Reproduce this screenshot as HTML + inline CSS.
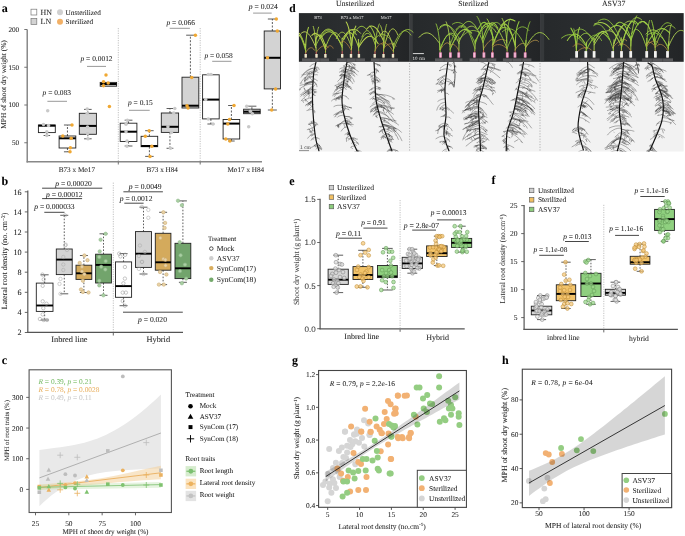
<!DOCTYPE html><html><head><meta charset="utf-8"><style>html,body{margin:0;padding:0;background:#fff;}svg{display:block;will-change:transform;text-rendering:geometricPrecision;font-family:"Liberation Serif",serif;}</style></head><body>
<svg width="685" height="536" viewBox="0 0 685 536">
<rect width="685" height="536" fill="#fff"/>
<text x="1.8" y="11.7" font-size="12" text-anchor="start" fill="#000" font-weight="bold" font-style="normal" stroke="#000" stroke-width="0.05">a</text>
<rect x="31" y="9.2" width="5.8" height="5.8" fill="#fff" stroke="#777" stroke-width="0.7"/>
<rect x="31" y="18.6" width="5.8" height="5.8" fill="#d3d3d3" stroke="#777" stroke-width="0.7"/>
<text x="40.6" y="15" font-size="7.9" text-anchor="start" fill="#222" font-weight="normal" font-style="normal" stroke="#222" stroke-width="0.05">HN</text>
<text x="40.6" y="24.2" font-size="7.9" text-anchor="start" fill="#222" font-weight="normal" font-style="normal" stroke="#222" stroke-width="0.05">LN</text>
<circle cx="60" cy="12.2" r="3.0" fill="#d0d0d0" stroke="none" stroke-width="0.6"/>
<circle cx="60" cy="21.7" r="3.0" fill="#f2b066" stroke="none" stroke-width="0.6"/>
<text x="65.6" y="15" font-size="7.2" text-anchor="start" fill="#222" font-weight="normal" font-style="normal" stroke="#222" stroke-width="0.05">Unsterilized</text>
<text x="65.6" y="24.2" font-size="7.2" text-anchor="start" fill="#222" font-weight="normal" font-style="normal" stroke="#222" stroke-width="0.05">Sterilized</text>
<line x1="27.2" y1="29.5" x2="27.2" y2="162.4" stroke="#777" stroke-width="1.3"/>
<line x1="26.6" y1="161.8" x2="262" y2="161.8" stroke="#888" stroke-width="1.5"/>
<line x1="24.3" y1="29.5" x2="27.2" y2="29.5" stroke="#666" stroke-width="0.9"/>
<text x="19.2" y="31.9" font-size="7.2" text-anchor="end" fill="#222" font-weight="normal" font-style="normal" stroke="#222" stroke-width="0.05">200</text>
<line x1="24.3" y1="67.25" x2="27.2" y2="67.25" stroke="#666" stroke-width="0.9"/>
<text x="19.2" y="69.65" font-size="7.2" text-anchor="end" fill="#222" font-weight="normal" font-style="normal" stroke="#222" stroke-width="0.05">150</text>
<line x1="24.3" y1="105.0" x2="27.2" y2="105.0" stroke="#666" stroke-width="0.9"/>
<text x="19.2" y="107.4" font-size="7.2" text-anchor="end" fill="#222" font-weight="normal" font-style="normal" stroke="#222" stroke-width="0.05">100</text>
<line x1="24.3" y1="142.75" x2="27.2" y2="142.75" stroke="#666" stroke-width="0.9"/>
<text x="19.2" y="145.15" font-size="7.2" text-anchor="end" fill="#222" font-weight="normal" font-style="normal" stroke="#222" stroke-width="0.05">50</text>
<line x1="118.3" y1="161.8" x2="118.3" y2="164.5" stroke="#666" stroke-width="0.9"/>
<line x1="118.3" y1="28" x2="118.3" y2="161.5" stroke="#999" stroke-width="0.6" stroke-dasharray="1.2,1.2"/>
<line x1="200.2" y1="161.8" x2="200.2" y2="164.5" stroke="#666" stroke-width="0.9"/>
<line x1="200.2" y1="28" x2="200.2" y2="161.5" stroke="#999" stroke-width="0.6" stroke-dasharray="1.2,1.2"/>
<text x="6.2" y="84.5" font-size="7.4" text-anchor="middle" fill="#222" font-weight="normal" font-style="normal" transform="rotate(-90 6.2 84.5)" stroke="#222" stroke-width="0.05">MPH of shoot dry weight (%)</text>
<text x="76.9" y="171.5" font-size="7.2" text-anchor="middle" fill="#222" font-weight="normal" font-style="normal" stroke="#222" stroke-width="0.05">B73 x Mo17</text>
<text x="162.2" y="171.5" font-size="7.2" text-anchor="middle" fill="#222" font-weight="normal" font-style="normal" stroke="#222" stroke-width="0.05">B73 x H84</text>
<text x="245.8" y="171.5" font-size="7.2" text-anchor="middle" fill="#222" font-weight="normal" font-style="normal" stroke="#222" stroke-width="0.05">Mo17 x H84</text>
<text x="42.6" y="94.8" font-size="7.45" text-anchor="start" fill="#222" stroke="#222" stroke-width="0.05"><tspan font-style="italic">p</tspan> = 0.083</text>
<line x1="47.4" y1="101.3" x2="67" y2="101.3" stroke="#999" stroke-width="1"/>
<text x="80.5" y="61" font-size="7.45" text-anchor="start" fill="#222" stroke="#222" stroke-width="0.05"><tspan font-style="italic">p</tspan> = 0.0012</text>
<line x1="87" y1="66.4" x2="106" y2="66.4" stroke="#999" stroke-width="1"/>
<text x="128" y="105.2" font-size="7.45" text-anchor="start" fill="#222" stroke="#222" stroke-width="0.05"><tspan font-style="italic">p</tspan> = 0.15</text>
<line x1="129" y1="110.3" x2="149.7" y2="110.3" stroke="#999" stroke-width="1"/>
<text x="166.5" y="25" font-size="7.45" text-anchor="start" fill="#222" stroke="#222" stroke-width="0.05"><tspan font-style="italic">p</tspan> = 0.066</text>
<line x1="169.7" y1="28.3" x2="189.9" y2="28.3" stroke="#999" stroke-width="1"/>
<text x="204.4" y="57.6" font-size="7.45" text-anchor="start" fill="#222" stroke="#222" stroke-width="0.05"><tspan font-style="italic">p</tspan> = 0.058</text>
<line x1="212.2" y1="61.3" x2="231.5" y2="61.3" stroke="#999" stroke-width="1"/>
<text x="248.8" y="8.8" font-size="7.6" text-anchor="start" fill="#222" stroke="#222" stroke-width="0.05"><tspan font-style="italic">p</tspan> = 0.024</text>
<line x1="253.1" y1="13.1" x2="271.7" y2="13.1" stroke="#999" stroke-width="1"/>
<line x1="46.849999999999994" y1="132.6" x2="46.849999999999994" y2="135.5" stroke="#333" stroke-width="0.8" stroke-dasharray="2,1.5"/>
<line x1="43.599999999999994" y1="135.5" x2="50.099999999999994" y2="135.5" stroke="#333" stroke-width="0.8"/>
<rect x="38.4" y="125" width="16.9" height="7.599999999999994" fill="#fff" stroke="#222" stroke-width="0.9"/>
<line x1="38.4" y1="125.7" x2="55.3" y2="125.7" stroke="#000" stroke-width="2.0"/>
<circle cx="47.7" cy="110.8" r="1.75" fill="#c9c9c9" stroke="none" stroke-width="0.5"/>
<circle cx="43.5" cy="124.5" r="1.75" fill="#c9c9c9" stroke="none" stroke-width="0.5"/>
<circle cx="48.5" cy="125.4" r="1.75" fill="#c9c9c9" stroke="none" stroke-width="0.5"/>
<circle cx="46.8" cy="131.8" r="1.75" fill="#c9c9c9" stroke="none" stroke-width="0.5"/>
<circle cx="46.8" cy="135.5" r="1.75" fill="#c9c9c9" stroke="none" stroke-width="0.5"/>
<line x1="67.45" y1="136" x2="67.45" y2="125" stroke="#333" stroke-width="0.8" stroke-dasharray="2,1.5"/>
<line x1="63.95" y1="125" x2="70.95" y2="125" stroke="#333" stroke-width="0.8"/>
<line x1="67.45" y1="148" x2="67.45" y2="151.8" stroke="#333" stroke-width="0.8" stroke-dasharray="2,1.5"/>
<line x1="63.95" y1="151.8" x2="70.95" y2="151.8" stroke="#333" stroke-width="0.8"/>
<rect x="59.1" y="136" width="16.699999999999996" height="12" fill="#fff" stroke="#222" stroke-width="0.9"/>
<line x1="59.1" y1="138.3" x2="75.8" y2="138.3" stroke="#000" stroke-width="2.0"/>
<circle cx="72" cy="125" r="1.75" fill="#f0a833" stroke="none" stroke-width="0.5"/>
<circle cx="62.8" cy="136" r="1.75" fill="#f0a833" stroke="none" stroke-width="0.5"/>
<circle cx="71.2" cy="138.3" r="1.75" fill="#f0a833" stroke="none" stroke-width="0.5"/>
<circle cx="70.4" cy="147.7" r="1.75" fill="#f0a833" stroke="none" stroke-width="0.5"/>
<circle cx="70" cy="151.8" r="1.75" fill="#f0a833" stroke="none" stroke-width="0.5"/>
<line x1="87.85" y1="113.3" x2="87.85" y2="109.4" stroke="#333" stroke-width="0.8" stroke-dasharray="2,1.5"/>
<line x1="84.05" y1="109.4" x2="91.64999999999999" y2="109.4" stroke="#333" stroke-width="0.8"/>
<line x1="87.85" y1="134.3" x2="87.85" y2="138.8" stroke="#333" stroke-width="0.8" stroke-dasharray="2,1.5"/>
<line x1="84.05" y1="138.8" x2="91.64999999999999" y2="138.8" stroke="#333" stroke-width="0.8"/>
<rect x="79.3" y="113.3" width="17.10000000000001" height="21.000000000000014" fill="#d3d3d3" stroke="#222" stroke-width="0.9"/>
<line x1="79.3" y1="125.9" x2="96.4" y2="125.9" stroke="#000" stroke-width="2.0"/>
<circle cx="87.2" cy="108.9" r="1.75" fill="#c9c9c9" stroke="none" stroke-width="0.5"/>
<circle cx="87.2" cy="113.6" r="1.75" fill="#c9c9c9" stroke="none" stroke-width="0.5"/>
<circle cx="87.5" cy="127" r="1.75" fill="#c9c9c9" stroke="none" stroke-width="0.5"/>
<circle cx="87.5" cy="133.4" r="1.75" fill="#c9c9c9" stroke="none" stroke-width="0.5"/>
<circle cx="88" cy="138.8" r="1.75" fill="#c9c9c9" stroke="none" stroke-width="0.5"/>
<rect x="100.2" y="82.4" width="16.39999999999999" height="3.799999999999997" fill="#d3d3d3" stroke="#222" stroke-width="0.9"/>
<line x1="100.2" y1="84" x2="116.6" y2="84" stroke="#000" stroke-width="2.0"/>
<circle cx="106" cy="75" r="1.75" fill="#f0a833" stroke="none" stroke-width="0.5"/>
<circle cx="103.5" cy="81.7" r="1.75" fill="#f0a833" stroke="none" stroke-width="0.5"/>
<circle cx="108.2" cy="82.9" r="1.75" fill="#f0a833" stroke="none" stroke-width="0.5"/>
<circle cx="103.5" cy="85.7" r="1.75" fill="#f0a833" stroke="none" stroke-width="0.5"/>
<circle cx="109.4" cy="106.4" r="1.75" fill="#f0a833" stroke="none" stroke-width="0.5"/>
<line x1="128.55" y1="123.2" x2="128.55" y2="120.2" stroke="#333" stroke-width="0.8" stroke-dasharray="2,1.5"/>
<line x1="124.65" y1="120.2" x2="132.45000000000002" y2="120.2" stroke="#333" stroke-width="0.8"/>
<line x1="128.55" y1="141.5" x2="128.55" y2="146" stroke="#333" stroke-width="0.8" stroke-dasharray="2,1.5"/>
<line x1="124.65" y1="146" x2="132.45000000000002" y2="146" stroke="#333" stroke-width="0.8"/>
<rect x="120.2" y="123.2" width="16.700000000000003" height="18.299999999999997" fill="#fff" stroke="#222" stroke-width="0.9"/>
<line x1="120.2" y1="131.7" x2="136.9" y2="131.7" stroke="#000" stroke-width="2.0"/>
<circle cx="127.4" cy="120.2" r="1.75" fill="#c9c9c9" stroke="none" stroke-width="0.5"/>
<circle cx="126" cy="124.2" r="1.75" fill="#c9c9c9" stroke="none" stroke-width="0.5"/>
<circle cx="126" cy="131.7" r="1.75" fill="#c9c9c9" stroke="none" stroke-width="0.5"/>
<circle cx="127" cy="141.1" r="1.75" fill="#c9c9c9" stroke="none" stroke-width="0.5"/>
<circle cx="127" cy="146.3" r="1.75" fill="#c9c9c9" stroke="none" stroke-width="0.5"/>
<line x1="149.39999999999998" y1="136.3" x2="149.39999999999998" y2="130.7" stroke="#333" stroke-width="0.8" stroke-dasharray="2,1.5"/>
<line x1="145.14999999999998" y1="130.7" x2="153.64999999999998" y2="130.7" stroke="#333" stroke-width="0.8"/>
<line x1="149.39999999999998" y1="146.7" x2="149.39999999999998" y2="156.4" stroke="#333" stroke-width="0.8" stroke-dasharray="2,1.5"/>
<line x1="145.14999999999998" y1="156.4" x2="153.64999999999998" y2="156.4" stroke="#333" stroke-width="0.8"/>
<rect x="141.1" y="136.3" width="16.599999999999994" height="10.399999999999977" fill="#fff" stroke="#222" stroke-width="0.9"/>
<line x1="141.1" y1="146" x2="157.7" y2="146" stroke="#000" stroke-width="2.0"/>
<circle cx="149.2" cy="130.7" r="1.75" fill="#f0a833" stroke="none" stroke-width="0.5"/>
<circle cx="145.3" cy="136.3" r="1.75" fill="#f0a833" stroke="none" stroke-width="0.5"/>
<circle cx="151.8" cy="146.3" r="1.75" fill="#f0a833" stroke="none" stroke-width="0.5"/>
<circle cx="150" cy="156.4" r="1.75" fill="#f0a833" stroke="none" stroke-width="0.5"/>
<line x1="169.95" y1="113" x2="169.95" y2="108.5" stroke="#333" stroke-width="0.8" stroke-dasharray="2,1.5"/>
<line x1="166.54999999999998" y1="108.5" x2="173.35" y2="108.5" stroke="#333" stroke-width="0.8"/>
<line x1="169.95" y1="132.4" x2="169.95" y2="148.3" stroke="#333" stroke-width="0.8" stroke-dasharray="2,1.5"/>
<line x1="166.54999999999998" y1="148.3" x2="173.35" y2="148.3" stroke="#333" stroke-width="0.8"/>
<rect x="161.3" y="113" width="17.299999999999983" height="19.400000000000006" fill="#d3d3d3" stroke="#222" stroke-width="0.9"/>
<line x1="161.3" y1="126.8" x2="178.6" y2="126.8" stroke="#000" stroke-width="2.0"/>
<circle cx="174.8" cy="108.5" r="1.75" fill="#c9c9c9" stroke="none" stroke-width="0.5"/>
<circle cx="173.7" cy="113" r="1.75" fill="#c9c9c9" stroke="none" stroke-width="0.5"/>
<circle cx="167.9" cy="126.8" r="1.75" fill="#c9c9c9" stroke="none" stroke-width="0.5"/>
<circle cx="171.4" cy="132.6" r="1.75" fill="#c9c9c9" stroke="none" stroke-width="0.5"/>
<circle cx="170.5" cy="148.3" r="1.75" fill="#c9c9c9" stroke="none" stroke-width="0.5"/>
<line x1="190.4" y1="77.2" x2="190.4" y2="35.2" stroke="#333" stroke-width="0.8" stroke-dasharray="2,1.5"/>
<line x1="186.15" y1="35.2" x2="194.65" y2="35.2" stroke="#333" stroke-width="0.8"/>
<rect x="182" y="77.2" width="16.80000000000001" height="30.799999999999997" fill="#d3d3d3" stroke="#222" stroke-width="0.9"/>
<line x1="182" y1="105.7" x2="198.8" y2="105.7" stroke="#000" stroke-width="2.0"/>
<circle cx="195.4" cy="35.2" r="1.75" fill="#f0a833" stroke="none" stroke-width="0.5"/>
<circle cx="191.7" cy="77.5" r="1.75" fill="#f0a833" stroke="none" stroke-width="0.5"/>
<circle cx="187" cy="105.7" r="1.75" fill="#f0a833" stroke="none" stroke-width="0.5"/>
<circle cx="188" cy="108" r="1.75" fill="#f0a833" stroke="none" stroke-width="0.5"/>
<line x1="210.89999999999998" y1="118.9" x2="210.89999999999998" y2="124" stroke="#333" stroke-width="0.8" stroke-dasharray="2,1.5"/>
<line x1="207.39999999999998" y1="124" x2="214.39999999999998" y2="124" stroke="#333" stroke-width="0.8"/>
<rect x="202.6" y="74.8" width="16.599999999999994" height="44.10000000000001" fill="#fff" stroke="#222" stroke-width="0.9"/>
<line x1="202.6" y1="99.6" x2="219.2" y2="99.6" stroke="#000" stroke-width="2.0"/>
<circle cx="208.3" cy="74.4" r="1.75" fill="#c9c9c9" stroke="none" stroke-width="0.5"/>
<circle cx="211" cy="74.4" r="1.75" fill="#c9c9c9" stroke="none" stroke-width="0.5"/>
<circle cx="205.7" cy="99.6" r="1.75" fill="#c9c9c9" stroke="none" stroke-width="0.5"/>
<circle cx="208.3" cy="118.9" r="1.75" fill="#c9c9c9" stroke="none" stroke-width="0.5"/>
<circle cx="213" cy="124" r="1.75" fill="#c9c9c9" stroke="none" stroke-width="0.5"/>
<line x1="231.39999999999998" y1="119.5" x2="231.39999999999998" y2="105.5" stroke="#333" stroke-width="0.8" stroke-dasharray="2,1.5"/>
<line x1="228.09999999999997" y1="105.5" x2="234.7" y2="105.5" stroke="#333" stroke-width="0.8"/>
<line x1="231.39999999999998" y1="139" x2="231.39999999999998" y2="141" stroke="#333" stroke-width="0.8" stroke-dasharray="2,1.5"/>
<line x1="228.09999999999997" y1="141" x2="234.7" y2="141" stroke="#333" stroke-width="0.8"/>
<rect x="223.1" y="119.5" width="16.599999999999994" height="19.5" fill="#fff" stroke="#222" stroke-width="0.9"/>
<line x1="223.1" y1="123.6" x2="239.7" y2="123.6" stroke="#000" stroke-width="2.0"/>
<circle cx="234" cy="105.5" r="1.75" fill="#f0a833" stroke="none" stroke-width="0.5"/>
<circle cx="229.5" cy="119.5" r="1.75" fill="#f0a833" stroke="none" stroke-width="0.5"/>
<circle cx="227.8" cy="124" r="1.75" fill="#f0a833" stroke="none" stroke-width="0.5"/>
<circle cx="225.8" cy="139" r="1.75" fill="#f0a833" stroke="none" stroke-width="0.5"/>
<circle cx="229.9" cy="141" r="1.75" fill="#f0a833" stroke="none" stroke-width="0.5"/>
<line x1="251.89999999999998" y1="109.2" x2="251.89999999999998" y2="106.2" stroke="#333" stroke-width="0.8" stroke-dasharray="2,1.5"/>
<line x1="247.39999999999998" y1="106.2" x2="256.4" y2="106.2" stroke="#333" stroke-width="0.8"/>
<rect x="243.6" y="109.2" width="16.599999999999994" height="4.5" fill="#d3d3d3" stroke="#222" stroke-width="0.9"/>
<line x1="243.6" y1="111.7" x2="260.2" y2="111.7" stroke="#000" stroke-width="2.0"/>
<circle cx="246.7" cy="106.2" r="1.75" fill="#c9c9c9" stroke="none" stroke-width="0.5"/>
<circle cx="250.4" cy="111.3" r="1.75" fill="#c9c9c9" stroke="none" stroke-width="0.5"/>
<circle cx="252.4" cy="113.7" r="1.75" fill="#c9c9c9" stroke="none" stroke-width="0.5"/>
<circle cx="248.7" cy="126.7" r="1.75" fill="#c9c9c9" stroke="none" stroke-width="0.5"/>
<line x1="272.35" y1="31" x2="272.35" y2="19" stroke="#333" stroke-width="0.8" stroke-dasharray="2,1.5"/>
<line x1="267.85" y1="19" x2="276.85" y2="19" stroke="#333" stroke-width="0.8"/>
<line x1="272.35" y1="88.9" x2="272.35" y2="110" stroke="#333" stroke-width="0.8" stroke-dasharray="2,1.5"/>
<line x1="267.85" y1="110" x2="276.85" y2="110" stroke="#333" stroke-width="0.8"/>
<rect x="264.2" y="31" width="16.30000000000001" height="57.900000000000006" fill="#d3d3d3" stroke="#222" stroke-width="0.9"/>
<line x1="264.2" y1="57.8" x2="280.5" y2="57.8" stroke="#000" stroke-width="2.0"/>
<circle cx="276.3" cy="19" r="1.75" fill="#f0a833" stroke="none" stroke-width="0.5"/>
<circle cx="277.3" cy="31" r="1.75" fill="#f0a833" stroke="none" stroke-width="0.5"/>
<circle cx="267.5" cy="57.8" r="1.75" fill="#f0a833" stroke="none" stroke-width="0.5"/>
<circle cx="275.6" cy="88.9" r="1.75" fill="#f0a833" stroke="none" stroke-width="0.5"/>
<circle cx="271.7" cy="110" r="1.75" fill="#f0a833" stroke="none" stroke-width="0.5"/>
<text x="1.5" y="184.7" font-size="12" text-anchor="start" fill="#000" font-weight="bold" font-style="normal" stroke="#000" stroke-width="0.05">b</text>
<line x1="27.8" y1="190.5" x2="27.8" y2="332.8" stroke="#555" stroke-width="1.2"/>
<line x1="27.2" y1="332.3" x2="183" y2="332.3" stroke="#555" stroke-width="1.2"/>
<line x1="24.8" y1="191.8" x2="27.8" y2="191.8" stroke="#555" stroke-width="0.9"/>
<text x="21.6" y="194.5" font-size="8.2" text-anchor="end" fill="#222" font-weight="normal" font-style="normal" stroke="#222" stroke-width="0.05">16</text>
<line x1="24.8" y1="211.9" x2="27.8" y2="211.9" stroke="#555" stroke-width="0.9"/>
<text x="21.6" y="214.6" font-size="8.2" text-anchor="end" fill="#222" font-weight="normal" font-style="normal" stroke="#222" stroke-width="0.05">14</text>
<line x1="24.8" y1="232.0" x2="27.8" y2="232.0" stroke="#555" stroke-width="0.9"/>
<text x="21.6" y="234.7" font-size="8.2" text-anchor="end" fill="#222" font-weight="normal" font-style="normal" stroke="#222" stroke-width="0.05">12</text>
<line x1="24.8" y1="252.10000000000002" x2="27.8" y2="252.10000000000002" stroke="#555" stroke-width="0.9"/>
<text x="21.6" y="254.8" font-size="8.2" text-anchor="end" fill="#222" font-weight="normal" font-style="normal" stroke="#222" stroke-width="0.05">10</text>
<line x1="24.8" y1="272.20000000000005" x2="27.8" y2="272.20000000000005" stroke="#555" stroke-width="0.9"/>
<text x="21.6" y="274.90000000000003" font-size="8.2" text-anchor="end" fill="#222" font-weight="normal" font-style="normal" stroke="#222" stroke-width="0.05">8</text>
<line x1="24.8" y1="292.3" x2="27.8" y2="292.3" stroke="#555" stroke-width="0.9"/>
<text x="21.6" y="295.0" font-size="8.2" text-anchor="end" fill="#222" font-weight="normal" font-style="normal" stroke="#222" stroke-width="0.05">6</text>
<line x1="24.8" y1="312.40000000000003" x2="27.8" y2="312.40000000000003" stroke="#555" stroke-width="0.9"/>
<text x="21.6" y="315.1" font-size="8.2" text-anchor="end" fill="#222" font-weight="normal" font-style="normal" stroke="#222" stroke-width="0.05">4</text>
<line x1="24.8" y1="332.5" x2="27.8" y2="332.5" stroke="#555" stroke-width="0.9"/>
<text x="21.6" y="335.2" font-size="8.2" text-anchor="end" fill="#222" font-weight="normal" font-style="normal" stroke="#222" stroke-width="0.05">2</text>
<line x1="113.3" y1="333" x2="113.3" y2="335.5" stroke="#555" stroke-width="0.9"/>
<line x1="113.3" y1="182.6" x2="113.3" y2="332" stroke="#999" stroke-width="0.6" stroke-dasharray="1.2,1.2"/>
<text x="7" y="261" font-size="7.95" text-anchor="middle" fill="#222" transform="rotate(-90 7 261)" stroke="#222" stroke-width="0.05">Lateral root density (no. cm<tspan dy="-2.5" font-size="5.5">−2</tspan><tspan dy="2.5">)</tspan></text>
<text x="69.4" y="341.9" font-size="8.35" text-anchor="middle" fill="#222" font-weight="normal" font-style="normal" stroke="#222" stroke-width="0.05">Inbred line</text>
<text x="158.3" y="341.5" font-size="8.35" text-anchor="middle" fill="#222" font-weight="normal" font-style="normal" stroke="#222" stroke-width="0.05">Hybrid</text>
<text x="55.2" y="186.4" font-size="7.6" text-anchor="start" fill="#222" stroke="#222" stroke-width="0.05"><tspan font-style="italic">p</tspan> = 0.00020</text>
<line x1="42.1" y1="188.2" x2="102.3" y2="188.2" stroke="#333" stroke-width="0.9"/>
<text x="46" y="196.8" font-size="7.6" text-anchor="start" fill="#222" stroke="#222" stroke-width="0.05"><tspan font-style="italic">p</tspan> = 0.00012</text>
<line x1="42.1" y1="198.6" x2="82.1" y2="198.6" stroke="#333" stroke-width="0.9"/>
<text x="34.2" y="208.6" font-size="7.6" text-anchor="start" fill="#222" stroke="#222" stroke-width="0.05"><tspan font-style="italic">p</tspan> = 0.000033</text>
<line x1="44.3" y1="212.3" x2="64.5" y2="212.3" stroke="#333" stroke-width="0.9"/>
<text x="128.8" y="188.8" font-size="7.6" text-anchor="start" fill="#222" stroke="#222" stroke-width="0.05"><tspan font-style="italic">p</tspan> = 0.0049</text>
<line x1="123.4" y1="191.8" x2="162.9" y2="191.8" stroke="#333" stroke-width="0.9"/>
<text x="119.7" y="201" font-size="7.6" text-anchor="start" fill="#222" stroke="#222" stroke-width="0.05"><tspan font-style="italic">p</tspan> = 0.0012</text>
<line x1="124.3" y1="203.2" x2="143.6" y2="203.2" stroke="#333" stroke-width="0.9"/>
<line x1="123" y1="312.2" x2="182.8" y2="312.2" stroke="#333" stroke-width="0.9"/>
<text x="138" y="321.5" font-size="7.6" text-anchor="start" fill="#222" stroke="#222" stroke-width="0.05"><tspan font-style="italic">p</tspan> = 0.020</text>
<line x1="44.65" y1="283.1" x2="44.65" y2="274.8" stroke="#333" stroke-width="0.8" stroke-dasharray="1.6,1.6"/>
<line x1="40.65" y1="274.8" x2="48.65" y2="274.8" stroke="#333" stroke-width="0.8"/>
<line x1="44.65" y1="311.4" x2="44.65" y2="320" stroke="#333" stroke-width="0.8" stroke-dasharray="1.6,1.6"/>
<line x1="40.65" y1="320" x2="48.65" y2="320" stroke="#333" stroke-width="0.8"/>
<rect x="36.3" y="283.1" width="16.700000000000003" height="28.299999999999955" fill="#fff" stroke="#222" stroke-width="0.9"/>
<line x1="36.3" y1="305.5" x2="53" y2="305.5" stroke="#000" stroke-width="1.9"/>
<circle cx="42.4" cy="274.6" r="1.7" fill="none" stroke="#999" stroke-width="0.55"/>
<circle cx="43.7" cy="279.4" r="1.7" fill="none" stroke="#999" stroke-width="0.55"/>
<circle cx="42.7" cy="285.8" r="1.7" fill="none" stroke="#999" stroke-width="0.55"/>
<circle cx="42.7" cy="301.3" r="1.7" fill="none" stroke="#999" stroke-width="0.55"/>
<circle cx="46.5" cy="303.7" r="1.7" fill="none" stroke="#999" stroke-width="0.55"/>
<circle cx="43.3" cy="308.2" r="1.7" fill="none" stroke="#999" stroke-width="0.55"/>
<circle cx="42.7" cy="314.4" r="1.7" fill="none" stroke="#999" stroke-width="0.55"/>
<circle cx="39.9" cy="319" r="1.7" fill="none" stroke="#999" stroke-width="0.55"/>
<circle cx="43.7" cy="320" r="1.7" fill="none" stroke="#999" stroke-width="0.55"/>
<circle cx="47" cy="320" r="1.7" fill="none" stroke="#999" stroke-width="0.55"/>
<line x1="64.25" y1="249" x2="64.25" y2="215.3" stroke="#333" stroke-width="0.8" stroke-dasharray="1.6,1.6"/>
<line x1="60.25" y1="215.3" x2="68.25" y2="215.3" stroke="#333" stroke-width="0.8"/>
<line x1="64.25" y1="274.6" x2="64.25" y2="293.8" stroke="#333" stroke-width="0.8" stroke-dasharray="1.6,1.6"/>
<line x1="60.25" y1="293.8" x2="68.25" y2="293.8" stroke="#333" stroke-width="0.8"/>
<rect x="56.3" y="249" width="15.900000000000006" height="25.600000000000023" fill="#d3d3d3" stroke="#222" stroke-width="0.9"/>
<line x1="56.3" y1="259.6" x2="72.2" y2="259.6" stroke="#000" stroke-width="1.9"/>
<circle cx="65" cy="215.3" r="1.7" fill="none" stroke="#aaa" stroke-width="0.55"/>
<circle cx="65.8" cy="244.7" r="1.7" fill="none" stroke="#aaa" stroke-width="0.55"/>
<circle cx="65.1" cy="245.3" r="1.7" fill="none" stroke="#aaa" stroke-width="0.55"/>
<circle cx="67" cy="250" r="1.7" fill="none" stroke="#aaa" stroke-width="0.55"/>
<circle cx="63.3" cy="257" r="1.7" fill="none" stroke="#aaa" stroke-width="0.55"/>
<circle cx="63.3" cy="264.5" r="1.7" fill="none" stroke="#aaa" stroke-width="0.55"/>
<circle cx="63.3" cy="270" r="1.7" fill="none" stroke="#aaa" stroke-width="0.55"/>
<circle cx="60.5" cy="278.9" r="1.7" fill="none" stroke="#aaa" stroke-width="0.55"/>
<circle cx="59.5" cy="283.9" r="1.7" fill="none" stroke="#aaa" stroke-width="0.55"/>
<circle cx="60.5" cy="293.8" r="1.7" fill="none" stroke="#aaa" stroke-width="0.55"/>
<line x1="83.9" y1="265.2" x2="83.9" y2="255.5" stroke="#333" stroke-width="0.8" stroke-dasharray="1.6,1.6"/>
<line x1="79.9" y1="255.5" x2="87.9" y2="255.5" stroke="#333" stroke-width="0.8"/>
<line x1="83.9" y1="279.4" x2="83.9" y2="292.5" stroke="#333" stroke-width="0.8" stroke-dasharray="1.6,1.6"/>
<line x1="79.9" y1="292.5" x2="87.9" y2="292.5" stroke="#333" stroke-width="0.8"/>
<rect x="76" y="265.2" width="15.799999999999997" height="14.199999999999989" fill="#d4aa5c" stroke="#222" stroke-width="0.9"/>
<line x1="76" y1="273.3" x2="91.8" y2="273.3" stroke="#000" stroke-width="1.9"/>
<circle cx="84.4" cy="255.5" r="1.7" fill="#e8d2a8" stroke="#c9a86a" stroke-width="0.55"/>
<circle cx="87.5" cy="260.2" r="1.7" fill="#e8d2a8" stroke="#c9a86a" stroke-width="0.55"/>
<circle cx="79.7" cy="263" r="1.7" fill="#e8d2a8" stroke="#c9a86a" stroke-width="0.55"/>
<circle cx="82" cy="266.7" r="1.7" fill="#e8d2a8" stroke="#c9a86a" stroke-width="0.55"/>
<circle cx="82" cy="271.4" r="1.7" fill="#e8d2a8" stroke="#c9a86a" stroke-width="0.55"/>
<circle cx="84.4" cy="274.2" r="1.7" fill="#e8d2a8" stroke="#c9a86a" stroke-width="0.55"/>
<circle cx="82.9" cy="280.7" r="1.7" fill="#e8d2a8" stroke="#c9a86a" stroke-width="0.55"/>
<circle cx="81" cy="289.5" r="1.7" fill="#e8d2a8" stroke="#c9a86a" stroke-width="0.55"/>
<circle cx="88.5" cy="292.5" r="1.7" fill="#e8d2a8" stroke="#c9a86a" stroke-width="0.55"/>
<circle cx="82.9" cy="292" r="1.7" fill="#e8d2a8" stroke="#c9a86a" stroke-width="0.55"/>
<line x1="103.5" y1="254.2" x2="103.5" y2="233.8" stroke="#333" stroke-width="0.8" stroke-dasharray="1.6,1.6"/>
<line x1="99.5" y1="233.8" x2="107.5" y2="233.8" stroke="#333" stroke-width="0.8"/>
<line x1="103.5" y1="283" x2="103.5" y2="295.3" stroke="#333" stroke-width="0.8" stroke-dasharray="1.6,1.6"/>
<line x1="99.5" y1="295.3" x2="107.5" y2="295.3" stroke="#333" stroke-width="0.8"/>
<rect x="95.6" y="254.2" width="15.800000000000011" height="28.80000000000001" fill="#72a46c" stroke="#222" stroke-width="0.9"/>
<line x1="95.6" y1="264.9" x2="111.4" y2="264.9" stroke="#000" stroke-width="1.9"/>
<circle cx="105.6" cy="233.8" r="1.7" fill="#a9cfa3" stroke="#8fb88a" stroke-width="0.55"/>
<circle cx="100.6" cy="239.7" r="1.7" fill="#a9cfa3" stroke="#8fb88a" stroke-width="0.55"/>
<circle cx="99.7" cy="251.4" r="1.7" fill="#a9cfa3" stroke="#8fb88a" stroke-width="0.55"/>
<circle cx="99.3" cy="257" r="1.7" fill="#a9cfa3" stroke="#8fb88a" stroke-width="0.55"/>
<circle cx="105.7" cy="261.1" r="1.7" fill="#a9cfa3" stroke="#8fb88a" stroke-width="0.55"/>
<circle cx="101.2" cy="266.7" r="1.7" fill="#a9cfa3" stroke="#8fb88a" stroke-width="0.55"/>
<circle cx="105.3" cy="269.5" r="1.7" fill="#a9cfa3" stroke="#8fb88a" stroke-width="0.55"/>
<circle cx="99.3" cy="280.7" r="1.7" fill="#a9cfa3" stroke="#8fb88a" stroke-width="0.55"/>
<circle cx="99.3" cy="285.4" r="1.7" fill="#a9cfa3" stroke="#8fb88a" stroke-width="0.55"/>
<circle cx="103.4" cy="295.3" r="1.7" fill="#a9cfa3" stroke="#8fb88a" stroke-width="0.55"/>
<line x1="123.55" y1="261.9" x2="123.55" y2="253.6" stroke="#333" stroke-width="0.8" stroke-dasharray="1.6,1.6"/>
<line x1="119.55" y1="253.6" x2="127.55" y2="253.6" stroke="#333" stroke-width="0.8"/>
<line x1="123.55" y1="297.3" x2="123.55" y2="305.7" stroke="#333" stroke-width="0.8" stroke-dasharray="1.6,1.6"/>
<line x1="119.55" y1="305.7" x2="127.55" y2="305.7" stroke="#333" stroke-width="0.8"/>
<rect x="115.5" y="261.9" width="16.099999999999994" height="35.400000000000034" fill="#fff" stroke="#222" stroke-width="0.9"/>
<line x1="115.5" y1="286.1" x2="131.6" y2="286.1" stroke="#000" stroke-width="1.9"/>
<circle cx="119.2" cy="253.6" r="1.7" fill="none" stroke="#999" stroke-width="0.55"/>
<circle cx="120.4" cy="256.4" r="1.7" fill="none" stroke="#999" stroke-width="0.55"/>
<circle cx="125.1" cy="254.8" r="1.7" fill="none" stroke="#999" stroke-width="0.55"/>
<circle cx="124.9" cy="267" r="1.7" fill="none" stroke="#999" stroke-width="0.55"/>
<circle cx="124.9" cy="278.6" r="1.7" fill="none" stroke="#999" stroke-width="0.55"/>
<circle cx="123.4" cy="283.3" r="1.7" fill="none" stroke="#999" stroke-width="0.55"/>
<circle cx="122.7" cy="292.6" r="1.7" fill="none" stroke="#999" stroke-width="0.55"/>
<circle cx="125.9" cy="292.6" r="1.7" fill="none" stroke="#999" stroke-width="0.55"/>
<circle cx="122.7" cy="301" r="1.7" fill="none" stroke="#999" stroke-width="0.55"/>
<circle cx="124.9" cy="305.7" r="1.7" fill="none" stroke="#999" stroke-width="0.55"/>
<line x1="143.5" y1="231.6" x2="143.5" y2="207.2" stroke="#333" stroke-width="0.8" stroke-dasharray="1.6,1.6"/>
<line x1="139.5" y1="207.2" x2="147.5" y2="207.2" stroke="#333" stroke-width="0.8"/>
<line x1="143.5" y1="267.4" x2="143.5" y2="274" stroke="#333" stroke-width="0.8" stroke-dasharray="1.6,1.6"/>
<line x1="139.5" y1="274" x2="147.5" y2="274" stroke="#333" stroke-width="0.8"/>
<rect x="135.5" y="231.6" width="16.0" height="35.79999999999998" fill="#d3d3d3" stroke="#222" stroke-width="0.9"/>
<line x1="135.5" y1="253.7" x2="151.5" y2="253.7" stroke="#000" stroke-width="1.9"/>
<circle cx="141.9" cy="206.9" r="1.7" fill="none" stroke="#aaa" stroke-width="0.55"/>
<circle cx="148.3" cy="209.9" r="1.7" fill="none" stroke="#aaa" stroke-width="0.55"/>
<circle cx="148.3" cy="217.8" r="1.7" fill="none" stroke="#aaa" stroke-width="0.55"/>
<circle cx="139.9" cy="245.5" r="1.7" fill="none" stroke="#aaa" stroke-width="0.55"/>
<circle cx="144.9" cy="251.9" r="1.7" fill="none" stroke="#aaa" stroke-width="0.55"/>
<circle cx="138.9" cy="256" r="1.7" fill="none" stroke="#aaa" stroke-width="0.55"/>
<circle cx="141.9" cy="262" r="1.7" fill="none" stroke="#aaa" stroke-width="0.55"/>
<circle cx="142.1" cy="261.8" r="1.7" fill="none" stroke="#aaa" stroke-width="0.55"/>
<circle cx="138.9" cy="268.9" r="1.7" fill="none" stroke="#aaa" stroke-width="0.55"/>
<circle cx="143.6" cy="274" r="1.7" fill="none" stroke="#aaa" stroke-width="0.55"/>
<line x1="163.10000000000002" y1="233.3" x2="163.10000000000002" y2="212.3" stroke="#333" stroke-width="0.8" stroke-dasharray="1.6,1.6"/>
<line x1="159.10000000000002" y1="212.3" x2="167.10000000000002" y2="212.3" stroke="#333" stroke-width="0.8"/>
<line x1="163.10000000000002" y1="270.2" x2="163.10000000000002" y2="284.6" stroke="#333" stroke-width="0.8" stroke-dasharray="1.6,1.6"/>
<line x1="159.10000000000002" y1="284.6" x2="167.10000000000002" y2="284.6" stroke="#333" stroke-width="0.8"/>
<rect x="155.3" y="233.3" width="15.599999999999994" height="36.89999999999998" fill="#d4aa5c" stroke="#222" stroke-width="0.9"/>
<line x1="155.3" y1="262.3" x2="170.9" y2="262.3" stroke="#000" stroke-width="1.9"/>
<circle cx="163.4" cy="212.3" r="1.7" fill="#e8d2a8" stroke="#c9a86a" stroke-width="0.55"/>
<circle cx="165.1" cy="222.9" r="1.7" fill="#e8d2a8" stroke="#c9a86a" stroke-width="0.55"/>
<circle cx="164.6" cy="227.9" r="1.7" fill="#e8d2a8" stroke="#c9a86a" stroke-width="0.55"/>
<circle cx="160.4" cy="238" r="1.7" fill="#e8d2a8" stroke="#c9a86a" stroke-width="0.55"/>
<circle cx="163.4" cy="259" r="1.7" fill="#e8d2a8" stroke="#c9a86a" stroke-width="0.55"/>
<circle cx="165.4" cy="259.8" r="1.7" fill="#e8d2a8" stroke="#c9a86a" stroke-width="0.55"/>
<circle cx="165.6" cy="265.5" r="1.7" fill="#e8d2a8" stroke="#c9a86a" stroke-width="0.55"/>
<circle cx="160" cy="272" r="1.7" fill="#e8d2a8" stroke="#c9a86a" stroke-width="0.55"/>
<circle cx="166.4" cy="274.5" r="1.7" fill="#e8d2a8" stroke="#c9a86a" stroke-width="0.55"/>
<circle cx="158.9" cy="284.6" r="1.7" fill="#e8d2a8" stroke="#c9a86a" stroke-width="0.55"/>
<circle cx="163.8" cy="284.6" r="1.7" fill="#e8d2a8" stroke="#c9a86a" stroke-width="0.55"/>
<line x1="182.9" y1="243.3" x2="182.9" y2="200.9" stroke="#333" stroke-width="0.8" stroke-dasharray="1.6,1.6"/>
<line x1="178.9" y1="200.9" x2="186.9" y2="200.9" stroke="#333" stroke-width="0.8"/>
<line x1="182.9" y1="278.6" x2="182.9" y2="282.3" stroke="#333" stroke-width="0.8" stroke-dasharray="1.6,1.6"/>
<line x1="178.9" y1="282.3" x2="186.9" y2="282.3" stroke="#333" stroke-width="0.8"/>
<rect x="175" y="243.3" width="15.800000000000011" height="35.30000000000001" fill="#72a46c" stroke="#222" stroke-width="0.9"/>
<line x1="175" y1="268.3" x2="190.8" y2="268.3" stroke="#000" stroke-width="1.9"/>
<circle cx="178" cy="200.7" r="1.7" fill="#a9cfa3" stroke="#8fb88a" stroke-width="0.55"/>
<circle cx="181.9" cy="205.2" r="1.7" fill="#a9cfa3" stroke="#8fb88a" stroke-width="0.55"/>
<circle cx="179.7" cy="242.2" r="1.7" fill="#a9cfa3" stroke="#8fb88a" stroke-width="0.55"/>
<circle cx="180.6" cy="255.3" r="1.7" fill="#a9cfa3" stroke="#8fb88a" stroke-width="0.55"/>
<circle cx="185" cy="264.6" r="1.7" fill="#a9cfa3" stroke="#8fb88a" stroke-width="0.55"/>
<circle cx="180" cy="271.1" r="1.7" fill="#a9cfa3" stroke="#8fb88a" stroke-width="0.55"/>
<circle cx="186.2" cy="278.6" r="1.7" fill="#a9cfa3" stroke="#8fb88a" stroke-width="0.55"/>
<circle cx="181.9" cy="283.3" r="1.7" fill="#a9cfa3" stroke="#8fb88a" stroke-width="0.55"/>
<text x="208" y="241.4" font-size="6.9" text-anchor="start" fill="#222" font-weight="normal" font-style="normal" stroke="#222" stroke-width="0.05">Treatment</text>
<circle cx="211.3" cy="248.6" r="1.8" fill="#fff" stroke="#111" stroke-width="0.7"/>
<circle cx="211.3" cy="258.2" r="2.2" fill="#cfcfcf" stroke="none" stroke-width="0.6"/>
<circle cx="211.3" cy="268.1" r="2.2" fill="#d9ad5e" stroke="none" stroke-width="0.6"/>
<circle cx="211.3" cy="279.7" r="2.2" fill="#74a96b" stroke="none" stroke-width="0.6"/>
<text x="216.7" y="251.1" font-size="7.6" text-anchor="start" fill="#222" font-weight="normal" font-style="normal" stroke="#222" stroke-width="0.05">Mock</text>
<text x="216.7" y="260.6" font-size="7.6" text-anchor="start" fill="#222" font-weight="normal" font-style="normal" stroke="#222" stroke-width="0.05">ASV37</text>
<text x="216.7" y="270.7" font-size="7.6" text-anchor="start" fill="#222" font-weight="normal" font-style="normal" stroke="#222" stroke-width="0.05">SynCom(17)</text>
<text x="216.7" y="282.1" font-size="7.6" text-anchor="start" fill="#222" font-weight="normal" font-style="normal" stroke="#222" stroke-width="0.05">SynCom(18)</text>
<text x="1.8" y="363.8" font-size="12" text-anchor="start" fill="#000" font-weight="bold" font-style="normal" stroke="#000" stroke-width="0.05">c</text>
<path d="M39.4,449.9 C60,447 75,446 90,441 C110,435 135,420 160.9,394.4 L160.9,468.5 C140,469 115,470.5 100,472.9 C85,475 60,485 39.4,506.3 Z" fill="#e9e9e9"/>
<path d="M39.4,484.7 C70,482 90,480 100,478.5 C120,475 140,470 160.9,465.7 L160.9,479.3 C130,481 100,484 39.4,490 Z" fill="#f2cf9a" fill-opacity="0.55"/>
<path d="M39.4,484.8 L160.9,482.1 L160.9,487.8 L39.4,489.8 Z" fill="#bfe0b0" fill-opacity="0.4"/>
<line x1="39.4" y1="477.9" x2="160.9" y2="433" stroke="#888" stroke-width="0.6"/>
<line x1="39.4" y1="487.5" x2="160.9" y2="472.8" stroke="#e8a850" stroke-width="0.8"/>
<line x1="39.4" y1="487.3" x2="160.9" y2="484.6" stroke="#7cc070" stroke-width="0.8"/>
<circle cx="122.8" cy="376.4" r="1.9" fill="#bdbdbd" stroke="none" stroke-width="0.6"/>
<path d="M57.2,455.2 H63.2 M60.2,452.2 V458.2" stroke="#bdbdbd" stroke-width="0.8" fill="none"/>
<path d="M74.3,457.3 H80.3 M77.3,454.3 V460.3" stroke="#bdbdbd" stroke-width="0.8" fill="none"/>
<path d="M48.8,467.5 L51.1,471.7 L46.5,471.7Z" fill="#bdbdbd"/>
<path d="M48.0,476.5 L50.3,480.7 L45.7,480.7Z" fill="#bdbdbd"/>
<circle cx="65.4" cy="474.2" r="1.9" fill="#bdbdbd" stroke="none" stroke-width="0.6"/>
<circle cx="75" cy="475.5" r="1.9" fill="#bdbdbd" stroke="none" stroke-width="0.6"/>
<path d="M86.8,477.9 L89.1,482.1 L84.5,482.1Z" fill="#bdbdbd"/>
<rect x="106.0" y="449.09999999999997" width="3.6" height="3.6" fill="#bdbdbd" stroke="none" stroke-width="0.8"/>
<rect x="37.5" y="490.4" width="3.6" height="3.6" fill="#bdbdbd" stroke="none" stroke-width="0.8"/>
<path d="M143.3,442.6 H149.3 M146.3,439.6 V445.6" stroke="#bdbdbd" stroke-width="0.8" fill="none"/>
<rect x="159.1" y="468.5" width="3.6" height="3.6" fill="#bdbdbd" stroke="none" stroke-width="0.8"/>
<path d="M86.8,474.3 L89.1,478.5 L84.5,478.5Z" fill="#eab160"/>
<circle cx="65.4" cy="485" r="1.9" fill="#eab160" stroke="none" stroke-width="0.6"/>
<circle cx="75" cy="483.1" r="1.9" fill="#eab160" stroke="none" stroke-width="0.6"/>
<path d="M74.3,493.3 H80.3 M77.3,490.3 V496.3" stroke="#eab160" stroke-width="0.8" fill="none"/>
<path d="M57.2,489.8 H63.2 M60.2,486.8 V492.8" stroke="#eab160" stroke-width="0.8" fill="none"/>
<rect x="37.5" y="484.8" width="3.6" height="3.6" fill="#eab160" stroke="none" stroke-width="0.8"/>
<path d="M48.8,487.6 L51.1,491.8 L46.5,491.8Z" fill="#eab160"/>
<circle cx="122.8" cy="470.3" r="1.9" fill="#eab160" stroke="none" stroke-width="0.6"/>
<rect x="159.1" y="473.2" width="3.6" height="3.6" fill="#eab160" stroke="none" stroke-width="0.8"/>
<path d="M143.3,475.0 H149.3 M146.3,472.0 V478.0" stroke="#eab160" stroke-width="0.8" fill="none"/>
<path d="M57.2,483.4 H63.2 M60.2,480.4 V486.4" stroke="#7fc26f" stroke-width="0.8" fill="none"/>
<path d="M74.3,484.2 H80.3 M77.3,481.2 V487.2" stroke="#7fc26f" stroke-width="0.8" fill="none"/>
<circle cx="65.4" cy="487.4" r="1.9" fill="#7fc26f" stroke="none" stroke-width="0.6"/>
<circle cx="75" cy="488.5" r="1.9" fill="#7fc26f" stroke="none" stroke-width="0.6"/>
<path d="M86.8,489.6 L89.1,493.8 L84.5,493.8Z" fill="#7fc26f"/>
<path d="M48.8,484.1 L51.1,488.3 L46.5,488.3Z" fill="#7fc26f"/>
<rect x="37.5" y="486.09999999999997" width="3.6" height="3.6" fill="#7fc26f" stroke="none" stroke-width="0.8"/>
<rect x="106.0" y="482.4" width="3.6" height="3.6" fill="#7fc26f" stroke="none" stroke-width="0.8"/>
<circle cx="122.8" cy="485" r="1.9" fill="#7fc26f" stroke="none" stroke-width="0.6"/>
<path d="M143.3,485.0 H149.3 M146.3,482.0 V488.0" stroke="#7fc26f" stroke-width="0.8" fill="none"/>
<rect x="159.1" y="483.2" width="3.6" height="3.6" fill="#7fc26f" stroke="none" stroke-width="0.8"/>
<rect x="29.1" y="369.8" width="142.3" height="142.7" fill="none" stroke="#555" stroke-width="1.1"/>
<line x1="26.2" y1="397.39" x2="29.1" y2="397.39" stroke="#555" stroke-width="0.9"/>
<text x="23.2" y="399.89" font-size="7.4" text-anchor="end" fill="#222" font-weight="normal" font-style="normal" stroke="#222" stroke-width="0.05">300</text>
<line x1="26.2" y1="428.06" x2="29.1" y2="428.06" stroke="#555" stroke-width="0.9"/>
<text x="23.2" y="430.56" font-size="7.4" text-anchor="end" fill="#222" font-weight="normal" font-style="normal" stroke="#222" stroke-width="0.05">200</text>
<line x1="26.2" y1="458.72999999999996" x2="29.1" y2="458.72999999999996" stroke="#555" stroke-width="0.9"/>
<text x="23.2" y="461.22999999999996" font-size="7.4" text-anchor="end" fill="#222" font-weight="normal" font-style="normal" stroke="#222" stroke-width="0.05">100</text>
<line x1="26.2" y1="489.4" x2="29.1" y2="489.4" stroke="#555" stroke-width="0.9"/>
<text x="23.2" y="491.9" font-size="7.4" text-anchor="end" fill="#222" font-weight="normal" font-style="normal" stroke="#222" stroke-width="0.05">0</text>
<line x1="35.5" y1="512.5" x2="35.5" y2="515.3" stroke="#555" stroke-width="0.9"/>
<text x="35.5" y="526.3" font-size="7.4" text-anchor="middle" fill="#222" font-weight="normal" font-style="normal" stroke="#222" stroke-width="0.05">25</text>
<line x1="68.82499999999999" y1="512.5" x2="68.82499999999999" y2="515.3" stroke="#555" stroke-width="0.9"/>
<text x="68.82499999999999" y="526.3" font-size="7.4" text-anchor="middle" fill="#222" font-weight="normal" font-style="normal" stroke="#222" stroke-width="0.05">50</text>
<line x1="102.14999999999999" y1="512.5" x2="102.14999999999999" y2="515.3" stroke="#555" stroke-width="0.9"/>
<text x="102.14999999999999" y="526.3" font-size="7.4" text-anchor="middle" fill="#222" font-weight="normal" font-style="normal" stroke="#222" stroke-width="0.05">75</text>
<line x1="135.475" y1="512.5" x2="135.475" y2="515.3" stroke="#555" stroke-width="0.9"/>
<text x="135.475" y="526.3" font-size="7.4" text-anchor="middle" fill="#222" font-weight="normal" font-style="normal" stroke="#222" stroke-width="0.05">100</text>
<text x="105.5" y="533.9" font-size="7.2" text-anchor="middle" fill="#222" font-weight="normal" font-style="normal" stroke="#222" stroke-width="0.05">MPH of shoot dry weight (%)</text>
<text x="9.4" y="430.6" font-size="6.7" text-anchor="middle" fill="#222" font-weight="normal" font-style="normal" transform="rotate(-90 9.4 430.6)" stroke="#222" stroke-width="0.05">MPH of root traits (%)</text>
<text x="38.5" y="383.7" font-size="7.4" fill="#7fbf6e" stroke="#7fbf6e" stroke-width="0.05"><tspan font-style="italic">R</tspan> = 0.39, <tspan font-style="italic">p</tspan> = 0.21</text>
<text x="38.5" y="392" font-size="7.4" fill="#e9b264" stroke="#e9b264" stroke-width="0.05"><tspan font-style="italic">R</tspan> = 0.78, <tspan font-style="italic">p</tspan> = 0.0028</text>
<text x="38.5" y="400.2" font-size="7.4" fill="#cacaca" stroke="#cacaca" stroke-width="0.05"><tspan font-style="italic">R</tspan> = 0.49, <tspan font-style="italic">p</tspan> = 0.11</text>
<text x="185.6" y="396.7" font-size="7.1" text-anchor="start" fill="#222" font-weight="normal" font-style="normal" stroke="#222" stroke-width="0.05">Treatment</text>
<circle cx="190.5" cy="406.3" r="2.3" fill="#000" stroke="none" stroke-width="0.6"/>
<path d="M190.5,413.8 L193.3,418.8 L187.7,418.8Z" fill="#000"/>
<rect x="188.52" y="425.12" width="3.9600000000000004" height="3.9600000000000004" fill="#000" stroke="none" stroke-width="0.8"/>
<path d="M186.8,438.8 H194.2 M190.5,435.1 V442.5" stroke="#000" stroke-width="0.95"/>
<text x="199.7" y="408.1" font-size="7.1" text-anchor="start" fill="#222" font-weight="normal" font-style="normal" stroke="#222" stroke-width="0.05">Mock</text>
<text x="199.7" y="418.6" font-size="7.1" text-anchor="start" fill="#222" font-weight="normal" font-style="normal" stroke="#222" stroke-width="0.05">ASV37</text>
<text x="199.7" y="429.4" font-size="7.1" text-anchor="start" fill="#222" font-weight="normal" font-style="normal" stroke="#222" stroke-width="0.05">SynCom (17)</text>
<text x="199.7" y="440.6" font-size="7.1" text-anchor="start" fill="#222" font-weight="normal" font-style="normal" stroke="#222" stroke-width="0.05">SynCom (18)</text>
<text x="185.6" y="461.2" font-size="7.1" text-anchor="start" fill="#222" font-weight="normal" font-style="normal" stroke="#222" stroke-width="0.05">Root traits</text>
<rect x="185.6" y="466.1" width="10.5" height="10.3" fill="#d6ecce" stroke="none" stroke-width="0.8"/>
<line x1="186.4" y1="471.25" x2="195.3" y2="471.25" stroke="#7cc070" stroke-width="1.2"/>
<circle cx="190.85" cy="471.25" r="2.4" fill="#7cc070" stroke="none" stroke-width="0.6"/>
<text x="199.7" y="472.8" font-size="7.1" text-anchor="start" fill="#222" font-weight="normal" font-style="normal" stroke="#222" stroke-width="0.05">Root length</text>
<rect x="185.6" y="478.7" width="10.5" height="10.3" fill="#fbe3bf" stroke="none" stroke-width="0.8"/>
<line x1="186.4" y1="483.84999999999997" x2="195.3" y2="483.84999999999997" stroke="#ecb25e" stroke-width="1.2"/>
<circle cx="190.85" cy="483.84999999999997" r="2.4" fill="#ecb25e" stroke="none" stroke-width="0.6"/>
<text x="199.7" y="485.2" font-size="7.1" text-anchor="start" fill="#222" font-weight="normal" font-style="normal" stroke="#222" stroke-width="0.05">Lateral root density</text>
<rect x="185.6" y="490.8" width="10.5" height="10.3" fill="#e3e3e3" stroke="none" stroke-width="0.8"/>
<line x1="186.4" y1="495.95" x2="195.3" y2="495.95" stroke="#c2c2c2" stroke-width="1.2"/>
<circle cx="190.85" cy="495.95" r="2.4" fill="#c2c2c2" stroke="none" stroke-width="0.6"/>
<text x="199.7" y="497" font-size="7.1" text-anchor="start" fill="#222" font-weight="normal" font-style="normal" stroke="#222" stroke-width="0.05">Root weight</text>
<text x="289.3" y="11.6" font-size="11.5" text-anchor="start" fill="#000" font-weight="bold" font-style="normal" stroke="#000" stroke-width="0.05">d</text>
<text x="355" y="6.3" font-size="7.8" text-anchor="middle" fill="#222" font-weight="normal" font-style="normal" stroke="#222" stroke-width="0.05">Unsterilized</text>
<text x="473.2" y="6.3" font-size="7.8" text-anchor="middle" fill="#222" font-weight="normal" font-style="normal" stroke="#222" stroke-width="0.05">Sterilized</text>
<text x="613.7" y="6.3" font-size="7.8" text-anchor="middle" fill="#222" font-weight="normal" font-style="normal" stroke="#222" stroke-width="0.05">ASV37</text>
<defs><linearGradient id="pg1" x1="0" x2="1" y1="0" y2="0"><stop offset="0" stop-color="#26292b"/><stop offset="0.5" stop-color="#2c2f31"/><stop offset="1" stop-color="#232527"/></linearGradient></defs>
<rect x="298.9" y="13.1" width="110.4" height="48.8" fill="url(#pg1)" stroke="none" stroke-width="0.8"/>
<rect x="409.3" y="13.1" width="130.9" height="48.8" fill="url(#pg1)" stroke="none" stroke-width="0.8"/>
<rect x="540.2" y="13.1" width="143.5" height="48.8" fill="url(#pg1)" stroke="none" stroke-width="0.8"/>
<rect x="409.3" y="13.1" width="3.5" height="48.8" fill="#3a3c3e" stroke="none" stroke-width="0.8"/>
<rect x="540.2" y="13.1" width="4" height="48.8" fill="#36393b" stroke="none" stroke-width="0.8"/>
<rect x="298.9" y="61.9" width="384.8" height="89.6" fill="#f2f2f2" stroke="none" stroke-width="0.8"/>
<text x="317.9" y="18.6" font-size="4.5" text-anchor="middle" fill="#d8d8d8" font-weight="normal" font-style="normal" stroke="#d8d8d8" stroke-width="0.05">B73</text>
<text x="352.1" y="18.6" font-size="4.5" text-anchor="middle" fill="#d8d8d8" font-weight="normal" font-style="normal" stroke="#d8d8d8" stroke-width="0.05">B73 x Mo17</text>
<text x="386.2" y="18.6" font-size="4.5" text-anchor="middle" fill="#d8d8d8" font-weight="normal" font-style="normal" stroke="#d8d8d8" stroke-width="0.05">Mo17</text>
<line x1="412.9" y1="53.6" x2="423.9" y2="53.6" stroke="#eee" stroke-width="0.9"/>
<text x="412.6" y="59.8" font-size="5.0" text-anchor="start" fill="#ddd" font-weight="normal" font-style="normal" stroke="#ddd" stroke-width="0.05">10 cm</text>
<defs><clipPath id="pc"><rect x="298.9" y="13.1" width="384.8" height="48.8"/></clipPath></defs><g clip-path="url(#pc)">
<path d="M305.7,57.6 L305.7,52.8" stroke="#c0625a" stroke-width="1.1" fill="none"/>
<path d="M305.7,52.8 L305.6,43.9" stroke="#a8c84a" stroke-width="1.0" fill="none"/>
<path d="M305.6,48.2 C301.6,35.2 297.6,25.7 292.3,35.3" fill="none" stroke="#b8d24c" stroke-width="1.00" stroke-linecap="round"/>
<path d="M305.6,46.6 C306.1,37.0 307.3,30.4 308.5,27.4" fill="none" stroke="#a8cb44" stroke-width="1.09" stroke-linecap="round"/>
<path d="M305.6,50.4 C302.0,37.7 298.5,28.4 293.7,41.4" fill="none" stroke="#9cc640" stroke-width="1.09" stroke-linecap="round"/>
<path d="M305.7,52.8 C308.3,46.8 312.6,46.1 314.3,50.1" fill="none" stroke="#c79a45" stroke-width="0.70" stroke-linecap="round"/>
<rect x="304.5" y="54.0" width="2.4" height="3.6" fill="#ece6cc"/>
<path d="M316.5,57.6 L316.2,51.6" stroke="#c0625a" stroke-width="1.1" fill="none"/>
<path d="M316.2,51.6 L315.6,40.4" stroke="#a8c84a" stroke-width="1.0" fill="none"/>
<path d="M315.8,43.6 C316.3,35.4 317.5,30.2 318.6,27.2" fill="none" stroke="#a8cb44" stroke-width="0.90" stroke-linecap="round"/>
<path d="M315.9,45.7 C315.4,36.0 314.3,29.4 313.2,26.4" fill="none" stroke="#b0d04a" stroke-width="0.91" stroke-linecap="round"/>
<path d="M315.9,45.4 C321.3,34.0 326.8,25.3 334.2,32.7" fill="none" stroke="#9cc640" stroke-width="0.94" stroke-linecap="round"/>
<path d="M316.0,47.9 C310.5,34.5 305.1,24.7 297.8,38.0" fill="none" stroke="#c6d95e" stroke-width="0.92" stroke-linecap="round"/>
<path d="M316.5,52.0 C320.0,46.0 325.8,43.5 328.2,47.5" fill="none" stroke="#bf8a40" stroke-width="0.70" stroke-linecap="round"/>
<rect x="315.3" y="54.0" width="2.4" height="3.6" fill="#ece6cc"/>
<path d="M325.4,57.6 L325.5,52.8" stroke="#c0625a" stroke-width="1.1" fill="none"/>
<path d="M325.5,52.8 L325.7,43.9" stroke="#a8c84a" stroke-width="1.0" fill="none"/>
<path d="M325.7,46.8 C322.6,37.1 319.5,29.3 315.4,40.4" fill="none" stroke="#b0d04a" stroke-width="1.07" stroke-linecap="round"/>
<path d="M325.6,50.0 C321.5,38.1 317.3,29.2 311.8,35.4" fill="none" stroke="#b8d24c" stroke-width="1.01" stroke-linecap="round"/>
<path d="M325.7,46.8 C330.0,35.5 334.3,26.9 340.0,37.1" fill="none" stroke="#a8cb44" stroke-width="0.95" stroke-linecap="round"/>
<path d="M325.4,50.7 C327.7,44.7 331.5,44.2 333.1,48.2" fill="none" stroke="#bf8a40" stroke-width="0.70" stroke-linecap="round"/>
<rect x="324.2" y="54.0" width="2.4" height="3.6" fill="#ece6cc"/>
<path d="M342.2,57.6 L342.2,50.7" stroke="#c0625a" stroke-width="1.1" fill="none"/>
<path d="M342.2,50.7 L342.1,37.9" stroke="#a8c84a" stroke-width="1.0" fill="none"/>
<path d="M342.1,38.9 C347.6,31.3 353.2,24.8 360.6,33.3" fill="none" stroke="#b8d24c" stroke-width="0.95" stroke-linecap="round"/>
<path d="M342.1,47.3 C335.6,32.1 329.0,21.5 320.3,35.6" fill="none" stroke="#a8cb44" stroke-width="0.98" stroke-linecap="round"/>
<path d="M342.1,45.6 C335.9,34.3 329.7,25.7 321.5,37.3" fill="none" stroke="#a8cb44" stroke-width="1.04" stroke-linecap="round"/>
<path d="M342.1,42.5 C346.4,32.1 350.7,24.1 356.4,34.8" fill="none" stroke="#b0d04a" stroke-width="0.95" stroke-linecap="round"/>
<rect x="341.0" y="54.0" width="2.4" height="3.6" fill="#ece6cc"/>
<path d="M351,57.6 L351.4,50.5" stroke="#c0625a" stroke-width="1.1" fill="none"/>
<path d="M351.4,50.5 L352.1,37.4" stroke="#a8c84a" stroke-width="1.0" fill="none"/>
<path d="M351.5,48.4 C351.0,35.2 348.3,25.0 346.2,22.0" fill="none" stroke="#b8d24c" stroke-width="1.07" stroke-linecap="round"/>
<path d="M351.6,47.2 C347.0,34.6 342.5,25.3 336.4,38.5" fill="none" stroke="#b0d04a" stroke-width="0.88" stroke-linecap="round"/>
<path d="M352.1,37.6 C356.2,29.4 360.2,22.5 365.6,28.4" fill="none" stroke="#9cc640" stroke-width="0.96" stroke-linecap="round"/>
<path d="M351.7,45.6 C352.2,35.9 354.2,29.1 355.9,26.1" fill="none" stroke="#b0d04a" stroke-width="1.04" stroke-linecap="round"/>
<path d="M351.0,50.0 C348.0,44.0 343.0,38.5 341.0,42.5" fill="none" stroke="#bf8a40" stroke-width="0.70" stroke-linecap="round"/>
<rect x="349.8" y="54.0" width="2.4" height="3.6" fill="#ece6cc"/>
<path d="M358.9,57.6 L358.7,51.1" stroke="#c0625a" stroke-width="1.1" fill="none"/>
<path d="M358.7,51.1 L358.4,39.0" stroke="#a8c84a" stroke-width="1.0" fill="none"/>
<path d="M358.6,46.2 C362.3,36.8 366.1,29.2 371.0,35.6" fill="none" stroke="#9cc640" stroke-width="0.91" stroke-linecap="round"/>
<path d="M358.7,47.5 C354.3,35.0 349.9,25.8 344.1,39.2" fill="none" stroke="#a8cb44" stroke-width="1.01" stroke-linecap="round"/>
<path d="M358.7,47.3 C364.5,37.7 370.4,30.0 378.2,43.8" fill="none" stroke="#b8d24c" stroke-width="1.08" stroke-linecap="round"/>
<rect x="357.7" y="54.0" width="2.4" height="3.6" fill="#ece6cc"/>
<path d="M374.7,57.6 L375.1,51.2" stroke="#c0625a" stroke-width="1.1" fill="none"/>
<path d="M375.1,51.2 L375.9,39.2" stroke="#a8c84a" stroke-width="1.0" fill="none"/>
<path d="M375.8,41.2 C375.3,33.5 372.2,28.8 369.9,25.8" fill="none" stroke="#9cc640" stroke-width="1.02" stroke-linecap="round"/>
<path d="M375.4,46.5 C375.9,35.3 377.8,27.0 379.3,24.0" fill="none" stroke="#a8cb44" stroke-width="0.85" stroke-linecap="round"/>
<path d="M375.5,45.6 C371.4,33.0 367.3,23.7 361.9,37.0" fill="none" stroke="#a8cb44" stroke-width="0.93" stroke-linecap="round"/>
<path d="M374.7,51.5 C377.1,45.5 381.2,41.1 382.8,45.1" fill="none" stroke="#bf8a40" stroke-width="0.70" stroke-linecap="round"/>
<rect x="373.5" y="54.0" width="2.4" height="3.6" fill="#ece6cc"/>
<path d="M383.5,57.6 L383.6,51.8" stroke="#c0625a" stroke-width="1.1" fill="none"/>
<path d="M383.6,51.8 L383.7,41.0" stroke="#a8c84a" stroke-width="1.0" fill="none"/>
<path d="M383.7,41.4 C378.5,29.8 373.3,21.1 366.4,29.3" fill="none" stroke="#b8d24c" stroke-width="1.01" stroke-linecap="round"/>
<path d="M383.7,41.9 C383.2,33.8 381.8,28.7 380.5,25.7" fill="none" stroke="#b0d04a" stroke-width="0.86" stroke-linecap="round"/>
<path d="M383.6,48.8 C387.9,32.3 392.2,21.0 397.9,35.1" fill="none" stroke="#b8d24c" stroke-width="0.95" stroke-linecap="round"/>
<path d="M383.6,48.8 C384.1,36.6 385.4,27.5 386.6,24.5" fill="none" stroke="#a8cb44" stroke-width="0.82" stroke-linecap="round"/>
<path d="M383.5,48.6 C387.3,42.6 393.6,42.4 396.1,46.4" fill="none" stroke="#bf8a40" stroke-width="0.70" stroke-linecap="round"/>
<rect x="382.3" y="54.0" width="2.4" height="3.6" fill="#ece6cc"/>
<path d="M393,57.6 L393.3,52.5" stroke="#c0625a" stroke-width="1.1" fill="none"/>
<path d="M393.3,52.5 L393.9,43.0" stroke="#a8c84a" stroke-width="1.0" fill="none"/>
<path d="M393.6,48.0 C389.5,34.4 385.4,24.5 379.9,36.4" fill="none" stroke="#c6d95e" stroke-width="0.86" stroke-linecap="round"/>
<path d="M393.5,49.5 C399.4,34.5 405.3,23.9 413.1,32.3" fill="none" stroke="#9cc640" stroke-width="0.86" stroke-linecap="round"/>
<path d="M393.9,44.0 C388.0,35.9 382.1,29.1 374.3,39.6" fill="none" stroke="#9cc640" stroke-width="0.81" stroke-linecap="round"/>
<path d="M393.8,44.6 C399.0,33.5 404.1,25.0 410.9,35.1" fill="none" stroke="#9cc640" stroke-width="0.86" stroke-linecap="round"/>
<path d="M393.0,51.1 C389.5,45.1 383.8,39.8 381.5,43.8" fill="none" stroke="#c79a45" stroke-width="0.70" stroke-linecap="round"/>
<rect x="391.8" y="54.0" width="2.4" height="3.6" fill="#ece6cc"/>
<path d="M440.5,57.6 L440.2,52.5" stroke="#c0625a" stroke-width="1.1" fill="none"/>
<path d="M440.2,52.5 L439.6,43.0" stroke="#a8c84a" stroke-width="1.0" fill="none"/>
<path d="M439.7,43.7 C433.5,35.0 427.3,27.8 419.1,37.3" fill="none" stroke="#b2d452" stroke-width="0.94" stroke-linecap="round"/>
<path d="M440.0,49.5 C444.8,36.9 449.6,27.7 456.0,36.4" fill="none" stroke="#9ccb42" stroke-width="0.94" stroke-linecap="round"/>
<path d="M440.0,49.2 C444.8,36.9 449.5,27.8 455.9,39.9" fill="none" stroke="#8fc53c" stroke-width="0.94" stroke-linecap="round"/>
<path d="M440.0,49.7 C439.5,36.8 437.7,26.9 436.1,23.9" fill="none" stroke="#94c840" stroke-width="0.87" stroke-linecap="round"/>
<path d="M440.5,49.7 C443.3,43.7 447.9,40.5 449.7,44.5" fill="none" stroke="#c79a45" stroke-width="0.70" stroke-linecap="round"/>
<rect x="439.1" y="52.4" width="2.8" height="5.2" fill="#e58fba"/>
<rect x="440.0" y="52.800000000000004" width="1" height="4.4" fill="#f4c8dc"/>
<path d="M450.4,57.6 L450.2,51.8" stroke="#c0625a" stroke-width="1.1" fill="none"/>
<path d="M450.2,51.8 L449.9,41.0" stroke="#a8c84a" stroke-width="1.0" fill="none"/>
<path d="M450.0,44.5 C449.5,33.1 447.6,24.8 446.1,21.8" fill="none" stroke="#b2d452" stroke-width="0.84" stroke-linecap="round"/>
<path d="M450.0,45.0 C455.2,30.3 460.4,19.8 467.3,31.6" fill="none" stroke="#8fc53c" stroke-width="0.80" stroke-linecap="round"/>
<path d="M450.1,49.2 C456.6,34.0 463.0,23.3 471.7,33.2" fill="none" stroke="#9ccb42" stroke-width="1.07" stroke-linecap="round"/>
<rect x="449.0" y="52.4" width="2.8" height="5.2" fill="#e58fba"/>
<rect x="449.9" y="52.800000000000004" width="1" height="4.4" fill="#f4c8dc"/>
<path d="M458.7,57.6 L458.9,50.7" stroke="#c0625a" stroke-width="1.1" fill="none"/>
<path d="M458.9,50.7 L459.1,37.8" stroke="#a8c84a" stroke-width="1.0" fill="none"/>
<path d="M459.1,38.2 C453.0,27.6 446.8,19.4 438.6,29.6" fill="none" stroke="#8fc53c" stroke-width="0.87" stroke-linecap="round"/>
<path d="M459.0,41.9 C464.6,29.7 470.1,20.6 477.4,29.8" fill="none" stroke="#b2d452" stroke-width="0.84" stroke-linecap="round"/>
<path d="M459.0,43.7 C453.3,29.5 447.6,19.4 439.9,27.1" fill="none" stroke="#a6d04a" stroke-width="0.93" stroke-linecap="round"/>
<path d="M459.1,39.2 C465.6,32.6 472.2,26.5 480.9,33.6" fill="none" stroke="#9ccb42" stroke-width="0.81" stroke-linecap="round"/>
<path d="M458.7,50.4 C456.0,44.4 451.6,42.3 449.9,46.3" fill="none" stroke="#c79a45" stroke-width="0.70" stroke-linecap="round"/>
<rect x="457.3" y="52.4" width="2.8" height="5.2" fill="#e58fba"/>
<rect x="458.2" y="52.800000000000004" width="1" height="4.4" fill="#f4c8dc"/>
<path d="M474.4,57.6 L474.8,51.3" stroke="#c0625a" stroke-width="1.1" fill="none"/>
<path d="M474.8,51.3 L475.4,39.5" stroke="#a8c84a" stroke-width="1.0" fill="none"/>
<path d="M475.2,43.4 C468.4,28.4 461.5,17.9 452.4,24.2" fill="none" stroke="#8fc53c" stroke-width="0.84" stroke-linecap="round"/>
<path d="M475.2,43.9 C480.5,28.2 485.8,17.2 492.9,26.1" fill="none" stroke="#8fc53c" stroke-width="0.95" stroke-linecap="round"/>
<path d="M474.9,48.4 C469.2,30.7 463.5,18.7 456.0,29.7" fill="none" stroke="#9ccb42" stroke-width="0.81" stroke-linecap="round"/>
<path d="M475.3,41.1 C481.5,28.3 487.8,18.9 496.0,32.3" fill="none" stroke="#9ccb42" stroke-width="0.99" stroke-linecap="round"/>
<rect x="473.0" y="52.4" width="2.8" height="5.2" fill="#e58fba"/>
<rect x="473.9" y="52.800000000000004" width="1" height="4.4" fill="#f4c8dc"/>
<path d="M483.9,57.6 L483.5,50.1" stroke="#c0625a" stroke-width="1.1" fill="none"/>
<path d="M483.5,50.1 L482.7,36.2" stroke="#a8c84a" stroke-width="1.0" fill="none"/>
<path d="M483.0,42.3 C476.5,25.1 469.9,13.4 461.2,27.6" fill="none" stroke="#9ccb42" stroke-width="0.93" stroke-linecap="round"/>
<path d="M483.0,42.5 C489.0,26.2 494.9,15.0 502.8,28.0" fill="none" stroke="#8fc53c" stroke-width="0.87" stroke-linecap="round"/>
<path d="M482.8,37.8 C482.3,27.1 479.3,19.4 477.0,16.4" fill="none" stroke="#8fc53c" stroke-width="0.90" stroke-linecap="round"/>
<path d="M482.8,38.5 C487.3,25.7 491.9,16.3 497.9,28.3" fill="none" stroke="#9ccb42" stroke-width="1.03" stroke-linecap="round"/>
<path d="M483.9,48.3 C487.3,42.3 492.9,36.5 495.1,40.5" fill="none" stroke="#c79a45" stroke-width="0.70" stroke-linecap="round"/>
<rect x="482.5" y="52.4" width="2.8" height="5.2" fill="#e58fba"/>
<rect x="483.4" y="52.800000000000004" width="1" height="4.4" fill="#f4c8dc"/>
<path d="M492.4,57.6 L492.6,50.4" stroke="#c0625a" stroke-width="1.1" fill="none"/>
<path d="M492.6,50.4 L493.1,37.0" stroke="#a8c84a" stroke-width="1.0" fill="none"/>
<path d="M493.1,37.3 C488.7,24.9 484.3,15.7 478.4,28.7" fill="none" stroke="#8fc53c" stroke-width="1.09" stroke-linecap="round"/>
<path d="M493.0,40.6 C492.5,29.8 489.4,22.0 487.1,19.0" fill="none" stroke="#9ccb42" stroke-width="0.95" stroke-linecap="round"/>
<path d="M492.8,44.7 C499.5,26.9 506.1,14.8 515.0,21.0" fill="none" stroke="#a6d04a" stroke-width="1.05" stroke-linecap="round"/>
<path d="M492.8,44.9 C498.4,30.1 504.0,19.7 511.4,34.2" fill="none" stroke="#94c840" stroke-width="0.98" stroke-linecap="round"/>
<path d="M492.4,45.2 C496.6,39.2 503.5,37.4 506.3,41.4" fill="none" stroke="#c79a45" stroke-width="0.70" stroke-linecap="round"/>
<rect x="491.0" y="52.4" width="2.8" height="5.2" fill="#e58fba"/>
<rect x="491.9" y="52.800000000000004" width="1" height="4.4" fill="#f4c8dc"/>
<path d="M507.3,57.6 L507.1,51.4" stroke="#c0625a" stroke-width="1.1" fill="none"/>
<path d="M507.1,51.4 L506.7,40.0" stroke="#a8c84a" stroke-width="1.0" fill="none"/>
<path d="M506.7,40.3 C507.2,29.6 508.5,22.0 509.8,19.0" fill="none" stroke="#94c840" stroke-width="0.86" stroke-linecap="round"/>
<path d="M506.8,42.5 C506.3,30.4 504.0,21.4 502.1,18.4" fill="none" stroke="#a6d04a" stroke-width="0.95" stroke-linecap="round"/>
<path d="M507.0,48.5 C499.4,28.8 491.7,15.6 481.6,28.3" fill="none" stroke="#a6d04a" stroke-width="0.90" stroke-linecap="round"/>
<path d="M507.0,48.7 C513.6,31.9 520.1,20.4 528.9,30.5" fill="none" stroke="#8fc53c" stroke-width="0.83" stroke-linecap="round"/>
<path d="M507.3,49.4 C502.9,43.4 495.6,43.1 492.7,47.1" fill="none" stroke="#bf8a40" stroke-width="0.70" stroke-linecap="round"/>
<rect x="505.90000000000003" y="52.4" width="2.8" height="5.2" fill="#e58fba"/>
<rect x="506.8" y="52.800000000000004" width="1" height="4.4" fill="#f4c8dc"/>
<path d="M515,57.6 L515.2,50.6" stroke="#c0625a" stroke-width="1.1" fill="none"/>
<path d="M515.2,50.6 L515.5,37.6" stroke="#a8c84a" stroke-width="1.0" fill="none"/>
<path d="M515.3,46.9 C510.9,30.2 506.6,18.6 500.7,25.3" fill="none" stroke="#9ccb42" stroke-width="0.90" stroke-linecap="round"/>
<path d="M515.5,38.4 C516.0,30.0 517.6,24.6 519.1,21.6" fill="none" stroke="#8fc53c" stroke-width="1.05" stroke-linecap="round"/>
<path d="M515.3,44.9 C510.6,28.3 506.0,16.9 499.7,30.1" fill="none" stroke="#a6d04a" stroke-width="0.95" stroke-linecap="round"/>
<path d="M515.0,49.9 C518.4,43.9 524.0,41.1 526.2,45.1" fill="none" stroke="#caa24e" stroke-width="0.70" stroke-linecap="round"/>
<rect x="513.6" y="52.4" width="2.8" height="5.2" fill="#e58fba"/>
<rect x="514.5" y="52.800000000000004" width="1" height="4.4" fill="#f4c8dc"/>
<path d="M525.2,57.6 L525.5,51.4" stroke="#c0625a" stroke-width="1.1" fill="none"/>
<path d="M525.5,51.4 L526.0,39.9" stroke="#a8c84a" stroke-width="1.0" fill="none"/>
<path d="M525.7,47.1 C518.7,33.2 511.6,23.2 502.3,31.8" fill="none" stroke="#8fc53c" stroke-width="0.84" stroke-linecap="round"/>
<path d="M525.7,47.4 C532.7,34.8 539.6,25.5 548.9,39.4" fill="none" stroke="#a6d04a" stroke-width="0.91" stroke-linecap="round"/>
<path d="M525.9,43.6 C526.4,32.7 528.4,24.8 530.0,21.8" fill="none" stroke="#8fc53c" stroke-width="0.81" stroke-linecap="round"/>
<path d="M525.2,47.9 C529.2,41.9 535.9,37.6 538.6,41.6" fill="none" stroke="#caa24e" stroke-width="0.70" stroke-linecap="round"/>
<rect x="523.8000000000001" y="52.4" width="2.8" height="5.2" fill="#e58fba"/>
<rect x="524.7" y="52.800000000000004" width="1" height="4.4" fill="#f4c8dc"/>
<path d="M576.6,57.6 L576.4,51.9" stroke="#c0625a" stroke-width="1.1" fill="none"/>
<path d="M576.4,51.9 L576.1,41.4" stroke="#a8c84a" stroke-width="1.0" fill="none"/>
<path d="M576.2,45.2 C575.7,37.1 574.8,31.9 573.8,28.9" fill="none" stroke="#94c840" stroke-width="0.84" stroke-linecap="round"/>
<path d="M576.3,48.1 C575.8,38.1 573.0,31.1 570.9,28.1" fill="none" stroke="#94c840" stroke-width="1.07" stroke-linecap="round"/>
<path d="M576.4,49.9 C576.9,38.6 578.3,30.4 579.5,27.4" fill="none" stroke="#9ccb42" stroke-width="1.09" stroke-linecap="round"/>
<path d="M576.6,52.7 C581.0,46.7 588.4,46.1 591.4,50.1" fill="none" stroke="#c79a45" stroke-width="0.70" stroke-linecap="round"/>
<rect x="575.2" y="51.1" width="2.8" height="6.5" fill="#f2f2f0"/>
<path d="M585.8,57.6 L586.1,52.1" stroke="#c0625a" stroke-width="1.1" fill="none"/>
<path d="M586.1,52.1 L586.7,41.8" stroke="#a8c84a" stroke-width="1.0" fill="none"/>
<path d="M586.7,42.2 C591.2,36.2 595.6,30.4 601.6,40.6" fill="none" stroke="#8fc53c" stroke-width="0.83" stroke-linecap="round"/>
<path d="M586.4,46.6 C579.0,37.3 571.5,29.9 561.5,38.1" fill="none" stroke="#8fc53c" stroke-width="0.89" stroke-linecap="round"/>
<path d="M586.5,45.7 C580.7,35.8 575.0,28.0 567.3,40.5" fill="none" stroke="#9ccb42" stroke-width="1.03" stroke-linecap="round"/>
<path d="M586.2,50.3 C593.2,35.7 600.2,25.4 609.6,39.6" fill="none" stroke="#8fc53c" stroke-width="1.03" stroke-linecap="round"/>
<path d="M585.8,48.7 C582.0,42.7 575.6,42.5 573.1,46.5" fill="none" stroke="#bf8a40" stroke-width="0.70" stroke-linecap="round"/>
<rect x="584.4" y="51.1" width="2.8" height="6.5" fill="#f2f2f0"/>
<path d="M594.1,57.6 L594.1,50.7" stroke="#c0625a" stroke-width="1.1" fill="none"/>
<path d="M594.1,50.7 L594.2,38.0" stroke="#a8c84a" stroke-width="1.0" fill="none"/>
<path d="M594.2,40.0 C589.8,34.5 585.3,29.0 579.4,38.0" fill="none" stroke="#9ccb42" stroke-width="1.00" stroke-linecap="round"/>
<path d="M594.2,42.9 C588.4,32.9 582.7,25.1 575.1,31.1" fill="none" stroke="#94c840" stroke-width="0.82" stroke-linecap="round"/>
<path d="M594.2,44.8 C600.8,33.5 607.4,24.9 616.3,35.2" fill="none" stroke="#b2d452" stroke-width="0.91" stroke-linecap="round"/>
<path d="M594.2,41.7 C598.3,33.9 602.3,27.2 607.8,34.5" fill="none" stroke="#a6d04a" stroke-width="1.03" stroke-linecap="round"/>
<rect x="592.7" y="51.1" width="2.8" height="6.5" fill="#f2f2f0"/>
<path d="M612.7,57.6 L613.2,51.2" stroke="#c0625a" stroke-width="1.1" fill="none"/>
<path d="M613.2,51.2 L614.1,39.4" stroke="#a8c84a" stroke-width="1.0" fill="none"/>
<path d="M613.8,43.7 C618.7,28.6 623.6,17.9 630.2,28.6" fill="none" stroke="#9ccb42" stroke-width="0.88" stroke-linecap="round"/>
<path d="M613.8,44.0 C620.4,26.8 627.0,15.1 635.8,24.1" fill="none" stroke="#b2d452" stroke-width="0.89" stroke-linecap="round"/>
<path d="M613.3,49.4 C607.4,31.7 601.5,19.7 593.7,25.6" fill="none" stroke="#8fc53c" stroke-width="0.90" stroke-linecap="round"/>
<path d="M612.7,47.8 C616.9,41.8 624.0,36.8 626.8,40.8" fill="none" stroke="#caa24e" stroke-width="0.70" stroke-linecap="round"/>
<rect x="611.3000000000001" y="51.1" width="2.8" height="6.5" fill="#f2f2f0"/>
<path d="M621.5,57.6 L621.4,50.5" stroke="#c0625a" stroke-width="1.1" fill="none"/>
<path d="M621.4,50.5 L621.3,37.4" stroke="#a8c84a" stroke-width="1.0" fill="none"/>
<path d="M621.4,45.8 C613.3,29.4 605.2,18.1 594.3,24.1" fill="none" stroke="#a6d04a" stroke-width="1.08" stroke-linecap="round"/>
<path d="M621.4,47.5 C626.4,27.5 631.5,14.2 638.2,24.7" fill="none" stroke="#94c840" stroke-width="1.08" stroke-linecap="round"/>
<path d="M621.4,45.1 C627.4,25.1 633.5,11.9 641.6,19.8" fill="none" stroke="#a6d04a" stroke-width="0.96" stroke-linecap="round"/>
<path d="M621.3,40.9 C614.4,25.0 607.5,13.9 598.2,21.3" fill="none" stroke="#8fc53c" stroke-width="0.88" stroke-linecap="round"/>
<rect x="620.1" y="51.1" width="2.8" height="6.5" fill="#f2f2f0"/>
<path d="M630.7,57.6 L630.8,50.6" stroke="#c0625a" stroke-width="1.1" fill="none"/>
<path d="M630.8,50.6 L630.9,37.5" stroke="#a8c84a" stroke-width="1.0" fill="none"/>
<path d="M630.9,40.7 C635.5,26.2 640.2,15.9 646.4,24.1" fill="none" stroke="#8fc53c" stroke-width="1.01" stroke-linecap="round"/>
<path d="M630.9,39.5 C624.4,28.4 617.9,19.9 609.2,29.8" fill="none" stroke="#a6d04a" stroke-width="1.02" stroke-linecap="round"/>
<path d="M630.8,46.0 C631.3,30.9 634.3,18.8 636.7,15.8" fill="none" stroke="#9ccb42" stroke-width="0.91" stroke-linecap="round"/>
<path d="M630.9,38.1 C625.9,25.4 621.0,16.1 614.4,26.9" fill="none" stroke="#94c840" stroke-width="1.01" stroke-linecap="round"/>
<path d="M630.7,50.6 C627.1,44.6 621.1,41.4 618.7,45.4" fill="none" stroke="#c79a45" stroke-width="0.70" stroke-linecap="round"/>
<rect x="629.3000000000001" y="51.1" width="2.8" height="6.5" fill="#f2f2f0"/>
<path d="M646.7,57.6 L646.7,50.8" stroke="#c0625a" stroke-width="1.1" fill="none"/>
<path d="M646.7,50.8 L646.8,38.0" stroke="#a8c84a" stroke-width="1.0" fill="none"/>
<path d="M646.8,44.4 C653.7,31.9 660.6,22.7 669.8,33.2" fill="none" stroke="#94c840" stroke-width="1.08" stroke-linecap="round"/>
<path d="M646.7,48.2 C642.1,33.5 637.5,23.0 631.4,33.7" fill="none" stroke="#94c840" stroke-width="0.96" stroke-linecap="round"/>
<path d="M646.7,46.1 C647.2,33.3 648.4,23.5 649.5,20.5" fill="none" stroke="#94c840" stroke-width="0.88" stroke-linecap="round"/>
<path d="M646.7,46.6 C650.1,40.6 655.8,39.0 658.1,43.0" fill="none" stroke="#bf8a40" stroke-width="0.70" stroke-linecap="round"/>
<rect x="645.3000000000001" y="51.1" width="2.8" height="6.5" fill="#f2f2f0"/>
<path d="M655.4,57.6 L655.2,50.5" stroke="#c0625a" stroke-width="1.1" fill="none"/>
<path d="M655.2,50.5 L654.8,37.4" stroke="#a8c84a" stroke-width="1.0" fill="none"/>
<path d="M655.0,43.8 C654.5,32.1 652.9,23.5 651.4,20.5" fill="none" stroke="#8fc53c" stroke-width="0.97" stroke-linecap="round"/>
<path d="M655.1,47.4 C661.1,30.9 667.1,19.5 675.2,28.4" fill="none" stroke="#9ccb42" stroke-width="0.84" stroke-linecap="round"/>
<path d="M654.9,41.1 C659.9,28.0 664.9,18.4 671.6,24.5" fill="none" stroke="#8fc53c" stroke-width="0.89" stroke-linecap="round"/>
<path d="M655.0,44.6 C650.5,28.4 646.1,17.2 640.1,23.0" fill="none" stroke="#a6d04a" stroke-width="1.03" stroke-linecap="round"/>
<path d="M655.4,47.4 C652.5,41.4 647.7,40.7 645.7,44.7" fill="none" stroke="#c79a45" stroke-width="0.70" stroke-linecap="round"/>
<rect x="654.0" y="51.1" width="2.8" height="6.5" fill="#f2f2f0"/>
<path d="M667.5,57.6 L668.0,51.9" stroke="#c0625a" stroke-width="1.1" fill="none"/>
<path d="M668.0,51.9 L668.9,41.3" stroke="#a8c84a" stroke-width="1.0" fill="none"/>
<path d="M668.3,48.7 C661.6,34.0 654.8,23.5 645.9,34.1" fill="none" stroke="#a6d04a" stroke-width="0.85" stroke-linecap="round"/>
<path d="M668.6,45.3 C669.1,35.3 669.9,28.4 670.8,25.4" fill="none" stroke="#b2d452" stroke-width="0.80" stroke-linecap="round"/>
<path d="M668.4,46.8 C673.4,35.1 678.4,26.3 685.1,32.1" fill="none" stroke="#b2d452" stroke-width="0.90" stroke-linecap="round"/>
<path d="M668.4,46.8 C661.9,36.3 655.5,28.1 646.8,35.5" fill="none" stroke="#8fc53c" stroke-width="0.90" stroke-linecap="round"/>
<path d="M667.5,50.4 C664.3,44.4 659.0,42.3 656.9,46.3" fill="none" stroke="#c79a45" stroke-width="0.70" stroke-linecap="round"/>
<rect x="666.1" y="51.1" width="2.8" height="6.5" fill="#f2f2f0"/>
</g>
<rect x="302" y="58.4" width="27" height="3.4" fill="#58585a" stroke="none" stroke-width="0.8"/>
<line x1="311.0" y1="58.4" x2="311.0" y2="61.8" stroke="#3c3c3c" stroke-width="0.5"/>
<line x1="320.0" y1="58.4" x2="320.0" y2="61.8" stroke="#3c3c3c" stroke-width="0.5"/>
<rect x="337" y="58.4" width="28" height="3.4" fill="#58585a" stroke="none" stroke-width="0.8"/>
<line x1="346.3333333333333" y1="58.4" x2="346.3333333333333" y2="61.8" stroke="#3c3c3c" stroke-width="0.5"/>
<line x1="355.6666666666667" y1="58.4" x2="355.6666666666667" y2="61.8" stroke="#3c3c3c" stroke-width="0.5"/>
<rect x="371" y="58.4" width="27" height="3.4" fill="#58585a" stroke="none" stroke-width="0.8"/>
<line x1="380.0" y1="58.4" x2="380.0" y2="61.8" stroke="#3c3c3c" stroke-width="0.5"/>
<line x1="389.0" y1="58.4" x2="389.0" y2="61.8" stroke="#3c3c3c" stroke-width="0.5"/>
<rect x="435" y="58.4" width="27.399999999999977" height="3.4" fill="#58585a" stroke="none" stroke-width="0.8"/>
<line x1="444.1333333333333" y1="58.4" x2="444.1333333333333" y2="61.8" stroke="#3c3c3c" stroke-width="0.5"/>
<line x1="453.26666666666665" y1="58.4" x2="453.26666666666665" y2="61.8" stroke="#3c3c3c" stroke-width="0.5"/>
<rect x="469.6" y="58.4" width="26.69999999999999" height="3.4" fill="#58585a" stroke="none" stroke-width="0.8"/>
<line x1="478.5" y1="58.4" x2="478.5" y2="61.8" stroke="#3c3c3c" stroke-width="0.5"/>
<line x1="487.40000000000003" y1="58.4" x2="487.40000000000003" y2="61.8" stroke="#3c3c3c" stroke-width="0.5"/>
<rect x="502.9" y="58.4" width="28.5" height="3.4" fill="#58585a" stroke="none" stroke-width="0.8"/>
<line x1="512.4" y1="58.4" x2="512.4" y2="61.8" stroke="#3c3c3c" stroke-width="0.5"/>
<line x1="521.9" y1="58.4" x2="521.9" y2="61.8" stroke="#3c3c3c" stroke-width="0.5"/>
<rect x="570" y="58.4" width="29.600000000000023" height="3.4" fill="#58585a" stroke="none" stroke-width="0.8"/>
<line x1="579.8666666666667" y1="58.4" x2="579.8666666666667" y2="61.8" stroke="#3c3c3c" stroke-width="0.5"/>
<line x1="589.7333333333333" y1="58.4" x2="589.7333333333333" y2="61.8" stroke="#3c3c3c" stroke-width="0.5"/>
<rect x="607.3" y="58.4" width="28.90000000000009" height="3.4" fill="#58585a" stroke="none" stroke-width="0.8"/>
<line x1="616.9333333333333" y1="58.4" x2="616.9333333333333" y2="61.8" stroke="#3c3c3c" stroke-width="0.5"/>
<line x1="626.5666666666667" y1="58.4" x2="626.5666666666667" y2="61.8" stroke="#3c3c3c" stroke-width="0.5"/>
<rect x="641.9" y="58.4" width="31.100000000000023" height="3.4" fill="#58585a" stroke="none" stroke-width="0.8"/>
<line x1="652.2666666666667" y1="58.4" x2="652.2666666666667" y2="61.8" stroke="#3c3c3c" stroke-width="0.5"/>
<line x1="662.6333333333333" y1="58.4" x2="662.6333333333333" y2="61.8" stroke="#3c3c3c" stroke-width="0.5"/>
<line x1="409.6" y1="63" x2="409.6" y2="151" stroke="#888" stroke-width="0.6" stroke-dasharray="1.2,1.5"/>
<line x1="540.0" y1="63" x2="540.0" y2="151" stroke="#888" stroke-width="0.6" stroke-dasharray="1.2,1.5"/>
<defs><clipPath id="rc"><rect x="298.9" y="61.9" width="384.8" height="89.6"/></clipPath></defs><g clip-path="url(#rc)">
<path d="M315.0,67.1 C316.4,67.5 318.1,66.4 318.9,68.4 M317.0,67.8 l-3.8,1.9 M317.7,68.0 l1.9,2.0 M315.9,67.4 l0.1,1.5 M313.4,76.5 C310.6,76.6 307.1,76.5 303.9,78.1 M305.1,77.9 l-0.7,3.9 M305.3,77.9 l0.5,1.4 M309.5,77.2 l3.0,3.6 M313.3,81.0 C314.2,82.2 315.6,82.6 316.4,83.7 M313.3,80.2 C310.2,82.2 305.9,82.7 303.9,86.4 M312.8,91.6 C310.5,91.7 305.0,93.9 303.5,96.4 M309.9,93.1 l-2.1,0.7 M312.6,97.0 C308.7,98.0 305.4,99.6 303.2,100.8 M305.6,99.8 l3.1,3.0 M305.4,99.9 l0.4,1.5 M310.4,97.9 l0.6,1.1 M313.3,81.2 C310.0,81.9 306.9,81.7 304.3,84.8 M308.0,83.3 l-1.7,1.3 M312.7,94.3 C313.1,94.5 313.9,94.3 314.2,95.6 M313.4,94.9 l-1.2,1.0 M314.8,68.4 C311.0,67.6 306.3,70.4 302.7,74.3 M314.1,71.6 C309.4,74.0 304.3,76.6 300.0,84.0 M304.4,80.2 l0.3,1.0 M301.7,82.5 l0.1,1.1 M304.9,79.7 l0.4,1.1 M313.1,86.0 C309.5,86.9 307.4,91.5 304.7,93.3 M308.1,90.3 l0.2,1.7 M307.9,90.5 l1.7,1.2 M306.5,91.7 l2.3,2.7 M315.7,63.4 C313.2,63.8 310.8,65.0 309.8,66.9 M313.6,74.4 C314.8,75.5 316.9,74.0 317.8,75.0 M312.7,93.8 C313.8,95.2 314.5,94.1 315.5,96.0 M313.6,94.5 l-1.4,1.2 M313.3,81.2 C310.6,82.4 306.4,82.4 304.5,83.3 M313.7,74.2 C311.1,72.8 306.8,78.7 304.5,82.4 M308.2,79.1 l-1.2,1.5 M313.2,82.3 C309.7,82.6 305.0,84.5 299.7,85.4 M314.6,69.1 C315.8,68.5 317.4,70.7 318.0,70.1 M316.6,69.7 l-1.3,1.0 M316.1,69.5 l0.9,1.5 M312.9,89.6 C310.5,89.9 306.3,92.0 303.6,93.8 M306.8,92.4 l0.2,0.9 M309.5,91.2 l-0.8,1.7 M308.1,91.7 l1.0,3.3 M313.4,76.8 C309.8,77.1 307.5,78.8 304.8,80.2 M314.2,71.3 C311.4,70.2 308.3,72.7 306.4,72.9 M310.1,72.2 l-3.3,3.2 M310.9,72.0 l1.0,0.8 M311.8,71.8 l1.4,0.8 M312.9,89.0 C313.9,89.6 315.7,89.8 316.4,89.8 M314.1,89.2 l-1.9,2.1 M313.0,87.4 C310.8,87.9 308.6,89.4 307.6,92.1 M311.3,88.9 l1.7,2.8 M308.2,91.6 l0.6,1.0 M313.1,84.6 C308.0,83.4 302.9,86.0 298.9,89.6 M301.1,88.9 l-1.9,1.3 M303.5,88.0 l1.9,1.7 M304.2,87.7 l1.1,3.6 M314.4,70.3 C315.6,71.2 316.9,70.9 318.2,72.8 M315.6,71.1 l-0.3,0.6 M315.5,71.0 l0.1,1.4 M314.9,67.9 C309.2,68.4 304.3,73.1 301.0,77.5 M313.2,81.9 C310.1,82.9 306.6,84.0 305.3,83.7 M313.3,78.9 C315.1,78.2 316.3,80.6 317.7,80.8 M314.6,79.4 l-0.6,0.7 M313.8,73.2 C310.3,72.2 304.5,75.1 301.4,75.1 M309.9,73.8 l-1.2,0.8 M312.9,90.8 C314.1,90.3 315.0,90.9 315.9,93.2 M313.9,91.6 l3.2,0.4 M314.7,92.2 l-0.6,1.1 M315.0,92.5 l-2.9,1.5 M312.8,92.6 C309.1,92.7 304.7,96.6 301.0,101.1 M309.5,95.0 l-1.0,2.5 M302.2,100.2 l1.5,2.6 M304.4,98.6 l1.8,1.4 M313.2,81.6 C314.7,82.2 315.7,83.8 317.0,85.0 M316.5,84.6 l0.6,2.5 M315.8,83.9 l-3.8,4.4 M314.6,82.9 l-1.8,0.4 M312.9,89.4 C309.1,88.2 302.9,92.1 300.3,95.1 M302.7,94.0 l-2.2,2.7 M306.1,92.5 l-2.6,1.6 M303.8,93.5 l-0.8,1.9 M312.6,101.0 C310.1,102.0 307.7,103.8 305.1,106.0 M310.7,102.2 l3.0,2.5 M308.6,103.6 l-2.9,1.2 M315.7,137.5 C317.3,137.3 318.7,138.5 319.8,139.2 M317.2,138.1 l-1.7,2.3 M316.9,143.4 C318.5,142.8 319.2,146.1 320.6,146.5 M319.1,145.3 l-3.0,4.1 M318.8,145.0 l1.1,1.8 M318.8,145.0 l-0.5,0.5 M313.1,110.5 C313.8,111.8 314.4,109.8 315.2,111.2 M314.6,111.0 l0.2,2.2 M317.4,145.2 C315.1,144.5 313.3,146.9 311.1,147.5 M315.1,146.1 l0.2,1.1 M313.9,123.0 C312.3,121.8 310.6,124.6 308.4,124.3 M309.2,124.1 l2.1,2.1 M312.2,123.4 l-4.1,0.9 M315.2,133.9 C313.5,135.1 312.2,135.1 310.2,135.1 M318.1,147.6 C319.4,147.0 321.1,147.9 321.8,148.7 M320.5,148.3 l1.2,1.3 M319.0,147.9 l0.8,1.7 M314.8,130.9 C313.0,130.2 310.1,131.8 309.1,132.0 M310.7,131.7 l1.8,1.1 M309.8,131.8 l1.6,1.7 M316.9,143.5 C315.9,144.7 315.0,144.6 313.8,145.9 M314.3,145.4 l3.0,1.9 M315.7,137.6 C314.4,136.8 312.9,138.0 311.5,139.2 M312.4,138.8 l-1.6,1.9 M314.1,138.2 l-1.1,1.3 M312.5,138.8 l0.7,0.7 M315.1,133.3 C311.9,134.1 308.8,136.1 307.5,138.6 M312.5,135.1 l-0.9,1.3 M312.9,106.4 C311.3,106.2 309.9,108.5 308.4,109.8 M314.2,126.8 C311.9,127.8 308.9,129.8 306.9,129.7 M308.6,129.1 l3.6,3.5 M312.1,127.7 l0.5,3.1 M308.7,129.0 l1.8,1.5 M318.2,148.1 C319.8,147.4 320.5,149.2 321.8,149.9 M313.1,109.4 C311.3,109.0 308.9,110.2 306.5,110.6 M317.0,143.6 C318.0,143.9 319.4,145.5 319.9,145.9 M319.4,145.5 l2.4,3.0 M313.8,121.7 C315.5,123.0 317.3,122.4 317.9,125.2 M316.1,123.7 l-0.6,2.6 M316.9,124.4 l-3.0,2.8 M315.9,123.5 l-0.8,1.5 M312.5,100.3 C310.7,101.3 309.2,102.3 308.0,104.0 M309.7,102.6 l-0.3,0.7 M310.2,102.2 l1.0,1.9 M310.8,101.7 l-0.2,1.1 M312.6,101.8 C310.8,100.6 309.9,102.2 308.2,104.7 M309.3,104.0 l1.3,1.4 M310.7,103.1 l-2.2,1.2 M313.8,121.2 C312.2,120.8 310.6,121.7 310.0,122.5 M311.2,122.1 l1.6,1.5 M311.2,122.1 l2.8,2.2 M312.8,121.5 l1.8,0.7 M312.6,101.3 C310.8,102.9 309.2,105.1 307.1,106.0 M309.5,104.0 l2.3,2.5" fill="none" stroke="#303030" stroke-width="0.42" stroke-opacity="0.9"/>
<path d="M316.0,62.0 C315.6,64.2 314.1,68.7 313.5,75.0 C312.9,81.3 312.4,91.7 312.5,100.0 C312.6,108.3 313.4,118.3 314.0,125.0 C314.6,131.7 315.2,135.7 316.0,140.0 C316.8,144.3 318.5,149.2 319.0,151.0" fill="none" stroke="#141414" stroke-width="1.2" stroke-linecap="round"/>
<path d="M344.8,75.4 C346.6,75.9 347.8,76.2 349.2,76.3 M348.8,76.2 l2.1,3.0 M345.8,69.1 C350.8,70.1 355.6,73.0 357.5,75.3 M352.7,72.8 l-2.1,0.9 M346.7,63.9 C350.1,66.3 356.2,69.8 358.8,71.8 M352.2,67.5 l-0.4,3.9 M352.5,67.7 l1.2,1.2 M346.3,65.9 C349.7,67.3 352.4,69.9 355.2,72.5 M351.1,69.5 l-0.8,1.6 M349.1,68.0 l-2.0,3.9 M350.0,68.7 l1.8,2.4 M345.8,69.2 C348.5,70.6 352.9,71.2 355.2,72.8 M344.9,74.7 C342.7,74.0 340.2,75.1 339.2,75.8 M342.8,75.1 l1.6,1.1 M340.9,75.5 l-0.4,0.5 M345.4,71.4 C342.9,70.7 340.3,71.1 339.0,72.5 M346.1,67.4 C344.4,67.7 340.9,67.6 339.5,69.1 M346.3,66.3 C349.2,66.7 352.3,66.5 355.8,68.1 M353.7,67.7 l0.9,1.5 M351.6,67.3 l-0.1,1.5 M345.0,74.2 C343.6,75.8 342.1,74.7 341.3,77.5 M344.0,75.1 l0.1,3.4 M344.8,75.1 C346.8,75.7 350.0,76.3 351.3,78.2 M347.4,76.3 l-2.6,1.6 M346.8,76.1 l-2.5,0.6 M346.2,75.7 l-3.0,0.4 M345.4,71.4 C348.9,71.3 352.6,72.1 354.4,75.3 M344.9,74.3 C348.5,73.7 352.8,76.7 354.3,82.2 M348.8,77.6 l-0.7,0.7 M348.1,77.0 l2.5,3.2 M346.9,62.8 C350.0,61.0 352.6,66.2 355.3,69.7 M349.7,65.1 l-0.7,1.7 M353.0,67.9 l-2.0,0.6 M349.0,64.6 l1.1,3.9 M345.4,71.7 C343.3,71.6 341.5,73.6 340.0,75.6 M341.6,74.5 l-0.6,2.0 M341.7,74.4 l-1.8,1.7 M342.2,74.0 l1.4,0.6 M345.3,72.2 C347.0,73.4 349.0,73.5 350.0,73.5 M346.7,63.8 C345.3,64.0 344.5,66.1 343.2,66.1 M345.8,64.4 l1.3,1.0 M343.8,65.7 l1.2,1.3 M343.5,65.9 l0.6,0.8 M346.0,68.2 C344.5,68.5 342.4,71.7 340.8,72.3 M343.6,70.1 l1.3,2.9 M344.7,69.2 l1.8,2.2 M344.3,69.6 l-0.9,3.5 M344.9,74.8 C343.2,73.7 341.5,76.5 340.0,78.8 M340.8,78.2 l-3.3,3.4 M341.3,77.8 l1.0,1.4 M343.2,76.2 l-2.8,2.5 M346.0,68.1 C344.5,67.7 343.0,70.1 341.0,70.6 M345.2,72.6 C348.3,71.7 351.4,74.2 355.2,76.6 M349.0,74.1 l2.3,2.5 M347.6,73.5 l3.0,2.1 M348.3,73.8 l-0.2,0.3 M346.9,62.5 C350.5,61.8 354.0,63.6 356.1,65.3 M354.1,64.6 l0.7,2.0 M353.0,64.3 l1.8,0.5 M343.4,110.2 C339.7,110.6 337.5,113.0 334.4,117.3 M341.2,111.9 l0.6,1.5 M336.2,115.8 l-0.6,0.9 M342.4,95.6 C339.3,97.6 335.1,97.1 331.2,101.2 M336.5,98.5 l2.6,0.9 M343.6,83.6 C341.4,84.9 339.1,86.1 336.8,87.4 M338.7,86.3 l2.8,3.5 M338.7,86.4 l-1.8,2.9 M343.6,112.2 C340.1,112.2 337.1,114.2 335.7,114.4 M336.7,114.2 l-1.2,0.4 M346.5,123.4 C348.8,123.9 351.8,124.9 353.7,124.6 M349.5,123.9 l-3.5,0.9 M349.0,123.8 l-0.4,0.8 M342.5,94.5 C340.5,95.3 338.5,96.8 336.0,98.5 M339.2,96.5 l-0.8,1.5 M340.7,95.6 l1.5,3.3 M340.2,95.9 l0.9,1.0 M346.4,123.1 C343.0,123.3 339.7,123.5 336.8,125.1 M341.0,124.2 l-1.3,1.6 M343.6,123.7 l1.6,4.0 M344.0,123.6 l1.4,0.3 M343.8,81.7 C341.6,82.7 339.3,83.2 337.9,83.3 M342.4,82.1 l-1.8,1.4 M342.7,105.3 C339.0,105.4 336.7,104.7 333.6,106.7 M343.1,89.3 C339.0,89.8 335.5,93.8 332.3,95.9 M337.0,93.0 l-2.8,3.8 M343.5,85.4 C341.4,84.9 338.8,85.5 336.0,87.3 M336.8,87.1 l0.9,1.6 M338.5,86.6 l0.2,0.6 M341.0,86.0 l0.9,2.1 M344.3,116.1 C346.8,117.1 349.0,115.7 350.5,117.2 M343.6,83.6 C345.9,85.3 350.0,86.9 352.1,89.7 M349.5,87.8 l1.9,1.5 M347.8,86.6 l1.2,1.4 M343.5,111.6 C339.2,111.1 336.1,113.3 333.4,115.2 M338.5,113.4 l-1.2,1.7 M346.4,123.1 C348.5,123.3 350.9,124.9 352.1,126.5 M343.5,85.2 C346.5,86.5 349.8,85.6 351.6,87.8 M345.7,85.9 l-3.6,3.8 M345.4,85.8 l1.8,2.2 M345.6,120.4 C343.0,120.3 340.2,124.5 337.1,126.2 M338.5,125.3 l-0.0,2.8 M338.5,125.3 l-0.8,1.9 M338.4,125.3 l0.9,1.9 M343.1,107.9 C345.0,108.2 347.2,108.8 349.5,110.0 M344.9,108.5 l-0.6,2.8 M345.6,108.8 l-2.0,1.3 M348.4,109.7 l0.3,0.3 M342.3,96.9 C340.2,98.0 337.6,97.6 335.8,99.2 M339.8,97.8 l-1.5,1.1 M343.3,87.2 C341.9,87.7 340.1,86.9 338.9,88.3 M342.3,87.4 l-1.4,0.4 M342.8,106.0 C345.2,105.9 348.7,106.6 350.1,107.7 M348.9,107.4 l2.8,0.4 M346.0,106.8 l-3.9,2.8 M349.4,107.5 l2.6,0.6 M342.7,105.2 C345.1,104.0 347.2,107.9 348.7,108.0 M345.1,106.3 l-3.9,1.3 M345.1,118.6 C346.6,118.0 348.9,119.2 350.9,123.4 M346.5,119.8 l0.7,1.1 M348.4,121.3 l3.8,2.1 M349.4,122.2 l-1.5,1.5 M344.2,78.9 C346.1,80.0 347.7,80.4 348.5,82.2 M347.7,81.5 l-1.0,0.6 M343.6,84.2 C340.3,83.7 335.9,88.2 333.9,92.7 M345.6,120.3 C346.8,120.7 347.8,120.4 348.5,121.4 M346.9,120.8 l-0.3,2.8 M347.3,121.0 l-0.2,3.0 M347.7,121.1 l0.0,2.5 M344.4,116.3 C347.6,116.5 351.6,117.5 353.0,118.4 M351.6,118.1 l-2.1,1.0 M351.5,118.0 l-0.2,1.5 M344.0,115.0 C341.1,115.5 338.3,115.6 337.2,117.6 M342.2,97.6 C338.6,97.9 335.7,99.2 333.9,99.6 M336.0,99.1 l-0.1,2.0 M339.2,98.4 l0.9,1.6 M342.8,92.4 C339.4,92.8 336.6,94.1 332.6,94.0 M339.1,92.9 l-2.2,1.2 M345.7,120.8 C342.6,121.4 338.9,125.3 335.4,126.0 M337.2,125.1 l0.9,2.1 M343.3,87.3 C341.0,86.7 337.0,89.3 335.4,90.1 M337.7,89.3 l-2.1,1.8 M344.6,76.4 C347.1,77.1 351.0,80.3 353.0,83.9 M344.6,76.6 C346.4,77.5 347.9,79.3 349.8,79.6 M348.9,79.1 l-1.6,3.0 M347.6,78.3 l3.4,3.1 M346.7,77.8 l0.4,2.5 M344.0,80.2 C345.9,81.0 347.1,81.9 348.4,81.9 M346.8,81.3 l1.1,3.4 M345.3,80.7 l-4.0,0.8 M343.8,81.6 C346.7,83.1 348.2,85.8 350.2,86.9 M346.5,83.8 l1.9,1.5 M343.6,84.1 C339.6,84.0 337.4,84.5 334.5,85.8 M335.7,85.5 l1.2,1.7 M342.5,95.0 C344.0,95.4 345.1,96.2 346.6,96.6 M345.7,96.2 l3.4,3.1 M343.3,87.3 C344.3,87.7 345.8,87.8 346.3,90.0 M343.7,82.8 C345.3,83.4 346.9,83.8 347.8,85.7 M345.1,83.8 l1.6,0.6 M347.6,127.1 C345.1,126.9 343.6,127.4 341.1,131.4 M354.7,145.7 C353.4,146.7 351.2,146.0 350.5,147.4 M351.0,147.2 l1.8,1.8 M349.2,132.3 C348.4,133.2 347.4,131.8 346.9,132.7 M347.5,132.6 l3.0,3.1 M348.2,132.5 l-0.0,2.8 M351.4,138.1 C350.2,138.4 348.8,139.5 347.8,140.4 M350.2,135.4 C348.3,136.0 347.1,137.7 345.9,138.3 M346.9,137.6 l3.6,1.8 M346.4,138.0 l0.1,3.8 M349.5,133.4 C347.8,134.0 346.3,133.1 344.6,134.7 M356.1,148.9 C357.6,150.4 359.3,151.5 359.9,152.3 M358.3,150.9 l-2.3,2.2 M359.4,151.9 l1.3,0.5 M352.3,140.3 C355.1,139.5 356.9,141.4 358.7,144.8 M354.8,142.0 l-1.5,2.2 M353.6,141.2 l-2.2,2.5 M355.7,142.7 l2.8,0.5 M356.8,150.4 C357.4,149.8 358.2,151.6 359.2,152.4 M358.0,151.4 l1.9,2.5 M357.8,151.3 l-3.4,0.4 M358.1,151.6 l2.9,2.4 M349.5,133.3 C348.9,132.7 347.8,134.6 347.1,134.8 M348.3,134.0 l1.7,2.0 M354.4,145.0 C355.1,144.4 356.1,144.7 356.6,145.8 M349.6,133.6 C348.7,133.9 347.5,135.2 346.8,134.5 M351.1,137.6 C352.0,138.7 353.4,138.3 354.5,139.1 M354.2,138.9 l-0.6,0.4 M352.9,138.4 l0.8,1.4 M356.7,150.2 C359.2,150.1 361.7,151.7 363.3,153.3 M358.3,151.0 l-1.2,0.3 M351.3,137.9 C353.4,137.4 354.7,137.8 356.1,139.1 M355.4,138.9 l2.4,0.3 M352.9,138.3 l-0.2,1.0 M349.9,134.7 C349.2,135.7 348.4,133.7 347.7,135.0" fill="none" stroke="#303030" stroke-width="0.42" stroke-opacity="0.9"/>
<path d="M347.0,62.0 C346.5,65.0 344.8,73.7 344.0,80.0 C343.2,86.3 342.0,94.2 342.0,100.0 C342.0,105.8 342.7,109.2 344.0,115.0 C345.3,120.8 347.8,129.0 350.0,135.0 C352.2,141.0 355.8,148.3 357.0,151.0" fill="none" stroke="#141414" stroke-width="1.2" stroke-linecap="round"/>
<path d="M374.4,69.1 C376.0,67.8 377.8,69.5 378.6,71.7 M376.8,70.6 l-0.6,2.8 M375.9,70.1 l1.7,0.9 M375.3,69.7 l-2.6,3.7 M374.1,63.3 C376.3,63.5 378.8,64.8 380.1,65.4 M379.3,65.1 l-0.5,0.4 M377.3,64.4 l0.8,1.8 M378.9,65.0 l1.8,1.7 M374.9,78.0 C373.4,77.4 372.2,79.3 371.4,79.4 M371.8,79.3 l0.6,3.1 M373.7,78.5 l0.6,1.4 M374.1,63.9 C376.8,63.1 378.5,65.7 380.7,65.3 M375.0,80.1 C376.5,80.2 377.8,79.8 379.2,82.6 M375.0,80.0 C373.8,78.8 372.3,81.7 371.7,81.5 M373.5,80.7 l-0.9,3.6 M372.7,81.0 l1.7,1.5 M373.7,80.6 l1.5,3.2 M374.7,75.1 C373.1,75.1 372.0,75.1 370.8,76.7 M372.7,75.9 l-1.0,2.6 M371.9,76.2 l-1.4,1.2 M375.5,90.9 C374.1,90.5 372.4,91.9 371.0,93.6 M374.3,91.6 l3.7,2.8 M374.2,91.7 l0.9,1.0 M373.6,92.1 l1.1,0.6 M375.0,80.0 C377.2,79.4 379.3,80.9 380.4,81.8 M376.9,80.6 l0.1,0.6 M379.2,81.3 l-2.5,1.3 M375.3,86.2 C376.9,86.9 379.3,87.1 381.2,88.6 M378.9,87.7 l-0.3,0.6 M378.5,87.5 l1.0,2.2 M378.8,87.7 l1.9,0.4 M374.8,75.7 C376.8,77.6 379.4,78.2 380.5,80.7 M376.1,76.9 l1.6,3.9 M375.4,88.9 C377.5,88.4 379.3,89.1 380.5,89.7 M374.6,72.2 C372.1,71.6 370.1,73.4 368.4,75.4 M369.4,74.9 l2.5,0.3 M370.6,74.2 l-3.7,1.3 M374.4,70.1 C376.2,68.8 377.2,69.8 378.9,72.3 M375.4,87.6 C373.9,88.0 371.8,87.7 370.6,89.5 M373.0,88.6 l-1.9,1.4 M371.8,89.0 l-2.9,1.6 M380.5,118.0 C387.3,118.1 393.1,120.3 396.4,120.9 M388.8,119.5 l0.2,1.6 M384.5,118.7 l-0.4,2.5 M394.1,120.5 l2.1,2.1 M376.6,102.5 C380.0,104.6 383.3,106.6 385.3,109.1 M382.6,124.5 C387.1,125.0 393.2,127.3 396.5,129.0 M393.6,128.1 l1.3,1.4 M393.5,128.0 l0.7,3.5 M375.7,93.5 C379.6,96.1 384.5,97.9 390.1,103.3 M376.4,101.7 C374.7,101.5 373.5,102.6 372.2,104.3 M377.8,107.0 C374.5,107.4 372.2,111.3 370.3,112.8 M372.9,110.8 l-2.9,0.7 M381.7,121.9 C387.4,121.1 391.1,125.2 396.2,128.9 M393.2,127.5 l1.7,2.2 M383.2,126.2 C389.7,125.8 395.4,131.5 398.5,139.8 M389.7,132.0 l-2.7,3.8 M378.8,111.2 C384.5,112.2 389.6,117.9 392.7,121.9 M378.7,110.7 C377.1,112.2 375.9,111.2 374.5,113.5 M376.0,112.5 l-3.3,3.3 M375.9,98.8 C374.4,98.2 372.8,98.9 372.1,99.6 M375.2,99.0 l-0.3,1.4 M374.6,99.1 l3.0,1.5 M379.4,113.8 C378.3,115.4 376.7,115.4 375.1,116.6 M376.3,115.8 l0.8,1.7 M376.1,115.9 l1.2,2.2 M380.7,118.9 C383.5,120.0 387.1,120.9 389.3,123.4 M383.5,120.4 l1.3,0.8 M384.2,129.3 C382.5,129.9 380.9,129.9 379.6,132.5 M375.8,96.3 C373.9,95.5 372.3,97.4 370.0,99.7 M373.7,97.6 l-1.1,1.5 M373.0,97.9 l1.7,1.3 M383.1,125.9 C381.9,126.6 380.3,126.0 378.7,126.9 M379.7,126.6 l0.7,0.8 M381.0,126.3 l0.1,1.3 M381.6,126.2 l1.3,0.4 M382.4,124.1 C389.4,125.3 398.7,128.5 401.7,132.6 M386.7,126.0 l0.6,0.5 M396.5,130.3 l-1.4,1.5 M389.0,127.0 l-2.2,3.2 M384.2,129.0 C387.4,128.8 389.5,130.0 392.7,132.1 M388.9,130.7 l-2.9,1.2 M377.3,105.1 C384.2,104.6 387.5,108.8 393.8,108.6 M391.4,108.1 l-0.5,3.2 M378.9,111.4 C378.1,111.4 376.7,111.5 376.1,112.0 M377.7,111.6 l1.5,1.3 M378.0,111.6 l1.8,1.7 M377.6,111.7 l0.6,0.9 M375.6,92.1 C373.3,91.4 371.2,92.1 368.8,93.9 M375.9,97.6 C381.5,97.3 384.1,99.2 389.4,101.5 M378.0,107.9 C375.9,107.2 372.3,108.0 370.4,110.2 M382.5,124.3 C390.5,128.2 397.0,129.1 402.1,141.1 M390.8,131.4 l-0.2,0.4 M394.9,134.9 l0.7,0.3 M379.0,112.1 C382.2,113.9 385.8,114.4 388.9,117.4 M377.8,107.3 C384.8,106.8 389.3,111.0 393.7,114.4 M382.9,109.6 l1.7,3.2 M387.1,111.4 l-1.2,1.9 M383.5,109.8 l-0.1,1.3 M375.9,98.8 C381.0,98.7 388.0,102.0 391.5,109.4 M377.2,104.8 C383.8,104.4 391.7,107.9 394.9,108.2 M375.7,94.9 C382.8,93.6 390.5,95.6 395.1,99.3 M392.3,98.7 l1.9,0.5 M376.9,103.5 C374.4,103.9 371.0,105.8 369.8,107.3 M375.7,93.7 C379.9,95.9 385.4,100.1 391.1,105.9 M380.4,117.7 C387.3,117.2 395.4,122.5 398.9,125.2 M385.6,119.8 l-0.6,1.1 M377.4,105.7 C374.8,106.5 373.3,107.9 370.7,111.3 M377.4,105.4 C379.6,106.5 383.9,107.4 385.3,107.9 M381.0,106.5 l0.5,1.0 M383.9,107.5 l-0.3,2.7 M379.1,106.0 l-4.2,3.9 M375.7,93.1 C373.7,92.4 371.6,93.4 370.1,94.2 M371.6,93.9 l-1.9,0.9 M378.1,108.4 C376.7,110.2 375.2,108.8 374.5,111.0 M375.0,110.7 l2.9,0.9 M375.0,110.7 l-2.2,1.1 M377.6,106.4 C383.7,105.3 388.5,111.9 394.7,120.9 M376.0,100.2 C381.7,102.0 385.0,103.7 389.9,112.4 M386.9,109.8 l2.1,1.7 M381.3,104.8 l-0.0,2.6 M377.4,105.6 C376.6,106.1 375.2,107.8 374.7,108.0 M375.9,106.9 l0.4,1.3 M376.5,106.3 l0.4,1.4 M375.2,107.6 l1.0,2.7 M382.6,124.6 C386.3,124.7 393.8,128.0 395.8,131.7 M389.3,128.2 l-1.1,0.9 M390.1,128.6 l-2.3,0.4 M378.9,111.4 C377.2,111.7 375.5,113.2 373.5,114.6 M377.4,112.3 l-0.9,2.0 M374.4,114.0 l1.3,1.1 M384.1,128.8 C382.5,129.9 379.9,130.2 379.1,132.7 M383.0,129.7 l-0.5,2.5 M381.4,130.9 l2.1,3.1 M375.8,96.6 C379.6,99.3 382.6,101.0 384.6,103.4 M379.2,99.2 l-2.8,1.0 M383.4,102.5 l1.6,0.6 M383.6,102.7 l1.0,0.8 M375.7,94.2 C379.7,93.7 383.8,95.4 385.4,97.0 M378.3,109.3 C377.6,109.1 376.2,110.7 375.8,109.9 M391.6,149.8 C394.0,150.4 397.5,149.8 399.2,152.4 M395.9,151.3 l-0.5,1.8 M396.0,151.3 l-1.7,1.3 M387.8,139.3 C389.5,140.2 391.5,141.5 392.2,142.5 M388.8,140.1 l-0.8,3.9 M386.0,134.2 C383.7,134.8 381.9,135.6 380.8,138.0 M383.8,135.8 l-1.8,1.7 M382.9,136.4 l0.6,2.5 M382.2,137.0 l-1.1,2.6 M387.5,138.5 C389.1,139.6 391.0,138.8 392.0,139.8 M389.8,139.2 l0.2,2.6 M391.5,139.6 l-0.4,2.0 M385.7,133.3 C387.5,134.1 391.7,135.0 392.7,138.5 M391.5,137.6 l2.1,2.1 M388.9,135.7 l0.0,1.1 M388.9,135.7 l2.6,2.1 M386.2,134.8 C385.2,134.2 383.8,135.5 382.7,136.9 M384.2,136.0 l2.4,3.2 M383.2,136.6 l1.0,0.6 M391.2,148.7 C390.0,149.4 388.3,148.6 387.3,151.9 M389.4,150.2 l2.9,1.6 M390.0,149.7 l0.6,1.4 M391.7,150.0 C390.4,149.4 389.1,150.8 388.5,152.0 M387.4,138.2 C389.7,139.2 391.4,139.1 393.5,139.5 M385.5,133.0 C387.7,133.0 391.4,136.4 392.9,136.9 M388.5,134.5 l1.4,2.5 M388.0,134.3 l1.9,0.6 M389.7,135.2 l-1.0,2.7 M391.4,149.3 C393.1,148.9 395.7,149.9 398.0,151.3 M391.6,149.8 C390.0,148.6 387.8,151.7 386.3,152.2 M386.8,136.5 C385.8,137.5 384.5,136.4 383.9,137.6 M385.0,137.1 l0.9,0.7" fill="none" stroke="#303030" stroke-width="0.42" stroke-opacity="0.9"/>
<path d="M374.0,62.0 C374.2,65.0 374.7,73.7 375.0,80.0 C375.3,86.3 375.0,93.3 376.0,100.0 C377.0,106.7 379.0,113.3 381.0,120.0 C383.0,126.7 386.2,134.8 388.0,140.0 C389.8,145.2 391.3,149.2 392.0,151.0" fill="none" stroke="#141414" stroke-width="1.2" stroke-linecap="round"/>
<path d="M445.6,83.0 C443.9,84.1 440.4,83.4 439.1,84.7 M443.0,83.7 l-1.6,0.7 M440.1,84.5 l2.4,3.3 M446.0,79.2 C442.7,79.4 440.1,82.4 438.1,84.7 M443.1,81.3 l2.1,2.0 M447.4,145.9 C448.4,146.5 449.1,145.8 450.0,146.8 M448.2,146.2 l1.5,0.4 M448.0,146.1 l-1.5,1.9 M448.8,146.4 l2.5,0.7 M445.4,98.7 C442.9,98.8 439.5,99.7 437.5,101.6 M445.0,125.0 C442.9,125.9 440.4,126.7 437.4,131.1 M439.5,129.4 l-4.2,1.5 M438.3,130.4 l-0.7,3.6 M445.8,117.2 C447.5,116.9 450.1,116.7 450.9,118.7 M445.5,102.5 C442.3,102.2 438.2,104.2 436.7,110.5 M440.1,107.4 l0.9,2.5 M446.0,113.9 C444.9,114.9 443.7,114.7 442.6,116.5 M445.2,114.5 l-1.4,2.5 M443.3,115.9 l-2.8,1.0 M444.7,114.8 l-1.1,1.9 M446.5,74.6 C442.3,75.8 439.2,78.6 437.0,80.1 M442.0,77.2 l2.4,1.7 M438.3,79.3 l-0.8,1.1 M438.6,79.2 l-0.4,0.8 M444.2,133.3 C446.1,133.3 448.3,134.0 449.6,135.7 M448.1,135.1 l1.6,2.0 M445.2,123.2 C442.9,123.1 440.7,124.4 438.2,126.4 M439.8,125.6 l2.9,2.3 M439.5,125.8 l0.7,0.9 M439.4,125.8 l-0.2,2.2 M447.7,64.3 C444.4,63.9 442.4,66.8 440.0,68.3 M445.0,88.4 C443.7,89.5 442.3,91.3 441.1,91.8 M444.0,89.3 l0.4,1.7 M442.9,90.3 l2.0,2.2 M444.1,89.3 l-2.5,1.5 M444.5,136.4 C440.7,135.5 438.0,137.6 435.6,138.9 M445.0,125.2 C442.9,125.7 441.3,127.4 439.1,128.5 M442.9,126.4 l1.5,0.3 M443.6,126.0 l0.4,3.9 M444.3,131.6 C447.2,131.9 450.0,135.2 452.8,136.2 M446.8,133.0 l-1.2,1.5 M447.1,133.1 l-1.1,2.5 M445.2,93.2 C446.8,93.5 447.7,92.7 448.8,94.8 M445.8,108.6 C447.2,107.8 448.8,110.7 449.3,110.1 M444.5,129.7 C446.0,130.3 447.6,131.7 448.4,132.1 M447.7,131.7 l-0.0,0.7 M446.3,130.8 l0.3,2.1 M446.5,130.9 l0.0,3.8 M445.1,89.9 C441.8,90.2 438.9,90.8 437.4,92.5 M446.4,75.9 C442.1,76.4 440.3,78.7 436.6,84.6 M438.3,83.1 l-2.7,1.1 M442.4,79.5 l-2.9,3.5 M439.8,81.8 l2.9,1.0 M445.8,108.7 C444.5,107.6 442.3,109.9 441.7,109.4 M442.8,109.2 l3.1,3.1 M444.9,126.0 C447.5,125.6 450.9,127.5 452.3,131.1 M447.2,127.6 l0.1,2.4 M445.0,89.0 C442.9,89.4 441.8,88.5 440.3,89.9 M444.8,137.5 C446.4,137.2 448.6,139.9 449.5,140.2 M446.8,138.7 l0.1,0.6 M447.3,138.9 l-1.2,3.9 M448.5,139.6 l1.3,2.3 M445.8,80.9 C449.0,82.0 452.1,81.8 453.7,85.5 M452.3,84.7 l1.4,2.2 M450.3,83.5 l-1.3,0.6 M444.9,125.5 C442.7,124.3 439.1,128.9 437.5,129.9 M445.7,107.2 C447.8,106.5 452.4,112.4 453.7,113.4 M445.6,104.5 C443.1,105.0 441.3,106.2 439.4,109.6 M442.2,107.3 l0.0,1.0 M441.9,107.6 l-1.4,1.7 M443.0,106.7 l-0.1,1.1 M448.2,148.5 C444.1,149.4 442.1,150.8 438.8,156.6 M444.6,151.6 l2.0,0.6 M441.3,154.4 l1.7,0.5 M445.7,150.6 l1.8,1.5 M446.0,141.3 C444.5,140.9 443.1,141.4 441.7,143.0 M444.2,142.0 l1.0,2.9 M444.9,141.7 l-2.6,3.0 M447.7,64.4 C448.8,64.0 451.3,64.8 452.0,65.7 M449.1,64.8 l2.0,2.1 M445.2,122.9 C446.5,124.1 447.3,123.0 448.5,125.6 M447.2,124.6 l-1.1,1.5 M446.8,124.2 l1.3,0.5 M446.7,124.1 l-0.7,2.1 M447.3,145.6 C448.8,146.7 451.0,146.0 453.0,148.7 M446.0,79.0 C448.7,78.0 451.9,81.1 453.6,85.4 M450.8,83.1 l-2.5,1.9 M449.9,82.3 l3.2,2.8 M448.6,81.3 l0.5,0.4 M447.2,69.0 C443.8,68.6 442.2,69.6 439.0,70.6 M441.0,70.2 l-1.8,0.6 M445.1,87.4 C443.4,87.9 440.7,91.0 439.2,91.1 M441.4,89.7 l-4.1,0.9 M441.5,89.6 l-0.0,3.4 M447.2,68.6 C448.8,69.3 450.5,70.2 451.7,69.8 M444.3,131.9 C446.0,132.9 448.6,132.5 450.9,134.1 M445.9,141.0 C443.5,142.1 441.8,140.5 439.3,142.0 M440.9,141.8 l-1.0,1.2 M443.7,141.4 l0.9,1.6 M444.2,141.3 l1.4,1.7 M445.8,108.3 C444.6,107.5 442.8,107.9 442.0,110.3 M443.8,109.3 l-1.5,1.5" fill="none" stroke="#303030" stroke-width="0.42" stroke-opacity="0.9"/>
<path d="M447.9,62.5 C447.4,66.8 445.3,79.2 445.0,88.0 C444.7,96.8 446.2,107.2 446.0,115.0 C445.8,122.8 443.5,129.0 444.0,135.0 C444.5,141.0 448.2,148.3 449.0,151.0" fill="none" stroke="#141414" stroke-width="1.2" stroke-linecap="round"/>
<path d="M454.7,71.5 C454.1,71.8 453.6,72.5 453.1,72.8 M453.7,72.4 l-0.5,0.9 M454.3,65.7 C455.1,66.3 455.5,67.4 456.4,67.1 M454.8,66.1 l-0.1,1.6 M454.0,62.5 C453.6,61.8 453.1,63.0 452.5,63.7 M454.6,69.5 C453.5,69.4 452.9,69.9 451.9,70.8 M453.2,70.1 l0.3,3.3 M452.8,70.3 l-1.8,0.4 M453.9,69.8 l3.1,3.1 M454.2,64.7 C454.9,65.3 455.6,66.9 456.1,66.3 M454.9,65.3 l-0.2,2.0 M454.4,81.7 C453.3,81.4 452.3,83.0 451.7,83.2 M452.5,82.8 l-2.1,0.9 M453.8,82.1 l0.7,0.4" fill="none" stroke="#303030" stroke-width="0.42" stroke-opacity="0.9"/>
<path d="M454.0,62.5 C454.2,64.6 455.0,70.9 455.0,75.0 C455.0,79.1 454.2,85.0 454.0,87.0" fill="none" stroke="#141414" stroke-width="0.7" stroke-linecap="round"/>
<path d="M484.1,82.6 C488.8,83.7 492.6,89.7 495.9,92.6 M487.4,85.4 l-1.5,1.7 M484.5,80.9 C482.0,80.5 479.9,82.0 478.8,83.0 M482.8,81.5 l-4.4,3.5 M481.4,93.7 C479.9,94.4 478.0,94.4 476.2,95.7 M479.3,94.5 l-1.7,0.6 M480.1,94.2 l0.5,0.3 M477.9,95.1 l-1.0,2.1 M485.2,77.9 C483.2,78.0 479.1,80.1 477.4,83.2 M481.7,80.3 l-3.2,0.4 M482.7,79.6 l-2.6,3.4 M478.6,82.4 l-1.3,1.7 M484.9,79.3 C487.2,79.0 489.6,80.3 490.5,83.3 M489.6,82.7 l2.1,1.5 M487.2,81.0 l-1.6,0.5 M487.8,66.9 C491.2,67.9 497.0,68.5 501.0,70.5 M494.6,68.8 l-2.5,2.6 M490.7,67.7 l2.0,0.7 M483.3,86.1 C486.2,85.7 491.9,89.3 493.8,94.0 M492.6,93.0 l-0.1,2.2 M485.2,77.8 C482.9,79.4 479.8,78.4 478.0,79.7 M485.1,78.2 C487.7,78.8 492.5,79.4 495.0,83.5 M492.9,82.3 l2.2,1.7 M493.8,82.8 l-1.6,2.2 M485.3,77.7 C487.7,78.3 490.8,78.4 493.3,80.5 M488.8,78.9 l3.0,2.9 M492.3,80.2 l0.2,2.5 M487.8,78.5 l3.5,2.1 M483.6,84.8 C488.2,85.5 491.6,87.2 494.9,88.0 M491.6,87.0 l-1.1,0.9 M491.0,86.9 l0.8,1.5 M488.6,63.4 C490.5,62.6 493.1,63.7 495.6,64.7 M493.2,64.3 l-1.0,1.3 M491.8,64.0 l2.3,2.2 M494.2,64.5 l0.3,3.5 M484.7,80.1 C481.9,79.8 480.6,81.9 478.3,83.6 M481.3,82.0 l-0.5,1.1 M482.5,81.3 l-1.6,1.6 M483.8,83.8 C481.5,84.8 478.9,87.6 477.2,89.4 M481.1,86.1 l-1.1,4.3 M478.2,88.5 l-1.6,3.2 M480.2,86.9 l-1.0,2.7 M485.1,78.2 C482.2,77.8 479.0,78.2 477.4,80.1 M482.3,78.9 l-2.7,1.6 M479.0,79.7 l-1.6,2.0 M481.2,94.8 C486.4,92.9 489.4,100.8 493.4,104.7 M485.3,77.3 C482.9,77.2 477.5,81.1 475.8,83.0 M485.6,76.2 C490.1,77.9 493.9,80.0 495.9,83.0 M494.1,81.9 l1.5,1.1 M480.6,62.1 C484.1,61.4 488.5,67.5 490.8,68.6 M485.7,65.3 l-2.8,2.4 M486.9,70.8 C485.5,70.0 484.0,71.7 482.7,74.4 M487.2,69.2 C490.8,70.3 495.4,73.8 500.1,78.0 M490.4,71.4 l0.2,1.5 M483.2,86.6 C480.4,85.7 478.0,87.7 474.8,88.6 M476.0,88.3 l-2.3,1.9 M480.6,87.2 l0.0,3.1 M484.7,80.3 C486.9,81.0 489.3,81.6 492.0,84.5 M487.1,81.7 l1.1,0.6 M489.6,83.1 l-1.3,1.2 M487.4,81.8 l-0.2,1.5 M482.8,88.3 C480.2,89.1 476.6,90.0 473.4,90.1 M475.5,89.7 l0.5,0.9 M479.4,88.9 l0.6,1.1 M478.4,89.1 l1.3,1.3 M482.7,88.5 C479.0,89.7 475.6,89.3 472.6,94.0 M479.3,90.4 l2.6,2.1 M486.2,73.5 C483.4,73.5 482.1,75.6 479.8,79.0 M481.0,77.9 l0.3,0.6 M481.3,77.7 l1.3,0.4 M480.9,78.0 l1.3,1.0 M488.5,63.9 C486.3,64.6 483.0,67.5 480.8,69.9 M487.4,68.6 C485.4,68.6 483.4,68.7 481.5,69.9 M485.5,69.0 l0.8,2.1 M483.5,69.4 l2.7,0.3 M485.9,68.9 l-0.7,0.5 M484.7,80.1 C487.3,80.8 491.7,81.7 494.4,84.1 M491.0,82.7 l1.7,0.4 M482.5,89.5 C478.6,89.7 475.8,91.5 473.6,96.6 M475.8,94.9 l1.7,0.5 M480.3,91.3 l0.9,1.8 M486.2,73.8 C483.5,73.9 478.7,78.4 476.5,79.0 M487.9,66.6 C491.7,66.4 496.2,69.6 499.5,70.6 M492.4,68.2 l-1.5,2.2 M482.8,88.3 C487.8,89.0 490.2,90.4 495.2,90.8 M490.3,89.8 l1.8,2.0 M479.9,136.1 C483.3,135.3 485.0,136.6 488.2,139.0 M483.2,137.2 l0.9,1.1 M481.7,136.7 l-1.2,0.8 M479.7,132.0 C482.3,131.6 484.4,134.1 487.5,134.5 M478.7,106.5 C473.0,106.6 469.0,107.6 464.6,110.2 M474.2,107.7 l0.6,0.5 M471.2,108.5 l-3.0,0.6 M467.5,109.4 l-2.1,0.3 M479.8,134.1 C474.7,134.7 469.8,137.8 465.0,140.2 M473.0,136.9 l2.5,2.7 M479.8,134.1 C476.3,133.7 471.9,137.1 467.2,139.3 M469.3,138.4 l1.2,0.9 M471.3,137.6 l1.0,3.3 M478.9,111.2 C475.2,111.0 471.1,114.1 466.0,118.7 M471.4,115.6 l-0.4,2.9 M471.1,115.8 l0.5,0.5 M475.0,113.5 l2.5,0.3 M479.5,128.1 C475.4,129.2 471.1,130.0 469.4,129.8 M478.7,106.8 C480.1,108.4 481.6,109.1 482.5,109.6 M480.7,108.3 l-1.3,0.8 M479.6,128.8 C473.9,130.7 468.3,134.8 462.2,140.1 M474.8,131.9 l0.4,2.6 M471.6,134.0 l-2.4,1.5 M478.7,106.5 C472.4,106.6 468.4,109.7 462.0,111.1 M470.5,108.8 l0.2,2.5 M471.8,108.4 l0.5,2.3 M473.1,108.0 l-1.2,1.0 M479.3,120.9 C475.9,122.2 473.8,124.3 470.4,126.2 M478.8,108.7 C481.1,110.5 484.5,110.3 486.7,115.5 M481.0,110.6 l-0.7,2.0 M479.2,119.7 C476.2,121.5 471.3,125.6 468.6,127.4 M476.3,121.8 l-1.0,0.8 M473.7,123.7 l1.7,0.6 M478.9,112.3 C474.7,112.9 470.8,115.2 467.7,115.0 M479.1,116.1 C482.5,117.0 484.5,115.8 487.4,117.5 M484.5,117.0 l-3.1,0.7 M483.1,116.8 l-3.8,2.0 M482.0,116.6 l-2.0,3.3 M479.5,101.3 C481.7,102.8 484.5,102.1 487.0,104.8 M481.1,95.2 C482.9,95.0 485.6,94.9 487.3,96.2 M482.4,95.4 l2.8,2.0 M486.0,96.0 l-2.8,0.7 M485.7,96.0 l2.2,2.8 M479.4,123.4 C474.8,124.8 468.4,126.4 465.7,127.7 M480.0,138.0 C483.8,139.2 487.9,138.7 489.3,140.4 M482.8,138.7 l-2.6,1.8 M486.9,139.8 l-3.2,2.7 M480.7,96.5 C477.5,96.5 474.9,98.1 472.5,101.8 M473.7,101.0 l-1.0,0.9 M477.6,98.6 l-1.0,3.0 M479.5,101.5 C474.8,101.2 467.4,106.7 462.1,113.3 M464.2,111.8 l0.3,0.8 M469.4,108.4 l-2.7,1.9 M467.4,109.7 l0.8,0.8 M479.1,116.7 C473.6,116.1 468.3,117.1 463.4,119.7 M474.8,117.5 l1.5,1.2 M472.9,117.9 l0.6,1.5 M471.8,118.1 l0.7,2.9 M479.3,122.7 C476.9,123.9 473.0,125.2 470.2,128.3 M479.1,116.3 C476.7,115.6 473.3,118.7 470.0,120.7 M474.2,118.6 l-1.5,0.7 M477.1,117.2 l-1.5,1.8 M479.4,125.2 C472.6,126.8 465.8,130.4 463.0,139.0 M475.6,128.4 l-0.0,3.5 M475.7,128.3 l-2.5,2.4 M469.1,133.8 l-1.9,3.2 M479.9,99.8 C476.1,100.3 467.9,100.6 465.3,103.0 M475.8,100.7 l-1.8,1.3 M477.0,100.4 l0.1,3.4 M479.0,115.0 C475.0,113.9 472.7,115.9 469.8,118.2 M476.0,116.0 l-0.0,1.4 M474.3,116.7 l2.7,0.7 M475.5,116.3 l0.2,2.7 M479.2,118.9 C481.9,118.0 483.6,122.0 485.8,123.8 M482.7,121.5 l-3.0,3.0 M483.7,122.2 l-1.5,1.6 M478.7,107.2 C480.4,106.7 482.5,109.3 483.5,110.8 M478.7,108.4 C475.2,106.6 472.2,112.3 468.0,118.1 M475.8,111.1 l-1.5,0.4 M472.3,114.2 l-1.9,1.4 M469.5,116.7 l-0.3,0.7 M479.5,128.1 C473.7,128.2 470.8,130.6 466.5,130.8 M476.6,128.7 l4.0,0.8 M470.9,129.9 l-1.3,1.8 M470.4,130.0 l-0.7,1.5 M479.3,122.6 C474.3,121.7 469.3,127.1 466.1,132.5 M479.7,100.8 C475.7,102.4 470.2,104.1 464.9,111.0 M467.9,109.0 l0.8,0.5 M470.7,107.0 l-0.6,0.4 M469.3,108.0 l1.0,0.8 M479.2,120.4 C473.8,120.0 468.9,123.8 466.7,130.6 M473.5,125.1 l-1.6,1.0 M468.4,129.2 l-0.0,0.5 M468.3,129.3 l-1.2,2.3 M479.2,120.4 C473.9,122.4 469.1,125.6 462.4,129.6 M466.8,127.2 l-3.7,2.3 M470.2,125.3 l-1.1,1.8 M465.8,127.7 l1.5,1.5 M478.9,111.6 C480.2,112.0 483.0,112.3 484.1,113.4 M480.7,112.2 l0.2,1.1 M482.9,113.0 l1.7,3.5 M479.1,117.8 C475.7,116.8 469.4,121.6 467.3,123.7 M472.4,121.1 l0.9,1.3 M471.6,121.6 l0.9,3.0 M479.7,131.6 C477.2,130.4 475.8,132.8 474.1,136.2 M479.3,102.4 C477.5,102.4 474.5,102.5 473.3,103.6 M477.1,102.8 l-0.3,1.3 M480.8,96.1 C474.3,98.2 468.2,103.7 465.4,106.5 M468.8,104.2 l0.5,3.5 M469.8,103.5 l-2.2,2.3 M470.0,103.4 l-3.7,3.4 M479.9,136.7 C475.2,138.8 470.8,142.2 465.8,146.3 M479.5,126.9 C482.5,128.7 484.5,130.5 486.4,132.3 M484.5,130.8 l1.8,1.5 M485.3,131.4 l0.2,0.8 M478.9,113.3 C474.0,113.3 467.2,115.7 463.0,118.5 M474.7,114.7 l-0.7,1.4 M466.2,117.5 l-1.5,2.7 M479.8,100.3 C476.7,99.8 474.7,102.3 472.7,104.7 M476.3,102.5 l0.5,3.3 M479.1,117.2 C481.5,117.2 484.9,120.0 488.1,122.6 M486.4,121.5 l-2.0,1.0 M486.2,121.4 l-2.8,2.9 M479.4,125.1 C481.8,126.4 485.1,127.3 487.1,131.4 M483.2,128.2 l1.0,2.0 M481.6,126.9 l-0.6,0.4 M485.2,129.8 l2.4,0.6 M481.0,95.4 C477.2,95.2 472.4,97.4 470.6,101.4 M474.2,99.3 l-0.1,0.5 M476.5,98.0 l0.1,3.1 M472.8,100.1 l2.3,0.8 M479.0,115.4 C473.0,116.2 467.3,117.4 465.0,118.7 M466.4,118.3 l0.9,1.5 M471.7,117.1 l-1.5,1.1 M467.1,118.2 l-1.3,1.8 M479.0,113.8 C475.8,115.0 470.9,116.2 466.8,118.2 M479.8,133.7 C482.0,134.7 483.4,134.4 485.6,136.1 M481.2,134.3 l2.1,1.8 M478.7,104.5 C477.0,104.4 474.8,104.0 472.8,105.9 M474.3,105.6 l-1.5,0.8 M477.3,104.9 l0.9,1.1 M481.0,95.5 C474.6,98.4 469.0,101.4 464.8,108.2 M472.3,102.3 l-3.5,0.8 M469.3,104.6 l-1.5,1.3 M479.3,121.4 C472.8,121.3 469.4,123.1 464.5,123.7 M471.6,122.6 l0.7,0.9 M466.9,123.3 l-2.6,1.0 M478.9,111.5 C480.3,111.3 482.8,114.5 484.0,115.5 M480.7,112.9 l-1.1,0.9 M482.1,114.0 l2.0,2.2 M482.3,114.2 l0.5,3.2 M480.0,137.6 C478.4,137.6 475.6,138.8 474.5,139.1 M478.4,138.1 l0.3,0.8 M478.5,138.0 l-4.1,2.3 M478.7,107.7 C475.4,107.2 471.9,109.5 468.8,110.4 M480.4,145.8 C482.8,145.4 485.4,148.0 486.3,148.4 M485.4,148.1 l1.6,0.9 M484.0,147.4 l1.1,0.8 M483.6,147.3 l-0.3,1.7 M480.4,146.8 C478.6,147.7 477.0,148.1 476.2,150.1 M478.3,148.4 l2.1,0.8 M480.5,148.5 C479.1,149.0 477.4,148.7 475.8,151.5 M477.4,150.5 l1.8,2.7 M479.1,149.4 l0.7,2.2 M476.4,151.1 l2.6,0.5 M480.3,143.5 C482.3,144.4 485.2,147.0 486.7,148.1 M485.9,147.6 l-0.0,2.1 M480.3,145.3 C478.1,144.3 475.0,145.9 473.9,147.8 M477.0,146.6 l-0.0,1.6 M480.1,141.0 C479.1,140.7 477.8,142.7 476.7,142.7 M477.1,142.5 l0.2,0.7 M480.3,144.9 C481.3,144.3 481.8,145.3 482.7,146.4 M482.3,146.2 l1.3,0.9 M480.8,145.2 l2.2,1.7 M480.4,147.6 C481.1,148.7 481.7,148.2 482.4,148.3 M481.2,147.9 l2.6,0.3 M481.5,148.0 l3.7,0.6 M480.3,144.8 C477.9,145.0 475.7,145.8 473.7,146.3 M476.6,145.6 l-1.8,0.4 M478.4,145.2 l-2.7,1.9 M477.4,145.4 l-0.8,1.2 M480.1,140.7 C481.4,141.1 483.3,140.2 484.8,141.7 M484.1,141.5 l-3.1,1.7 M483.8,141.5 l-1.9,1.0 M481.3,141.0 l-2.0,1.5 M480.5,149.6 C481.8,151.3 483.9,151.4 485.3,153.1 M482.5,151.1 l2.9,4.0 M483.9,152.1 l-0.8,1.2 M484.5,152.6 l-3.3,1.4" fill="none" stroke="#303030" stroke-width="0.42" stroke-opacity="0.9"/>
<path d="M488.8,62.5 C487.8,66.9 484.4,81.6 482.7,88.7 C481.0,95.8 479.1,98.2 478.6,105.0 C478.1,111.8 479.3,121.8 479.6,129.5 C479.9,137.2 480.4,147.4 480.6,151.0" fill="none" stroke="#141414" stroke-width="1.2" stroke-linecap="round"/>
<path d="M511.9,117.5 C515.2,118.1 522.4,120.3 525.2,122.1 M519.1,120.0 l1.6,1.9 M519.5,120.2 l0.2,1.3 M513.3,113.0 C518.3,113.5 523.7,114.8 528.1,116.2 M523.5,115.2 l-3.1,0.5 M509.3,125.2 C516.8,125.1 524.4,131.2 527.2,134.4 M514.7,106.3 C518.2,107.2 522.9,108.7 527.4,111.6 M520.6,108.8 l0.4,1.9 M509.9,123.3 C513.5,124.0 517.0,124.5 519.3,125.9 M512.6,124.1 l-4.0,2.1 M516.7,125.2 l2.6,0.9 M507.5,130.5 C512.8,133.7 518.8,137.2 522.9,143.1 M520.8,141.3 l0.7,1.1 M518.4,139.4 l-4.2,2.5 M513.3,135.3 l-2.4,2.1 M519.1,85.1 C525.3,86.4 533.3,93.4 537.6,100.7 M526.8,91.5 l-1.4,2.7 M535.4,98.8 l-1.1,2.7 M527.0,91.7 l-0.1,2.2 M508.5,127.6 C510.0,128.0 512.0,128.8 514.0,130.2 M512.9,129.7 l-1.0,1.6 M512.0,129.2 l1.6,2.3 M511.5,129.0 l-2.3,1.2 M521.6,72.1 C527.1,71.0 532.8,74.9 536.3,75.9 M513.7,111.1 C511.9,112.3 509.6,112.1 508.7,112.2 M509.9,111.9 l1.8,1.1 M517.6,92.8 C523.1,92.5 526.7,95.2 530.8,100.5 M522.8,95.8 l-0.6,4.1 M520.5,94.5 l1.1,1.2 M516.2,99.5 C515.5,100.4 513.9,99.8 513.5,100.6 M521.4,73.0 C526.3,72.5 529.9,74.4 533.7,76.1 M525.5,74.0 l0.1,3.2 M511.8,117.8 C516.1,119.9 525.1,122.2 527.4,128.5 M517.0,121.3 l-0.6,1.3 M519.3,122.9 l0.5,3.1 M522.8,125.3 l2.1,1.5 M514.2,108.7 C517.2,107.1 521.3,111.1 523.2,114.2 M514.1,109.2 C516.5,110.0 520.0,108.9 521.1,111.4 M521.3,73.8 C525.0,74.7 527.7,75.4 529.5,75.7 M524.4,74.5 l1.4,1.5 M526.0,74.9 l-1.5,0.3 M516.3,98.9 C524.1,99.2 530.0,107.6 534.7,115.1 M520.5,77.8 C524.3,80.1 528.6,79.9 532.3,85.7 M522.9,79.4 l-3.3,2.5 M525.1,80.9 l-0.3,0.6 M530.9,84.8 l0.5,1.6 M514.8,105.9 C519.3,105.7 523.3,108.4 525.4,108.5 M516.5,97.9 C514.7,98.6 513.0,99.8 512.2,100.1 M515.2,98.6 l3.1,3.7 M514.6,98.9 l-1.7,1.0 M513.1,99.7 l-2.6,1.0 M522.5,67.8 C526.9,67.3 536.1,76.6 538.9,81.6 M516.4,98.4 C522.4,99.7 527.3,102.3 529.7,104.1 M520.0,80.3 C518.1,80.8 516.6,83.0 515.8,82.9 M507.5,130.6 C509.9,132.1 512.9,132.2 515.8,134.0 M513.5,133.1 l-2.2,1.9 M511.8,132.4 l0.6,3.0 M514.8,133.6 l2.8,1.1 M506.2,62.1 C508.3,61.1 511.1,64.9 512.5,67.7 M513.2,113.6 C515.9,115.2 520.0,118.7 521.7,119.8 M515.5,115.3 l-2.8,2.8 M507.8,129.9 C511.4,131.0 519.0,131.4 521.0,132.5 M517.8,131.9 l-1.6,2.7 M513.0,130.9 l2.4,2.5 M516.7,97.0 C523.3,100.2 529.0,107.0 535.2,113.3 M527.8,106.8 l-0.9,0.8 M519.5,83.2 C522.9,83.1 529.1,87.1 531.4,91.3 M529.6,90.1 l-0.5,1.3 M524.9,86.8 l-2.9,1.7 M526.7,88.1 l0.7,1.1 M514.7,106.7 C520.2,106.0 525.8,110.0 527.9,115.1 M518.2,108.9 l-0.7,2.5 M526.0,113.9 l0.0,1.4 M507.5,130.7 C506.0,131.1 504.4,131.5 503.0,131.6 M505.4,131.1 l2.3,2.4 M504.3,131.4 l-0.0,1.8 M509.5,124.6 C511.6,124.0 514.2,126.0 515.4,125.7 M522.1,69.5 C524.9,68.6 527.8,69.4 530.6,71.5 M510.4,121.8 C516.7,122.8 520.8,129.9 525.0,133.7 M518.8,128.6 l1.4,1.0 M515.4,103.1 C522.3,104.5 526.2,104.3 531.8,109.0 M509.0,126.3 C507.7,126.7 506.7,127.7 505.7,128.7 M518.0,90.8 C521.8,91.3 525.0,94.7 529.0,97.3 M526.3,95.7 l-0.2,1.0 M526.8,96.0 l-1.6,1.0 M520.6,92.4 l0.7,1.4 M516.3,98.9 C519.4,99.2 521.7,99.8 525.2,101.4 M523.2,100.9 l3.1,2.8 M519.7,99.9 l-1.1,3.7 M514.9,105.3 C517.9,105.4 520.4,106.5 524.1,112.5 M515.8,101.3 C521.0,102.7 526.8,106.0 533.8,110.4 M522.2,104.6 l-2.0,2.1 M530.6,108.8 l2.5,2.8 M530.8,108.9 l-1.0,0.8 M509.0,126.1 C512.0,127.8 514.1,127.0 515.7,129.2 M512.7,127.8 l0.1,2.3 M507.7,130.1 C511.6,130.2 513.8,130.8 517.0,133.0 M523.2,64.0 C522.0,64.3 520.1,64.7 519.2,65.3 M520.0,65.0 l0.3,0.8 M522.0,64.4 l0.9,2.9 M521.2,64.7 l1.1,3.5 M520.7,77.0 C524.8,78.2 531.8,80.3 536.8,83.8 M532.7,82.1 l1.0,1.1 M526.1,79.3 l-1.9,1.7 M521.6,72.5 C520.2,71.6 519.1,73.4 518.5,74.3 M518.8,86.5 C517.4,87.2 516.8,87.1 515.6,89.3 M516.0,89.0 l2.7,1.0 M516.8,88.3 l-1.8,2.1 M523.2,63.9 C527.9,64.2 531.5,65.0 534.4,67.3 M529.6,65.8 l-1.5,0.6 M518.7,87.0 C523.3,87.7 529.1,88.7 535.3,91.5 M527.2,89.3 l1.2,1.1 M528.9,89.8 l2.2,1.4 M511.6,118.4 C518.2,120.0 524.4,120.1 528.3,121.5 M518.8,119.8 l1.2,0.6 M515.8,119.2 l-2.5,2.9 M523.5,120.6 l-3.8,2.6 M510.7,120.9 C510.1,121.8 509.5,120.6 509.1,122.3 M517.0,95.2 C525.0,95.4 530.6,99.0 535.4,102.8 M530.6,100.8 l1.1,0.9 M513.1,113.9 C512.1,113.1 510.9,114.5 509.9,115.8 M510.5,115.4 l-0.3,2.1 M511.4,114.9 l-1.9,1.2 M511.5,118.7 C509.9,120.2 509.4,119.4 508.1,121.4 M511.2,119.4 C514.4,118.4 521.4,121.2 523.8,122.5 M519.8,121.5 l0.7,1.1 M518.2,89.9 C522.6,91.7 528.3,96.4 534.1,98.9 M521.9,92.0 l2.7,2.6 M526.6,94.6 l1.9,3.4 M513.5,112.3 C518.1,115.6 524.5,118.1 531.8,128.3 M515.7,101.8 C519.9,103.6 525.1,105.7 527.4,109.8 M524.7,107.9 l-0.4,1.2 M525.5,108.5 l-0.4,0.8 M521.9,70.6 C520.5,71.5 519.1,72.5 517.4,74.0 M520.3,71.8 l0.4,2.4 M507.5,130.7 C513.7,131.4 520.6,133.0 525.7,134.6 M521.6,72.4 C525.9,72.9 529.2,76.9 531.4,80.2 M529.3,78.6 l1.5,1.0 M524.1,74.4 l0.5,1.4 M516.7,97.1 C522.1,99.5 526.6,101.5 529.6,104.4 M527.0,103.0 l-0.2,1.1 M523.0,100.7 l-0.2,2.6 M521.6,72.1 C523.0,72.4 525.0,73.3 526.9,76.1 M515.3,103.6 C522.5,105.2 529.3,108.2 532.3,114.0 M526.3,110.3 l-1.4,0.5 M525.4,109.7 l-0.2,2.8 M508.5,127.6 C515.3,126.7 519.8,132.7 524.5,137.1 M522.0,70.4 C520.6,70.2 518.3,73.2 516.8,73.5 M520.4,78.3 C519.7,78.6 518.4,78.6 518.1,80.3 M519.8,81.6 C524.3,82.4 530.3,83.5 532.4,87.0 M528.3,85.3 l1.0,1.5 M529.4,85.7 l-2.2,0.9 M530.8,86.3 l1.1,1.2 M514.3,108.4 C518.6,109.2 521.1,110.4 523.8,113.3 M517.5,110.1 l0.3,0.8 M519.6,111.1 l-0.3,1.0 M509.5,124.7 C513.9,125.3 517.3,127.1 521.3,129.0 M515.2,126.8 l2.0,1.1 M518.9,128.1 l1.4,1.4 M514.4,107.9 C520.9,109.4 525.4,111.2 529.5,117.0 M517.7,91.8 C522.1,91.3 528.4,94.2 532.6,97.0 M531.0,96.4 l0.3,1.0 M524.4,94.1 l1.6,2.0 M522.4,93.4 l0.3,2.3 M516.5,97.7 C522.1,96.6 529.2,102.0 535.0,109.1 M523.9,102.2 l-3.1,3.4 M514.2,108.8 C518.4,109.1 522.0,114.8 526.3,118.7 M522.2,115.3 l1.6,0.5 M515.7,101.6 C521.7,103.6 526.0,104.7 532.5,109.7 M506.6,142.7 C505.4,143.5 504.7,142.3 503.7,143.2 M506.7,141.1 C505.6,140.8 504.9,141.6 503.8,143.5 M505.0,142.5 l-0.1,0.6 M507.1,133.1 C505.7,133.5 503.5,136.1 501.6,136.5 M502.5,135.9 l-0.0,0.7 M503.0,135.6 l1.8,1.6 M506.4,146.7 C505.6,145.8 504.2,146.1 503.7,148.0 M506.8,139.0 C505.3,138.3 503.1,138.8 502.3,141.3 M504.5,140.2 l-1.3,1.2 M504.3,140.3 l0.3,1.4 M503.3,140.8 l0.8,1.5 M506.5,144.4 C509.4,144.9 511.5,146.5 514.2,147.8 M508.9,145.4 l-0.6,0.6 M506.4,147.6 C507.2,148.7 508.1,147.4 508.5,148.5 M508.3,148.4 l-1.1,1.5 M507.4,148.1 l0.8,1.5 M506.8,147.8 l0.3,1.1 M506.9,136.9 C507.9,136.0 509.0,138.1 509.9,137.5 M509.3,137.4 l1.0,0.5 M506.9,137.9 C505.4,137.8 504.4,141.0 503.1,141.3 M506.4,146.3 C507.1,146.2 508.3,145.6 508.8,146.8 M507.2,146.4 l0.1,1.7 M507.5,146.5 l-1.3,1.3 M506.3,148.2 C507.4,147.6 508.9,149.5 509.5,150.6 M507.4,149.0 l0.5,3.3" fill="none" stroke="#303030" stroke-width="0.42" stroke-opacity="0.9"/>
<path d="M523.5,62.5 C522.6,66.9 520.1,80.2 518.4,88.7 C516.7,97.2 515.2,106.1 513.3,113.2 C511.4,120.3 508.4,125.3 507.2,131.6 C506.0,137.9 506.4,147.8 506.2,151.0" fill="none" stroke="#141414" stroke-width="1.2" stroke-linecap="round"/>
<path d="M585.4,90.8 C581.9,89.8 578.3,91.3 575.6,92.8 M587.6,83.4 C589.4,83.9 590.1,83.6 591.7,85.8 M588.5,84.0 l-1.7,0.8 M587.6,72.5 C583.6,72.6 579.5,72.4 576.7,75.6 M581.6,74.2 l1.7,1.6 M582.0,144.2 C579.3,143.6 577.2,144.9 575.4,146.1 M587.6,72.5 C583.9,72.7 579.3,74.9 577.1,75.3 M583.0,73.7 l-0.0,2.1 M585.0,73.2 l-0.8,1.3 M587.6,67.8 C590.1,68.5 593.0,70.5 594.1,71.6 M589.7,69.0 l-1.6,1.5 M589.5,68.9 l-0.5,2.0 M587.6,69.2 C583.8,70.1 581.2,73.4 578.5,76.6 M584.8,71.4 l-1.1,0.7 M581.2,105.2 C583.3,105.3 586.4,105.7 587.4,106.1 M581.9,102.6 C585.8,102.7 589.6,105.2 592.6,109.7 M587.3,106.2 l0.4,0.5 M580.2,112.4 C583.1,112.0 588.3,117.1 590.9,119.0 M583.3,114.3 l4.0,2.0 M586.0,116.0 l-1.4,0.8 M584.4,115.0 l-2.7,0.4 M582.6,146.6 C583.9,148.0 586.7,147.7 587.7,149.5 M586.8,149.0 l-1.4,1.5 M585.4,148.2 l0.8,2.8 M578.5,129.5 C575.8,129.4 573.4,132.2 571.9,132.4 M576.0,130.6 l3.3,1.8 M572.9,132.0 l4.1,1.8 M576.2,130.5 l-1.3,0.7 M579.5,117.5 C583.4,117.5 587.2,121.6 589.6,122.7 M584.9,120.3 l1.2,0.9 M579.4,133.3 C582.5,133.0 583.9,135.4 586.6,136.5 M583.9,135.3 l-0.2,3.1 M587.6,75.9 C589.0,76.3 589.8,77.0 591.1,78.5 M588.4,76.5 l0.0,1.7 M585.3,91.0 C589.3,91.8 593.4,92.8 595.4,93.0 M591.1,92.1 l-3.0,1.5 M587.6,78.3 C583.9,78.9 580.2,80.0 576.8,81.3 M581.1,140.6 C579.5,139.5 576.2,140.5 575.1,141.7 M577.0,141.4 l0.2,1.5 M582.4,145.8 C585.5,147.7 590.7,148.0 592.7,154.6 M586.7,149.5 l-0.5,1.0 M586.6,149.4 l1.0,1.8 M589.1,151.5 l-1.3,0.6 M581.6,103.6 C582.9,103.5 585.1,106.0 586.1,107.3 M583.1,104.9 l1.1,0.3 M584.3,105.8 l-2.7,1.1 M584.5,106.0 l-2.6,3.0 M579.1,132.2 C580.3,131.9 582.1,133.9 583.8,133.8 M581.4,133.0 l0.1,1.7 M581.1,132.9 l1.4,0.7 M581.4,141.7 C580.3,141.1 578.9,140.8 577.6,142.5 M578.2,142.4 l-1.7,1.4 M580.0,142.0 l-1.2,0.4 M580.1,142.0 l-1.0,1.9 M586.3,87.8 C584.8,86.6 581.6,88.3 580.4,90.2 M584.1,88.7 l0.9,2.0 M582.4,89.4 l2.4,3.1 M583.8,88.8 l-1.2,0.7 M581.1,140.5 C583.4,140.2 584.9,143.2 586.1,145.0 M587.6,69.5 C590.7,68.9 594.9,71.8 597.9,76.2 M592.3,72.6 l2.4,1.0 M589.9,71.0 l-2.3,1.0 M585.1,91.8 C583.0,91.6 579.5,93.6 578.2,96.3 M583.6,92.8 l-1.3,1.5 M581.2,94.4 l1.2,2.8 M579.5,95.5 l-0.9,2.6 M587.6,75.3 C591.3,76.0 594.6,75.5 596.5,76.9 M579.9,135.6 C584.0,134.3 586.5,137.7 590.3,142.4 M586.1,139.6 l0.9,2.4 M585.6,139.3 l0.9,1.2 M585.7,139.3 l1.0,0.5 M578.1,127.6 C576.3,128.1 574.2,128.1 573.4,129.2 M574.2,129.0 l-2.1,1.6 M576.5,128.1 l-1.1,2.3 M574.9,128.7 l-2.5,1.8 M581.2,105.2 C582.8,104.9 584.5,107.3 585.8,106.7 M583.1,105.8 l-0.1,0.7 M587.6,68.8 C583.6,72.2 580.1,73.0 575.5,79.6 M577.1,78.2 l1.2,1.1 M577.7,77.7 l-1.9,3.3 M581.2,105.3 C580.0,104.4 578.8,106.9 577.7,107.1 M585.4,90.9 C583.1,90.8 580.1,92.8 577.5,97.7 M584.4,94.1 C582.6,93.8 578.7,94.1 577.6,95.4 M582.1,94.5 l2.4,2.4 M579.1,95.1 l2.8,3.2 M580.4,110.9 C581.8,111.7 583.1,112.8 584.4,113.7 M581.7,111.8 l-1.2,0.9 M578.1,127.7 C580.6,127.2 583.6,128.5 585.4,130.1 M582.4,129.1 l-1.0,2.2 M581.7,128.9 l-1.6,0.8 M582.4,129.2 l-0.6,2.0 M587.6,80.0 C583.1,79.3 578.7,82.6 576.3,84.9 M584.3,81.4 l0.8,2.6 M583.6,81.7 l-1.2,1.1 M582.2,101.7 C584.7,101.5 590.5,105.9 592.3,109.8 M587.6,68.5 C591.2,69.5 594.5,71.7 598.2,74.3 M582.4,145.8 C585.4,145.3 589.5,149.3 591.3,152.2 M590.2,151.4 l0.2,1.6 M588.9,150.5 l-0.7,1.7 M587.6,79.1 C583.8,78.9 580.3,79.5 576.8,80.7 M581.3,80.0 l-0.3,1.1 M587.6,66.9 C584.6,66.6 579.7,71.0 576.2,74.2 M582.4,70.2 l-2.7,1.0 M578.6,72.6 l-0.0,0.6 M579.2,72.2 l-0.1,0.8 M581.3,141.2 C577.1,142.5 575.4,145.3 571.7,147.0 M587.6,81.0 C588.9,81.9 591.7,82.7 592.6,81.9 M589.8,81.4 l1.8,1.6 M587.6,64.8 C589.8,63.5 592.3,67.3 594.7,67.9 M580.3,111.9 C582.5,111.9 585.8,114.0 587.4,117.1 M582.7,113.7 l2.1,0.4 M583.7,114.4 l2.1,0.4 M581.9,113.1 l1.4,0.7 M578.2,128.5 C581.2,128.2 583.5,129.0 585.0,130.9 M578.3,126.2 C580.9,126.9 586.0,131.0 588.2,134.7 M586.6,133.3 l-2.9,2.1 M580.4,128.0 l-1.7,3.1 M587.6,75.5 C583.0,76.1 579.8,77.3 576.4,81.0 M581.3,104.9 C582.7,105.0 584.7,107.2 586.5,107.3 M582.9,105.7 l-0.1,1.7 M583.2,105.8 l1.7,2.4 M585.2,106.7 l-1.1,0.9 M587.2,84.6 C584.8,85.6 581.9,84.8 579.0,87.0 M582.7,85.9 l1.4,1.5 M583.4,150.2 C579.8,150.5 577.7,151.7 574.9,156.7 M576.1,155.7 l1.9,1.3 M587.1,85.1 C591.0,84.7 594.5,85.3 597.8,87.6 M589.5,85.7 l3.1,3.1 M595.4,87.0 l-0.7,1.8 M587.6,68.9 C584.7,70.1 582.1,71.6 578.9,73.4 M581.6,72.0 l-1.2,1.0 M580.1,72.8 l0.3,1.1 M583.3,71.1 l4.1,1.7 M587.6,79.6 C590.0,80.4 591.5,80.0 593.2,80.4 M589.2,79.8 l-1.2,1.4 M583.5,97.3 C586.5,96.7 590.3,99.5 594.1,104.8 M587.8,100.4 l-3.7,3.7" fill="none" stroke="#303030" stroke-width="0.42" stroke-opacity="0.9"/>
<path d="M587.6,62.5 C587.6,66.0 588.7,76.4 587.6,83.4 C586.5,90.4 582.9,97.2 581.3,104.6 C579.7,112.0 577.8,120.3 578.1,127.9 C578.5,135.5 582.5,146.3 583.4,150.0" fill="none" stroke="#141414" stroke-width="1.2" stroke-linecap="round"/>
<path d="M623.0,70.6 C624.9,71.7 627.8,73.3 630.3,75.6 M626.4,73.0 l2.6,1.5 M626.9,73.3 l1.5,2.1 M626.9,73.3 l1.9,2.9 M623.4,65.7 C626.3,64.4 630.0,71.2 634.0,73.9 M629.8,70.7 l-1.7,1.8 M622.2,80.6 C615.9,82.0 611.2,85.8 606.2,89.9 M622.1,82.2 C618.5,82.5 615.0,85.3 611.7,88.8 M617.5,85.1 l-1.7,1.2 M623.5,63.3 C620.3,63.2 615.5,66.3 613.9,69.8 M619.6,66.0 l0.8,0.7 M623.1,68.5 C620.2,68.9 617.2,68.8 614.3,72.5 M621.4,91.0 C624.1,91.0 626.4,95.0 629.1,97.6 M621.5,90.3 C614.7,91.1 611.6,92.6 605.2,92.7 M616.2,91.1 l-0.5,0.6 M621.9,85.0 C618.7,85.2 614.5,87.0 610.3,88.1 M615.0,86.8 l-0.4,0.5 M619.1,85.7 l-1.1,0.3 M614.7,86.9 l1.3,3.6 M622.1,82.1 C628.0,82.9 631.8,86.0 636.4,90.6 M625.0,83.8 l2.7,2.6 M620.8,97.2 C623.9,97.7 628.0,99.4 629.5,100.5 M627.3,99.7 l1.7,0.7 M624.8,98.7 l3.0,1.6 M622.8,73.0 C629.4,75.4 634.2,77.3 637.9,83.1 M634.5,80.8 l-2.5,0.7 M631.1,78.6 l4.0,3.3 M632.4,79.4 l3.9,1.3 M621.1,93.4 C616.2,92.6 609.2,97.7 604.7,103.6 M613.6,98.1 l2.3,1.7 M621.7,86.9 C628.4,86.4 634.4,91.4 638.2,100.7 M635.7,98.6 l0.4,1.6 M632.5,96.0 l-2.3,2.3 M621.0,94.6 C625.3,96.1 628.1,97.7 631.5,102.7 M623.6,96.6 l3.5,2.7 M626.3,98.7 l1.6,0.5 M621.5,89.7 C616.2,89.0 611.3,91.2 609.3,92.2 M612.0,91.7 l-1.1,2.8 M621.5,90.0 C615.9,91.5 612.9,94.1 609.0,100.6 M618.4,92.6 l0.7,2.7 M615.3,95.2 l0.7,3.9 M610.9,99.0 l3.5,1.9 M622.6,75.9 C627.3,75.3 632.4,79.4 634.7,80.6 M631.9,79.5 l-0.7,0.7 M629.2,78.4 l-1.2,0.4 M621.0,95.0 C623.4,96.8 626.8,97.5 630.6,99.2 M628.1,98.1 l0.5,2.5 M620.9,95.3 C616.3,96.8 613.5,98.9 609.0,105.9 M613.2,102.3 l0.4,2.8 M621.4,90.6 C615.8,93.1 610.6,94.7 607.2,99.9 M613.7,95.6 l-1.9,0.7 M615.9,94.2 l-0.2,0.7 M621.6,88.0 C618.3,87.6 613.7,89.2 612.0,92.4 M622.6,75.7 C626.3,76.8 629.9,78.6 634.0,81.5 M622.0,82.8 C625.3,84.1 630.3,83.5 631.8,85.4 M626.2,83.9 l-1.6,0.3 M623.3,66.9 C620.4,65.9 616.8,68.9 613.5,68.7 M622.1,81.6 C615.6,81.2 610.7,85.7 606.3,92.9 M608.6,91.3 l-2.5,1.3 M611.6,89.1 l-1.9,3.5 M622.7,74.0 C620.8,73.5 619.0,77.4 616.6,78.7 M620.7,75.5 l1.2,3.4 M621.3,91.6 C616.0,90.9 611.1,95.6 607.3,97.0 M610.0,96.0 l1.0,2.8 M613.9,94.5 l1.3,1.4 M616.9,93.3 l-1.2,1.7 M621.9,84.7 C617.7,86.3 613.2,88.0 608.2,92.6 M620.8,97.0 C616.0,98.1 610.5,98.9 606.3,100.5 M617.7,97.8 l0.6,1.2 M622.7,74.1 C627.1,73.7 632.3,74.6 638.1,77.6 M623.5,64.3 C618.3,67.6 614.1,73.2 609.5,76.0 M622.2,80.1 C617.1,82.2 611.7,85.8 607.8,91.8 M614.1,86.8 l1.4,4.1 M613.6,87.2 l2.1,0.8 M616.0,85.2 l0.2,1.1 M623.3,66.4 C627.4,67.7 629.2,70.6 632.9,73.2 M620.8,96.6 C625.5,97.2 631.1,102.2 634.8,105.9 M624.3,98.9 l0.3,0.7 M630.6,103.2 l-1.3,0.7 M622.9,71.5 C618.6,70.7 615.4,73.6 610.8,76.1 M623.3,66.0 C627.6,65.4 631.1,70.0 634.4,71.4 M630.2,69.3 l-0.2,2.7 M628.8,68.7 l-1.6,0.6 M629.0,68.8 l0.3,1.7 M620.8,96.9 C613.9,97.2 607.9,98.3 604.6,99.4 M606.9,99.0 l-1.3,2.2 M610.9,98.4 l-2.3,3.6 M615.8,97.7 l-0.8,1.8 M622.5,76.7 C619.3,76.5 615.0,78.7 613.0,78.7 M623.6,62.8 C626.2,63.8 630.8,66.0 634.0,69.8 M622.0,82.7 C624.4,81.8 626.9,84.1 628.1,83.7 M626.8,83.5 l1.6,1.5 M624.0,83.0 l-1.8,2.1 M623.6,63.1 C618.5,62.0 613.7,65.3 609.1,68.7 M612.0,67.6 l2.1,1.9 M621.8,86.1 C624.9,84.5 627.7,89.8 629.6,91.3 M628.2,90.4 l-3.1,2.4 M627.3,89.8 l-2.8,1.3 M621.5,89.5 C624.7,90.5 628.8,96.2 631.7,98.4 M629.5,96.5 l2.8,2.4 M623.6,91.3 l1.8,0.5 M623.6,62.6 C629.7,64.5 633.7,70.9 637.4,74.8 M634.1,71.9 l2.5,2.7 M622.0,83.2 C628.4,84.4 632.2,88.9 636.5,91.5 M629.9,87.7 l-3.0,1.6 M628.2,86.7 l-0.0,1.8 M631.7,88.7 l2.9,3.6 M621.7,87.3 C625.6,86.9 630.8,90.2 634.2,92.8 M628.9,90.5 l-1.3,2.1 M626.2,89.3 l-2.1,3.1 M631.8,91.8 l-1.1,1.7 M620.7,98.2 C626.1,98.3 629.2,99.6 633.3,102.2 M630.7,101.4 l0.1,1.1 M630.9,101.4 l0.3,1.6 M621.7,87.0 C618.9,88.0 615.9,89.3 614.6,89.6 M616.6,88.9 l1.2,0.9 M622.6,76.0 C620.5,76.1 618.7,77.4 616.5,79.6 M619.9,77.5 l-0.7,1.8 M623.0,70.9 C626.8,72.2 634.8,72.7 638.5,78.0 M622.2,80.1 C624.8,81.5 628.2,82.9 629.7,86.5 M624.2,81.7 l1.9,1.4 M625.0,82.4 l-0.9,0.7 M621.1,94.2 C616.9,94.2 611.4,95.8 608.6,98.5 M611.7,97.5 l0.9,1.5 M611.4,97.6 l-0.9,1.0 M622.3,79.9 C618.9,79.5 616.5,81.0 613.2,83.1 M617.1,81.7 l-1.7,1.0 M621.0,95.2 C618.5,96.0 614.4,96.9 613.2,99.9 M623.6,62.7 C628.6,65.0 634.0,65.0 637.4,70.4 M634.8,69.0 l0.3,1.5 M629.3,65.9 l2.7,1.6 M626.6,64.4 l1.9,1.7 M621.1,93.9 C618.0,93.8 611.7,96.9 609.7,99.3 M618.3,95.2 l0.0,2.4 M617.7,95.5 l1.8,2.2 M622.3,79.1 C618.7,81.2 614.0,82.2 610.3,89.2 M618.3,82.5 l-2.2,1.3 M615.0,85.3 l-0.4,3.3 M623.2,67.7 C619.3,68.6 613.9,70.8 610.7,73.5 M613.8,72.0 l-1.0,1.7 M623.6,62.5 C618.8,65.7 614.6,69.1 611.1,71.7 M616.2,68.0 l-2.6,1.4 M616.6,67.7 l-0.4,2.3 M622.5,76.2 C619.6,77.9 614.3,79.8 611.3,85.7 M619.3,79.0 l1.7,4.0 M623.2,68.1 C619.6,67.6 614.9,69.2 613.3,73.1 M616.2,71.6 l2.1,2.0 M621.3,91.7 C619.5,91.5 617.3,94.1 615.5,96.5 M618.1,94.3 l1.1,1.4 M620.1,92.7 l2.7,1.4 M619.7,93.1 l2.5,0.6 M621.7,86.6 C623.7,86.2 626.9,88.5 628.7,87.9 M621.3,92.2 C624.9,92.1 629.2,96.6 630.7,99.3 M628.6,97.7 l-1.0,2.8 M629.7,98.5 l1.5,1.8 M625.8,95.6 l-2.7,0.5 M621.1,93.6 C616.9,92.3 612.6,96.4 607.7,99.6 M621.9,84.9 C617.5,84.3 609.9,89.3 606.9,93.2 M615.1,88.6 l-0.9,1.5 M613.3,89.6 l-3.5,1.9 M623.5,64.1 C621.1,65.7 619.2,65.8 617.2,68.8 M621.9,65.3 l2.9,3.3 M618.3,67.9 l-0.0,2.5 M619.1,67.3 l-2.1,2.2 M620.7,98.0 C623.1,99.2 626.1,102.2 628.5,104.4 M627.1,103.2 l-2.9,2.0 M626.8,103.0 l-1.2,1.4 M622.6,99.6 l3.1,0.6 M621.2,92.5 C616.0,92.3 613.6,98.4 609.5,102.7 M613.9,98.9 l2.5,2.7 M616.8,96.4 l0.9,2.1 M613.1,99.6 l-1.7,1.4 M622.1,82.3 C617.5,84.0 612.3,84.3 607.4,86.7 M615.0,84.4 l1.9,0.5 M610.3,85.9 l-1.1,1.1 M617.8,83.6 l-2.3,1.3 M622.6,75.0 C624.4,76.6 626.3,75.7 628.3,79.0 M624.7,76.4 l2.4,2.2 M627.6,78.5 l0.8,0.9 M621.6,88.7 C626.7,88.9 632.1,92.0 635.1,95.8 M631.3,93.8 l-0.3,2.8 M630.0,93.1 l-1.7,0.7 M622.4,77.5 C627.8,79.4 634.2,82.4 638.8,85.6 M623.3,66.1 C625.9,66.0 631.1,68.5 633.1,68.9 M626.3,67.0 l-1.3,1.4 M628.7,67.7 l1.7,0.3 M629.3,67.9 l2.3,1.9 M621.1,94.1 C617.1,95.3 612.7,98.2 608.9,103.0 M623.5,63.5 C621.3,64.1 619.6,63.9 617.3,65.3 M620.5,64.3 l2.1,2.8 M619.9,64.5 l-0.6,1.3 M618.7,64.9 l0.5,0.7 M622.8,72.6 C620.5,73.0 617.3,74.4 615.4,75.7 M620.9,73.4 l-3.3,1.3 M620.9,73.4 l2.8,1.9 M617.4,74.9 l2.8,3.7 M621.7,86.7 C624.3,87.9 625.4,88.5 627.4,88.5 M624.1,87.4 l-1.5,4.5 M620.7,97.7 C618.8,97.1 615.6,98.9 614.3,100.7 M619.3,98.4 l1.3,0.7 M616.1,99.8 l-1.5,1.4 M623.2,67.5 C618.9,69.0 615.2,68.4 613.1,72.2 M619.5,69.2 l-0.8,0.9 M620.7,97.6 C619.1,98.8 616.2,100.8 615.1,101.5 M618.9,98.8 l-2.0,0.3 M616.4,100.6 l-1.5,0.8 M620.0,105.1 C614.8,104.8 610.9,107.2 605.8,107.2 M616.3,105.6 l0.5,2.9 M612.4,106.2 l-2.9,2.5 M620.5,136.6 C615.1,138.7 609.6,142.3 606.7,146.6 M614.7,140.7 l-1.3,1.6 M615.4,140.3 l-2.5,2.5 M612.5,142.4 l-1.3,1.5 M620.4,136.9 C616.1,138.4 612.9,143.0 610.2,145.8 M613.7,142.8 l0.0,0.7 M619.5,111.8 C616.3,113.3 612.0,115.7 607.5,120.9 M614.0,116.0 l2.1,0.9 M615.4,114.9 l1.8,2.5 M619.8,114.7 C617.3,115.0 614.9,117.1 614.0,119.6 M621.2,129.3 C626.1,130.5 630.7,129.8 634.3,131.3 M626.4,130.1 l1.9,2.7 M627.2,130.2 l1.8,0.3 M620.0,138.6 C622.8,137.2 624.1,140.9 626.6,142.4 M625.8,142.0 l-1.7,0.5 M623.9,140.9 l-0.1,3.0 M617.4,150.5 C614.6,150.5 609.9,151.6 606.8,155.6 M608.7,154.7 l1.4,1.0 M608.4,154.8 l4.0,0.4 M620.2,137.9 C618.7,138.7 616.8,139.4 615.2,140.9 M620.4,100.9 C616.2,103.0 612.5,102.4 609.0,105.2 M617.5,102.0 l1.5,1.2 M610.7,104.6 l0.5,3.2 M617.6,102.0 l0.1,0.3 M621.3,133.1 C619.0,132.1 617.0,135.3 614.7,137.3 M618.1,135.2 l0.7,0.4 M616.1,136.4 l0.2,1.9 M617.5,135.5 l0.9,1.3 M619.8,107.2 C616.7,107.1 614.7,109.0 611.8,111.2 M615.2,109.5 l-0.2,2.0 M619.5,109.5 C621.1,108.6 624.1,110.0 625.4,110.6 M623.8,110.3 l3.4,1.8 M620.3,120.2 C618.8,119.6 617.5,120.5 615.8,121.9 M617.9,121.1 l-2.3,1.8 M616.6,121.6 l-2.9,1.5 M620.1,138.4 C614.9,140.1 609.6,143.9 606.4,148.4 M610.4,145.5 l3.1,1.2 M621.4,131.3 C625.2,132.7 628.2,133.1 630.1,134.6 M623.3,132.1 l1.2,0.8 M623.9,132.3 l1.3,0.5 M625.5,132.9 l-0.7,1.9 M619.9,105.9 C617.5,105.1 613.9,107.4 611.9,108.6 M617.3,106.8 l-1.5,1.2 M617.4,106.7 l2.7,1.0 M618.1,106.5 l-0.8,2.6 M619.5,110.3 C624.7,110.7 629.7,114.8 631.9,117.1 M620.7,123.6 C623.8,122.8 627.2,124.9 629.7,125.4 M622.7,124.0 l2.4,0.5 M620.1,118.0 C624.4,119.7 628.0,123.0 631.8,127.7 M626.0,122.9 l-1.1,2.4 M629.4,125.7 l0.5,0.7 M627.0,123.7 l0.9,0.6 M618.6,145.3 C616.5,147.4 612.5,148.1 610.8,150.1 M613.4,148.5 l0.4,1.4 M620.7,123.5 C622.3,124.6 624.5,123.9 625.2,125.7 M621.8,124.0 l-0.1,0.8 M621.2,129.2 C623.5,128.7 626.4,131.1 628.2,132.2 M625.3,130.9 l0.8,1.1 M626.6,131.5 l2.3,2.2 M619.3,141.8 C622.3,141.8 625.8,144.6 628.9,144.8 M624.9,143.6 l-0.9,0.3 M625.0,143.6 l1.7,1.4 M618.3,146.3 C613.7,146.9 609.9,148.1 605.0,149.5 M621.4,132.6 C625.4,134.5 630.4,135.8 634.5,142.4 M629.8,138.9 l-0.6,2.2 M631.2,139.9 l0.0,1.6 M620.0,116.8 C622.0,116.0 625.4,120.0 626.6,121.1 M625.5,120.4 l0.5,0.6 M622.7,118.6 l0.0,0.7 M617.9,148.2 C622.4,147.4 626.5,153.0 630.3,155.5 M621.4,150.3 l1.0,2.1 M626.7,153.4 l-0.2,2.5 M620.9,126.0 C617.5,125.5 613.3,126.0 609.0,128.1 M619.9,139.2 C624.5,139.8 628.6,142.3 630.3,144.2 M622.8,140.6 l-0.1,2.3 M619.0,143.3 C622.5,144.9 627.9,147.0 630.8,150.9 M620.0,117.1 C617.2,116.8 612.3,118.8 610.6,120.5 M612.6,119.8 l-2.7,3.0 M614.5,119.1 l-0.9,1.4 M620.0,116.5 C617.8,116.9 613.3,119.0 611.7,122.0 M613.7,120.7 l-0.8,0.9 M619.8,107.2 C615.3,106.8 610.0,110.0 607.0,110.7 M612.8,109.1 l-3.0,0.5 M614.1,108.8 l-3.9,1.1 M619.5,109.8 C622.4,110.9 625.7,110.6 627.5,113.6 M624.2,112.0 l-0.8,1.5 M624.4,112.1 l-2.3,0.5 M619.9,116.0 C621.7,116.9 625.4,118.5 626.7,119.1 M625.6,118.6 l-2.0,2.0 M621.3,116.6 l-1.6,0.7 M623.8,117.8 l-2.3,2.6 M619.7,113.5 C621.4,114.7 624.3,114.6 625.4,115.5 M622.2,114.4 l1.1,3.7 M621.0,134.4 C623.9,134.5 625.8,136.6 628.6,136.4 M625.3,135.6 l-1.1,4.3 M623.4,135.1 l0.7,0.6 M627.5,136.1 l-1.8,2.6 M620.2,137.9 C623.2,138.7 628.5,141.5 630.4,144.2 M623.9,140.2 l-1.6,1.9 M621.2,133.2 C625.1,132.8 628.9,139.1 633.6,140.9 M632.2,140.0 l-1.4,2.4 M620.4,121.2 C623.9,120.5 627.8,123.7 630.1,125.3 M623.6,122.5 l-2.4,0.4 M625.5,123.3 l2.6,0.7 M618.6,145.1 C613.7,145.3 608.9,145.7 604.5,148.2 M609.3,147.1 l1.7,1.6 M614.0,146.1 l-0.9,2.2 M621.1,128.4 C616.4,127.1 609.8,131.6 607.3,135.2 M613.7,132.1 l0.7,0.3 M617.9,148.2 C620.3,150.4 622.3,150.9 624.6,153.5 M619.9,149.8 l1.2,1.4 M619.7,108.1 C623.9,109.5 627.2,109.7 630.7,114.8 M623.5,110.4 l-1.4,0.8 M619.8,115.3 C623.8,116.5 627.2,115.7 629.2,117.3 M623.8,116.2 l1.6,2.9 M619.5,109.7 C615.6,110.0 610.8,116.6 606.7,119.1 M613.8,113.9 l-2.6,2.0 M613.4,114.2 l-0.4,1.6 M617.5,150.3 C621.6,151.7 625.0,150.8 627.4,152.4 M620.8,151.0 l-1.5,1.3 M626.2,152.1 l-0.4,1.7 M622.8,151.4 l1.2,2.1 M620.3,101.4 C623.6,101.5 626.9,104.2 629.1,106.0 M626.0,104.4 l2.5,1.6 M625.6,104.2 l-2.2,2.5 M622.5,102.6 l-0.1,2.0 M620.0,105.0 C621.7,104.4 623.5,106.2 624.4,107.6 M623.6,107.1 l-1.1,0.7 M622.9,106.7 l-2.6,1.8 M619.7,108.3 C614.9,108.3 610.2,111.6 608.0,114.2 M616.6,109.9 l3.1,3.3 M610.5,112.9 l-0.4,1.1 M610.4,113.0 l-1.1,1.6 M619.9,139.3 C617.4,138.1 613.9,141.2 611.3,142.1 M612.8,141.6 l2.8,2.5" fill="none" stroke="#303030" stroke-width="0.42" stroke-opacity="0.9"/>
<path d="M623.6,62.5 C623.2,67.0 622.2,81.7 621.5,89.8 C620.8,97.9 619.4,103.9 619.4,110.9 C619.4,117.9 621.9,125.3 621.5,132.0 C621.1,138.7 618.0,147.8 617.3,151.0" fill="none" stroke="#141414" stroke-width="1.2" stroke-linecap="round"/>
<path d="M637.9,67.6 C636.8,67.4 635.9,69.1 635.4,68.7 M636.1,68.3 l0.8,1.4 M637.0,67.9 l2.8,2.2 M636.8,64.0 C638.0,64.5 638.8,63.3 639.6,64.8 M638.0,64.3 l1.9,1.6 M638.7,64.5 l-1.6,0.9 M637.9,64.3 l1.5,2.1 M636.9,64.5 C636.3,65.6 635.9,63.8 635.3,64.9 M636.1,64.7 l-0.5,1.5 M635.8,64.8 l-0.2,1.0 M636.1,64.7 l-3.4,3.0" fill="none" stroke="#303030" stroke-width="0.42" stroke-opacity="0.9"/>
<path d="M636.3,62.5 C636.6,63.4 637.6,66.2 638.0,68.0 C638.4,69.8 638.4,72.2 638.5,73.0" fill="none" stroke="#141414" stroke-width="0.7" stroke-linecap="round"/>
<path d="M659.6,91.2 C661.2,92.5 663.6,94.2 666.1,96.4 M662.4,107.9 C659.9,106.5 657.7,113.2 654.9,114.3 M662.3,110.8 C666.1,111.7 671.0,111.2 674.6,113.6 M668.2,112.1 l-2.3,1.9 M650.0,62.3 C653.8,62.7 661.0,68.4 663.5,72.9 M661.2,71.1 l-2.1,0.5 M661.3,96.0 C659.9,95.8 658.9,96.7 658.2,97.6 M658.6,97.4 l-3.4,1.2 M662.6,105.0 C667.1,105.2 671.2,110.0 674.9,113.7 M662.4,108.4 C666.4,108.7 671.0,110.4 672.9,114.4 M671.7,113.7 l-3.1,2.6 M656.6,82.7 C659.0,82.8 661.3,83.8 664.1,86.3 M660.7,84.7 l-1.8,2.8 M660.3,84.5 l2.0,1.1 M660.1,84.4 l-1.1,2.8 M653.7,72.8 C657.3,73.8 660.5,72.4 661.7,74.3 M659.3,90.4 C662.7,90.3 664.9,91.9 667.6,91.7 M665.0,91.3 l-0.2,1.3 M665.4,91.4 l2.1,0.7 M662.4,107.1 C666.1,106.6 671.1,109.9 675.9,114.1 M673.2,112.7 l-0.1,1.4 M661.4,96.4 C659.7,96.5 657.1,98.0 655.6,99.8 M658.1,98.3 l2.5,0.5 M657.7,98.6 l-1.2,2.3 M662.4,107.4 C660.2,106.7 657.6,109.7 656.0,110.6 M659.5,108.9 l0.6,2.3 M654.9,77.3 C656.8,76.4 658.4,77.0 660.7,78.4 M657.2,84.4 C661.5,85.1 663.6,85.8 667.8,86.2 M666.7,86.0 l-3.1,1.6 M661.0,85.0 l-2.4,1.1 M660.2,84.9 l1.6,1.8 M657.6,85.5 C660.8,85.5 664.2,87.5 667.6,90.9 M661.4,87.5 l3.1,1.9 M662.5,88.1 l-0.2,1.5 M665.7,89.9 l1.2,0.7 M649.9,64.5 C648.3,65.2 646.7,66.1 645.1,68.7 M648.1,66.0 l-0.1,1.3 M646.2,67.8 l-1.6,1.0 M647.4,66.7 l0.5,1.6 M654.0,73.7 C657.1,74.2 660.6,74.9 662.6,76.1 M661.6,75.9 l0.9,4.1 M659.8,75.3 l1.0,2.1 M652.2,66.8 C656.0,68.0 659.2,67.1 661.8,69.9 M654.6,67.5 l1.3,0.4 M653.4,71.4 C652.0,71.5 650.8,71.7 650.2,73.8 M652.0,72.5 l-0.8,1.1 M652.3,72.2 l2.5,2.0 M650.0,62.6 C651.9,63.9 653.6,62.7 654.6,64.9 M652.4,63.8 l-2.9,0.9 M653.1,64.2 l-3.4,1.3 M652.0,63.6 l0.2,3.1 M662.3,110.0 C664.7,110.3 669.4,112.1 671.1,116.3 M661.7,121.0 C666.0,121.0 669.5,122.5 672.0,123.0 M670.7,122.7 l-0.5,1.6 M662.3,110.3 C665.4,111.1 668.3,110.7 669.4,114.2 M667.0,112.9 l1.0,1.0 M658.1,86.9 C655.7,86.8 652.5,89.0 651.1,89.3 M652.6,88.8 l3.3,0.8 M654.9,88.0 l-0.9,1.5 M654.4,88.2 l1.4,1.4 M652.5,68.0 C656.4,68.4 658.8,68.3 663.0,71.5 M656.9,69.4 l-2.4,0.4 M658.0,69.8 l-0.7,0.7 M655.9,69.1 l3.0,1.5 M662.7,102.2 C660.8,102.2 658.2,104.3 655.3,106.4 M659.4,104.1 l1.3,0.5 M657.6,105.1 l3.2,0.5 M658.3,104.7 l2.1,1.3 M662.6,103.7 C666.4,104.5 668.6,105.5 671.5,108.5 M669.0,107.2 l1.4,1.5 M668.6,107.0 l-1.0,1.1 M664.8,104.9 l-0.8,4.2 M653.9,73.5 C658.2,72.6 662.9,80.2 666.7,81.6 M658.0,76.1 l-0.7,0.3 M657.6,75.8 l-1.9,2.1 M659.9,77.3 l2.2,0.7 M661.9,117.6 C666.6,117.5 670.3,119.2 673.6,120.6 M672.3,120.3 l2.2,0.5 M668.6,119.3 l2.3,0.6 M662.3,109.5 C664.8,111.3 669.8,112.5 671.1,116.0 M669.8,115.1 l-3.2,1.1 M668.4,114.0 l1.6,1.3 M668.8,114.3 l-2.0,1.8 M660.7,94.2 C664.1,94.7 669.5,98.2 671.1,101.8 M663.4,96.1 l3.3,1.3 M663.4,96.2 l-1.3,0.5 M665.6,97.8 l-1.1,0.9 M655.9,80.5 C658.8,80.9 662.3,84.1 666.3,89.8 M658.0,82.4 l2.3,2.0 M659.2,83.5 l-1.9,3.9 M652.9,69.6 C655.0,69.9 658.1,71.3 659.7,73.8 M656.2,71.6 l-1.7,1.1 M662.5,105.9 C660.3,105.6 657.7,108.8 654.9,111.2 M658.9,108.4 l-1.4,1.2 M656.7,109.9 l0.2,1.5 M660.4,107.3 l0.2,1.4 M662.7,102.7 C665.4,103.5 670.0,105.2 673.4,109.5 M666.8,105.3 l1.3,0.5 M654.8,76.9 C652.7,77.5 650.2,80.2 647.5,81.7 M653.0,78.1 l-1.5,1.1 M652.6,78.3 l-3.0,2.9 M652.9,78.2 l-1.4,0.6 M654.7,76.5 C658.8,77.4 661.7,78.6 665.5,79.4 M663.3,78.8 l1.1,1.6 M662.4,107.7 C659.6,108.2 656.6,108.7 655.3,112.4 M657.6,110.9 l-2.5,0.5 M656.4,82.1 C660.9,82.0 666.1,88.0 668.1,90.2 M659.9,84.5 l0.6,1.4 M665.0,88.0 l3.1,3.3 M661.9,97.7 C659.6,96.8 658.1,99.3 656.0,100.5 M658.5,99.3 l1.1,1.3 M658.7,99.3 l2.1,1.1 M658.8,99.2 l-0.2,1.2 M658.8,88.8 C662.1,89.3 664.2,91.7 667.5,94.2 M660.4,93.5 C662.9,93.3 666.7,96.8 667.9,99.0 M662.3,94.9 l-1.5,1.3 M662.4,99.2 C659.9,100.3 656.7,102.4 655.0,105.9 M659.6,101.7 l2.4,2.2 M660.8,100.7 l3.9,0.5 M658.7,102.6 l0.8,0.5 M662.7,100.0 C666.0,100.4 667.8,101.0 671.0,102.8 M667.6,101.7 l0.9,3.5 M668.5,102.0 l2.3,0.3 M654.0,73.8 C652.4,73.7 650.5,76.0 649.1,75.9 M649.9,75.6 l0.3,1.0 M649.9,75.6 l-3.7,2.7 M656.2,81.5 C658.9,81.3 661.1,81.8 663.3,83.6 M662.1,114.3 C660.6,115.5 659.1,115.0 658.2,115.2 M658.8,115.1 l-1.5,0.5 M661.3,114.5 l3.8,2.2 M662.3,109.9 C667.4,109.0 669.4,113.8 673.9,115.1 M666.5,111.7 l-1.1,2.3 M664.6,110.9 l0.7,1.6 M664.7,110.9 l-1.2,0.6 M660.7,94.2 C658.0,95.2 656.3,95.9 653.7,97.7 M656.0,96.6 l1.4,0.4 M656.7,96.2 l0.7,0.6 M662.5,106.6 C661.2,107.0 660.8,106.2 659.7,107.1 M660.5,106.9 l0.3,2.6 M661.9,106.7 l-0.9,0.9 M662.3,110.1 C661.0,109.4 659.9,111.6 658.3,112.3 M660.0,111.4 l-0.6,0.5 M658.8,112.0 l-2.6,1.5 M653.6,72.0 C651.6,72.7 647.3,73.0 646.2,76.4 M649.6,74.4 l-3.2,1.8 M661.7,121.1 C659.4,121.2 657.0,122.8 656.2,125.8 M659.5,123.0 l-2.6,0.8 M659.4,90.6 C658.3,90.1 656.5,92.5 655.4,94.0 M658.8,89.0 C662.1,90.0 664.4,90.4 666.6,91.4 M662.1,90.0 l-2.4,3.3 M664.2,90.7 l0.7,1.2 M659.0,89.5 C663.8,92.0 670.0,94.8 672.8,98.6 M669.0,96.1 l-2.9,2.3 M670.9,97.3 l1.4,1.5 M663.3,92.3 l-3.6,3.4 M659.6,91.1 C658.3,91.1 656.8,92.9 656.0,94.2 M657.4,93.0 l-2.1,0.5 M657.1,93.3 l2.5,0.7 M658.0,92.4 l-2.7,2.6 M662.1,114.2 C666.3,116.4 670.3,118.8 675.8,124.8 M662.5,106.4 C664.5,107.2 667.6,109.0 669.6,112.3 M666.4,109.6 l0.4,1.6 M668.9,111.6 l0.4,2.5 M662.7,100.0 C665.4,101.9 669.4,104.0 670.8,106.8 M658.1,86.9 C656.6,86.6 653.6,87.7 652.2,91.7 M659.0,89.5 C663.3,89.8 669.2,94.7 671.4,96.1 M664.6,92.4 l-1.6,0.7 M668.2,94.4 l-0.4,2.2 M665.8,93.1 l0.0,1.3 M659.3,90.3 C662.7,90.0 666.2,94.8 670.5,96.6 M665.5,93.8 l2.9,2.2 M667.5,95.0 l-3.0,1.2 M662.5,92.1 l-1.3,2.1 M656.8,83.2 C655.4,83.8 653.9,86.2 652.7,86.7 M655.0,84.8 l-2.3,1.4 M651.9,65.9 C650.4,67.1 648.0,68.4 646.6,68.2 M647.3,67.9 l2.2,2.3 M647.1,68.0 l-1.0,2.2 M652.5,67.9 C657.1,68.2 663.8,69.6 666.4,71.5 M658.2,130.0 C656.4,129.9 654.2,130.6 652.8,131.1 M654.6,130.7 l-0.7,2.1 M656.3,134.6 C659.6,133.4 661.7,135.7 664.6,137.7 M660.3,136.0 l-2.2,2.4 M658.6,135.4 l1.1,1.4 M661.4,136.5 l0.9,1.8 M658.6,128.9 C660.8,129.2 663.5,128.3 665.1,130.3 M664.3,130.2 l0.3,0.5 M662.4,129.8 l1.0,3.5 M656.3,134.8 C654.5,135.6 652.4,138.7 650.0,139.5 M650.1,149.6 C653.3,149.4 656.5,152.2 657.7,152.5 M655.0,151.5 l1.5,1.7 M651.9,150.3 l1.3,0.9 M652.5,143.8 C651.3,143.9 650.3,145.4 649.2,146.1 M650.2,145.4 l1.6,0.5 M650.0,145.5 l0.3,1.9 M651.1,144.8 l1.9,3.2 M650.0,150.2 C651.9,150.4 654.9,151.7 656.6,153.8 M655.2,153.0 l1.1,0.9 M650.0,150.9 C647.5,151.0 646.5,153.9 644.2,155.2 M647.0,153.1 l-2.8,3.2 M651.4,146.6 C652.6,146.3 653.7,149.6 654.9,149.7 M653.1,148.2 l-0.2,0.6 M653.4,148.4 l-2.4,2.4 M652.7,147.8 l-1.4,0.8 M657.6,131.4 C656.2,132.7 655.0,133.8 653.6,134.4 M650.4,148.9 C648.9,148.9 647.6,151.1 646.1,151.3 M647.8,150.4 l1.2,0.9 M647.8,150.4 l0.5,1.1 M656.5,134.2 C655.5,134.6 654.2,135.0 653.4,136.5 M654.1,136.0 l0.2,1.4 M655.2,135.2 l1.7,0.7 M650.0,150.8 C648.3,151.0 646.1,151.9 643.6,154.5 M650.0,150.8 C649.2,150.9 648.6,151.0 647.9,151.8 M648.9,151.3 l3.1,2.8 M648.9,151.3 l-1.8,3.8 M650.8,148.1 C654.1,149.2 657.5,151.6 659.3,154.8 M656.8,152.8 l-0.7,2.0 M652.6,149.5 l-0.8,0.8 M655.8,152.1 l-1.1,2.1" fill="none" stroke="#303030" stroke-width="0.42" stroke-opacity="0.9"/>
<path d="M648.0,63.0 C648.7,63.5 650.8,63.3 652.0,66.0 C653.2,68.7 653.6,73.5 655.4,79.2 C657.2,84.9 661.8,93.2 662.8,100.3 C663.8,107.3 663.8,113.2 661.7,121.5 C659.6,129.8 652.0,145.2 650.0,150.0" fill="none" stroke="#141414" stroke-width="1.2" stroke-linecap="round"/>
</g>
<line x1="299" y1="150.6" x2="309" y2="150.6" stroke="#666" stroke-width="0.7"/>
<text x="300" y="149" font-size="5.5" text-anchor="start" fill="#555" font-weight="normal" font-style="normal" stroke="#555" stroke-width="0.05">1 cm</text>
<text x="289.2" y="184.8" font-size="12" text-anchor="start" fill="#000" font-weight="bold" font-style="normal" stroke="#000" stroke-width="0.05">e</text>
<line x1="320.1" y1="198.8" x2="320.1" y2="329.3" stroke="#555" stroke-width="1.2"/>
<line x1="319.5" y1="328.8" x2="464.7" y2="328.8" stroke="#555" stroke-width="1.2"/>
<line x1="317.2" y1="199.4" x2="320.1" y2="199.4" stroke="#555" stroke-width="0.9"/>
<text x="315.6" y="202.3" font-size="8" text-anchor="end" fill="#333" font-family="Liberation Sans, sans-serif" stroke="#333" stroke-width="0.05">1.5</text>
<line x1="317.2" y1="242.5" x2="320.1" y2="242.5" stroke="#555" stroke-width="0.9"/>
<text x="315.6" y="245.4" font-size="8" text-anchor="end" fill="#333" font-family="Liberation Sans, sans-serif" stroke="#333" stroke-width="0.05">1.0</text>
<line x1="317.2" y1="285.6" x2="320.1" y2="285.6" stroke="#555" stroke-width="0.9"/>
<text x="315.6" y="288.5" font-size="8" text-anchor="end" fill="#333" font-family="Liberation Sans, sans-serif" stroke="#333" stroke-width="0.05">0.5</text>
<line x1="317.2" y1="328.70000000000005" x2="320.1" y2="328.70000000000005" stroke="#555" stroke-width="0.9"/>
<text x="315.6" y="331.6" font-size="8" text-anchor="end" fill="#333" font-family="Liberation Sans, sans-serif" stroke="#333" stroke-width="0.05">0.0</text>
<line x1="400.1" y1="329.3" x2="400.1" y2="331.8" stroke="#555" stroke-width="0.9"/>
<line x1="400.1" y1="200" x2="400.1" y2="328.3" stroke="#999" stroke-width="0.6" stroke-dasharray="1.2,1.2"/>
<text x="299.5" y="262" font-size="7.8" text-anchor="middle" fill="#444" transform="rotate(-90 299.3 262)" stroke="#444" stroke-width="0.05">Shoot dry weight (g plant<tspan dy="-2.4" font-size="5">-1</tspan><tspan dy="2.4">)</tspan></text>
<text x="361.7" y="338.5" font-size="8.0" text-anchor="middle" fill="#222" font-weight="normal" font-style="normal" stroke="#222" stroke-width="0.05">Inbred line</text>
<text x="437.6" y="339.9" font-size="8.0" text-anchor="middle" fill="#222" font-weight="normal" font-style="normal" stroke="#222" stroke-width="0.05">Hybrid</text>
<rect x="329.2" y="185.29999999999998" width="4.5" height="4.5" fill="#d0d0d0" stroke="#555" stroke-width="0.6"/>
<text x="337" y="190.1" font-size="7.6" text-anchor="start" fill="#222" font-weight="normal" font-style="normal" stroke="#222" stroke-width="0.05">Unsterilized</text>
<rect x="329.2" y="194.89999999999998" width="4.5" height="4.5" fill="#f1c063" stroke="#555" stroke-width="0.6"/>
<text x="337" y="199.7" font-size="7.6" text-anchor="start" fill="#222" font-weight="normal" font-style="normal" stroke="#222" stroke-width="0.05">Sterilized</text>
<rect x="329.2" y="204.29999999999998" width="4.5" height="4.5" fill="#8ccc7c" stroke="#555" stroke-width="0.6"/>
<text x="337" y="209.1" font-size="7.6" text-anchor="start" fill="#222" font-weight="normal" font-style="normal" stroke="#222" stroke-width="0.05">ASV37</text>
<text x="336" y="235.5" font-size="7.7" text-anchor="start" fill="#222" stroke="#222" stroke-width="0.05"><tspan font-style="italic">p</tspan> = 0.11</text>
<line x1="338.2" y1="238.2" x2="362" y2="238.2" stroke="#333" stroke-width="0.9"/>
<text x="361.2" y="225.1" font-size="7.4" text-anchor="start" fill="#222" stroke="#222" stroke-width="0.05"><tspan font-style="italic">p</tspan> = 0.91</text>
<line x1="363.4" y1="228.1" x2="387.5" y2="228.1" stroke="#333" stroke-width="0.9"/>
<text x="403.7" y="228.1" font-size="7.7" text-anchor="start" fill="#222" stroke="#222" stroke-width="0.05"><tspan font-style="italic">p</tspan> = 2.8e-07</text>
<line x1="412.2" y1="230.1" x2="436" y2="230.1" stroke="#333" stroke-width="0.9"/>
<text x="430.8" y="214.7" font-size="7.4" text-anchor="start" fill="#222" stroke="#222" stroke-width="0.05"><tspan font-style="italic">p</tspan> = 0.00013</text>
<line x1="437.1" y1="219.9" x2="461.4" y2="219.9" stroke="#333" stroke-width="0.9"/>
<line x1="338.20000000000005" y1="269.2" x2="338.20000000000005" y2="255.2" stroke="#333" stroke-width="0.8" stroke-dasharray="1.5,1.5"/>
<line x1="333.25000000000006" y1="255.2" x2="343.15000000000003" y2="255.2" stroke="#333" stroke-width="0.8"/>
<line x1="338.20000000000005" y1="284.4" x2="338.20000000000005" y2="292.6" stroke="#333" stroke-width="0.8" stroke-dasharray="1.5,1.5"/>
<line x1="333.25000000000006" y1="292.6" x2="343.15000000000003" y2="292.6" stroke="#333" stroke-width="0.8"/>
<rect x="328.1" y="269.2" width="20.19999999999999" height="15.199999999999989" fill="#d6d6d6" stroke="#222" stroke-width="0.9"/>
<line x1="328.1" y1="279.7" x2="348.3" y2="279.7" stroke="#000" stroke-width="1.9"/>
<circle cx="335.8" cy="255.2" r="1.9" fill="#d8d8d8" stroke="#7a7a7a" stroke-width="0.5" fill-opacity="0.72"/>
<circle cx="336" cy="262.2" r="1.9" fill="#d8d8d8" stroke="#7a7a7a" stroke-width="0.5" fill-opacity="0.72"/>
<circle cx="340.1" cy="264" r="1.9" fill="#d8d8d8" stroke="#7a7a7a" stroke-width="0.5" fill-opacity="0.72"/>
<circle cx="341.9" cy="264.5" r="1.9" fill="#d8d8d8" stroke="#7a7a7a" stroke-width="0.5" fill-opacity="0.72"/>
<circle cx="335.4" cy="268.6" r="1.9" fill="#d8d8d8" stroke="#7a7a7a" stroke-width="0.5" fill-opacity="0.72"/>
<circle cx="332.3" cy="273.9" r="1.9" fill="#d8d8d8" stroke="#7a7a7a" stroke-width="0.5" fill-opacity="0.72"/>
<circle cx="336" cy="272.7" r="1.9" fill="#d8d8d8" stroke="#7a7a7a" stroke-width="0.5" fill-opacity="0.72"/>
<circle cx="343" cy="272.1" r="1.9" fill="#d8d8d8" stroke="#7a7a7a" stroke-width="0.5" fill-opacity="0.72"/>
<circle cx="344.2" cy="278" r="1.9" fill="#d8d8d8" stroke="#7a7a7a" stroke-width="0.5" fill-opacity="0.72"/>
<circle cx="337.2" cy="280.3" r="1.9" fill="#d8d8d8" stroke="#7a7a7a" stroke-width="0.5" fill-opacity="0.72"/>
<circle cx="333.1" cy="283.4" r="1.9" fill="#d8d8d8" stroke="#7a7a7a" stroke-width="0.5" fill-opacity="0.72"/>
<circle cx="335.4" cy="285" r="1.9" fill="#d8d8d8" stroke="#7a7a7a" stroke-width="0.5" fill-opacity="0.72"/>
<circle cx="338.4" cy="283.2" r="1.9" fill="#d8d8d8" stroke="#7a7a7a" stroke-width="0.5" fill-opacity="0.72"/>
<circle cx="333.7" cy="286.7" r="1.9" fill="#d8d8d8" stroke="#7a7a7a" stroke-width="0.5" fill-opacity="0.72"/>
<circle cx="337.8" cy="287.6" r="1.9" fill="#d8d8d8" stroke="#7a7a7a" stroke-width="0.5" fill-opacity="0.72"/>
<circle cx="336.6" cy="292.6" r="1.9" fill="#d8d8d8" stroke="#7a7a7a" stroke-width="0.5" fill-opacity="0.72"/>
<circle cx="331" cy="276" r="1.9" fill="#d8d8d8" stroke="#7a7a7a" stroke-width="0.5" fill-opacity="0.72"/>
<circle cx="340" cy="277" r="1.9" fill="#d8d8d8" stroke="#7a7a7a" stroke-width="0.5" fill-opacity="0.72"/>
<circle cx="334" cy="279.5" r="1.9" fill="#d8d8d8" stroke="#7a7a7a" stroke-width="0.5" fill-opacity="0.72"/>
<circle cx="339" cy="270" r="1.9" fill="#d8d8d8" stroke="#7a7a7a" stroke-width="0.5" fill-opacity="0.72"/>
<line x1="362.9" y1="266.6" x2="362.9" y2="250.3" stroke="#333" stroke-width="0.8" stroke-dasharray="1.5,1.5"/>
<line x1="358.2" y1="250.3" x2="367.59999999999997" y2="250.3" stroke="#333" stroke-width="0.8"/>
<line x1="362.9" y1="279.5" x2="362.9" y2="287.3" stroke="#333" stroke-width="0.8" stroke-dasharray="1.5,1.5"/>
<line x1="358.2" y1="287.3" x2="367.59999999999997" y2="287.3" stroke="#333" stroke-width="0.8"/>
<rect x="353" y="266.6" width="19.80000000000001" height="12.899999999999977" fill="#f3c46a" stroke="#222" stroke-width="0.9"/>
<line x1="353" y1="275" x2="372.8" y2="275" stroke="#000" stroke-width="1.9"/>
<circle cx="363.1" cy="243.3" r="1.9" fill="#f5c878" stroke="#b8862e" stroke-width="0.5" fill-opacity="0.72"/>
<circle cx="368.7" cy="249.9" r="1.9" fill="#f5c878" stroke="#b8862e" stroke-width="0.5" fill-opacity="0.72"/>
<circle cx="365.2" cy="252.6" r="1.9" fill="#f5c878" stroke="#b8862e" stroke-width="0.5" fill-opacity="0.72"/>
<circle cx="360.5" cy="255.2" r="1.9" fill="#f5c878" stroke="#b8862e" stroke-width="0.5" fill-opacity="0.72"/>
<circle cx="368.7" cy="255.4" r="1.9" fill="#f5c878" stroke="#b8862e" stroke-width="0.5" fill-opacity="0.72"/>
<circle cx="358.2" cy="266.6" r="1.9" fill="#f5c878" stroke="#b8862e" stroke-width="0.5" fill-opacity="0.72"/>
<circle cx="368.7" cy="267.1" r="1.9" fill="#f5c878" stroke="#b8862e" stroke-width="0.5" fill-opacity="0.72"/>
<circle cx="366.4" cy="271.5" r="1.9" fill="#f5c878" stroke="#b8862e" stroke-width="0.5" fill-opacity="0.72"/>
<circle cx="360.5" cy="274.5" r="1.9" fill="#f5c878" stroke="#b8862e" stroke-width="0.5" fill-opacity="0.72"/>
<circle cx="363.5" cy="276.2" r="1.9" fill="#f5c878" stroke="#b8862e" stroke-width="0.5" fill-opacity="0.72"/>
<circle cx="362.3" cy="278.5" r="1.9" fill="#f5c878" stroke="#b8862e" stroke-width="0.5" fill-opacity="0.72"/>
<circle cx="359.4" cy="277.1" r="1.9" fill="#f5c878" stroke="#b8862e" stroke-width="0.5" fill-opacity="0.72"/>
<circle cx="368.7" cy="277.1" r="1.9" fill="#f5c878" stroke="#b8862e" stroke-width="0.5" fill-opacity="0.72"/>
<circle cx="363.5" cy="280.9" r="1.9" fill="#f5c878" stroke="#b8862e" stroke-width="0.5" fill-opacity="0.72"/>
<circle cx="356.8" cy="286.5" r="1.9" fill="#f5c878" stroke="#b8862e" stroke-width="0.5" fill-opacity="0.72"/>
<circle cx="360.5" cy="286.5" r="1.9" fill="#f5c878" stroke="#b8862e" stroke-width="0.5" fill-opacity="0.72"/>
<circle cx="367.5" cy="287.3" r="1.9" fill="#f5c878" stroke="#b8862e" stroke-width="0.5" fill-opacity="0.72"/>
<circle cx="365" cy="273" r="1.9" fill="#f5c878" stroke="#b8862e" stroke-width="0.5" fill-opacity="0.72"/>
<circle cx="357" cy="270" r="1.9" fill="#f5c878" stroke="#b8862e" stroke-width="0.5" fill-opacity="0.72"/>
<line x1="387.4" y1="265.5" x2="387.4" y2="248.4" stroke="#333" stroke-width="0.8" stroke-dasharray="1.5,1.5"/>
<line x1="382.09999999999997" y1="248.4" x2="392.7" y2="248.4" stroke="#333" stroke-width="0.8"/>
<line x1="387.4" y1="277.6" x2="387.4" y2="290" stroke="#333" stroke-width="0.8" stroke-dasharray="1.5,1.5"/>
<line x1="382.09999999999997" y1="290" x2="392.7" y2="290" stroke="#333" stroke-width="0.8"/>
<rect x="377.5" y="265.5" width="19.80000000000001" height="12.100000000000023" fill="#8fd07f" stroke="#222" stroke-width="0.9"/>
<line x1="377.5" y1="276.4" x2="397.3" y2="276.4" stroke="#000" stroke-width="1.9"/>
<circle cx="386" cy="248.2" r="1.9" fill="#9ad68a" stroke="#5c9450" stroke-width="0.5" fill-opacity="0.72"/>
<circle cx="383" cy="252.3" r="1.9" fill="#9ad68a" stroke="#5c9450" stroke-width="0.5" fill-opacity="0.72"/>
<circle cx="389.2" cy="251.7" r="1.9" fill="#9ad68a" stroke="#5c9450" stroke-width="0.5" fill-opacity="0.72"/>
<circle cx="392.1" cy="251.7" r="1.9" fill="#9ad68a" stroke="#5c9450" stroke-width="0.5" fill-opacity="0.72"/>
<circle cx="393.2" cy="257.8" r="1.9" fill="#9ad68a" stroke="#5c9450" stroke-width="0.5" fill-opacity="0.72"/>
<circle cx="390.3" cy="260.8" r="1.9" fill="#9ad68a" stroke="#5c9450" stroke-width="0.5" fill-opacity="0.72"/>
<circle cx="390.9" cy="265.5" r="1.9" fill="#9ad68a" stroke="#5c9450" stroke-width="0.5" fill-opacity="0.72"/>
<circle cx="382.1" cy="270.1" r="1.9" fill="#9ad68a" stroke="#5c9450" stroke-width="0.5" fill-opacity="0.72"/>
<circle cx="389.2" cy="270.1" r="1.9" fill="#9ad68a" stroke="#5c9450" stroke-width="0.5" fill-opacity="0.72"/>
<circle cx="383.9" cy="276.2" r="1.9" fill="#9ad68a" stroke="#5c9450" stroke-width="0.5" fill-opacity="0.72"/>
<circle cx="387.4" cy="276.2" r="1.9" fill="#9ad68a" stroke="#5c9450" stroke-width="0.5" fill-opacity="0.72"/>
<circle cx="392.1" cy="276.2" r="1.9" fill="#9ad68a" stroke="#5c9450" stroke-width="0.5" fill-opacity="0.72"/>
<circle cx="382.1" cy="280.3" r="1.9" fill="#9ad68a" stroke="#5c9450" stroke-width="0.5" fill-opacity="0.72"/>
<circle cx="385.7" cy="282" r="1.9" fill="#9ad68a" stroke="#5c9450" stroke-width="0.5" fill-opacity="0.72"/>
<circle cx="393.5" cy="282" r="1.9" fill="#9ad68a" stroke="#5c9450" stroke-width="0.5" fill-opacity="0.72"/>
<circle cx="381.3" cy="290" r="1.9" fill="#9ad68a" stroke="#5c9450" stroke-width="0.5" fill-opacity="0.72"/>
<circle cx="393.5" cy="287.9" r="1.9" fill="#9ad68a" stroke="#5c9450" stroke-width="0.5" fill-opacity="0.72"/>
<circle cx="386" cy="273" r="1.9" fill="#9ad68a" stroke="#5c9450" stroke-width="0.5" fill-opacity="0.72"/>
<circle cx="391" cy="272.5" r="1.9" fill="#9ad68a" stroke="#5c9450" stroke-width="0.5" fill-opacity="0.72"/>
<line x1="412.29999999999995" y1="257.3" x2="412.29999999999995" y2="249.2" stroke="#333" stroke-width="0.8" stroke-dasharray="1.5,1.5"/>
<line x1="407.34999999999997" y1="249.2" x2="417.24999999999994" y2="249.2" stroke="#333" stroke-width="0.8"/>
<line x1="412.29999999999995" y1="268.5" x2="412.29999999999995" y2="273.2" stroke="#333" stroke-width="0.8" stroke-dasharray="1.5,1.5"/>
<line x1="407.34999999999997" y1="273.2" x2="417.24999999999994" y2="273.2" stroke="#333" stroke-width="0.8"/>
<rect x="402.2" y="257.3" width="20.19999999999999" height="11.199999999999989" fill="#d6d6d6" stroke="#222" stroke-width="0.9"/>
<line x1="402.2" y1="263.4" x2="422.4" y2="263.4" stroke="#000" stroke-width="1.9"/>
<circle cx="409.5" cy="249.2" r="1.9" fill="#d8d8d8" stroke="#7a7a7a" stroke-width="0.5" fill-opacity="0.72"/>
<circle cx="413" cy="251.5" r="1.9" fill="#d8d8d8" stroke="#7a7a7a" stroke-width="0.5" fill-opacity="0.72"/>
<circle cx="408" cy="254" r="1.9" fill="#d8d8d8" stroke="#7a7a7a" stroke-width="0.5" fill-opacity="0.72"/>
<circle cx="416" cy="255" r="1.9" fill="#d8d8d8" stroke="#7a7a7a" stroke-width="0.5" fill-opacity="0.72"/>
<circle cx="412.0999941247413" cy="249.2" r="1.9" fill="#d8d8d8" stroke="#7a7a7a" stroke-width="0.5" fill-opacity="0.72"/>
<circle cx="412.5510440215381" cy="273.2" r="1.9" fill="#d8d8d8" stroke="#7a7a7a" stroke-width="0.5" fill-opacity="0.72"/>
<circle cx="412.40977782287183" cy="270.68855532946895" r="1.9" fill="#d8d8d8" stroke="#7a7a7a" stroke-width="0.5" fill-opacity="0.72"/>
<circle cx="412.46672094658527" cy="259.3681958511746" r="1.9" fill="#d8d8d8" stroke="#7a7a7a" stroke-width="0.5" fill-opacity="0.72"/>
<circle cx="406.61772838720907" cy="266.1813409722235" r="1.9" fill="#d8d8d8" stroke="#7a7a7a" stroke-width="0.5" fill-opacity="0.72"/>
<circle cx="416.6350234811405" cy="258.31551001990863" r="1.9" fill="#d8d8d8" stroke="#7a7a7a" stroke-width="0.5" fill-opacity="0.72"/>
<circle cx="419.0507078911829" cy="257.7690597673423" r="1.9" fill="#d8d8d8" stroke="#7a7a7a" stroke-width="0.5" fill-opacity="0.72"/>
<circle cx="413.9178778641" cy="271.57343590760905" r="1.9" fill="#d8d8d8" stroke="#7a7a7a" stroke-width="0.5" fill-opacity="0.72"/>
<circle cx="412.6973377263867" cy="257.4680082538356" r="1.9" fill="#d8d8d8" stroke="#7a7a7a" stroke-width="0.5" fill-opacity="0.72"/>
<circle cx="408.687202191313" cy="259.4303325433368" r="1.9" fill="#d8d8d8" stroke="#7a7a7a" stroke-width="0.5" fill-opacity="0.72"/>
<circle cx="411.4674356331932" cy="262.4960659657008" r="1.9" fill="#d8d8d8" stroke="#7a7a7a" stroke-width="0.5" fill-opacity="0.72"/>
<circle cx="414.26408391086846" cy="253.404905329589" r="1.9" fill="#d8d8d8" stroke="#7a7a7a" stroke-width="0.5" fill-opacity="0.72"/>
<circle cx="411.7026183423938" cy="264.7194347571721" r="1.9" fill="#d8d8d8" stroke="#7a7a7a" stroke-width="0.5" fill-opacity="0.72"/>
<circle cx="419.2396829831868" cy="268.47374944518657" r="1.9" fill="#d8d8d8" stroke="#7a7a7a" stroke-width="0.5" fill-opacity="0.72"/>
<circle cx="409.7138810382177" cy="254.9332579341334" r="1.9" fill="#d8d8d8" stroke="#7a7a7a" stroke-width="0.5" fill-opacity="0.72"/>
<circle cx="406.283128993839" cy="260.5372474099191" r="1.9" fill="#d8d8d8" stroke="#7a7a7a" stroke-width="0.5" fill-opacity="0.72"/>
<circle cx="417.1521707063365" cy="261.7844778150871" r="1.9" fill="#d8d8d8" stroke="#7a7a7a" stroke-width="0.5" fill-opacity="0.72"/>
<circle cx="417.16233682623925" cy="268.0300746931819" r="1.9" fill="#d8d8d8" stroke="#7a7a7a" stroke-width="0.5" fill-opacity="0.72"/>
<circle cx="418.04380699345853" cy="259.64883504497163" r="1.9" fill="#d8d8d8" stroke="#7a7a7a" stroke-width="0.5" fill-opacity="0.72"/>
<circle cx="410.86394143310997" cy="268.2800201411521" r="1.9" fill="#d8d8d8" stroke="#7a7a7a" stroke-width="0.5" fill-opacity="0.72"/>
<circle cx="416.19915202147314" cy="264.3498950170211" r="1.9" fill="#d8d8d8" stroke="#7a7a7a" stroke-width="0.5" fill-opacity="0.72"/>
<circle cx="409.95619875648686" cy="258.2760150215443" r="1.9" fill="#d8d8d8" stroke="#7a7a7a" stroke-width="0.5" fill-opacity="0.72"/>
<line x1="436.85" y1="245.9" x2="436.85" y2="236.2" stroke="#333" stroke-width="0.8" stroke-dasharray="1.5,1.5"/>
<line x1="433.85" y1="236.2" x2="439.85" y2="236.2" stroke="#333" stroke-width="0.8"/>
<line x1="436.85" y1="256.5" x2="436.85" y2="265.6" stroke="#333" stroke-width="0.8" stroke-dasharray="1.5,1.5"/>
<line x1="433.85" y1="265.6" x2="439.85" y2="265.6" stroke="#333" stroke-width="0.8"/>
<rect x="426.6" y="245.9" width="20.5" height="10.599999999999994" fill="#f3c46a" stroke="#222" stroke-width="0.9"/>
<line x1="426.6" y1="253.2" x2="447.1" y2="253.2" stroke="#000" stroke-width="1.9"/>
<circle cx="438.3" cy="236.2" r="1.9" fill="#f5c878" stroke="#b8862e" stroke-width="0.5" fill-opacity="0.72"/>
<circle cx="440.5" cy="236.2" r="1.9" fill="#f5c878" stroke="#b8862e" stroke-width="0.5" fill-opacity="0.72"/>
<circle cx="442.2" cy="236.2" r="1.9" fill="#f5c878" stroke="#b8862e" stroke-width="0.5" fill-opacity="0.72"/>
<circle cx="435.6" cy="240.6" r="1.9" fill="#f5c878" stroke="#b8862e" stroke-width="0.5" fill-opacity="0.72"/>
<circle cx="436.1" cy="243.9" r="1.9" fill="#f5c878" stroke="#b8862e" stroke-width="0.5" fill-opacity="0.72"/>
<circle cx="443.2" cy="265.8" r="1.9" fill="#f5c878" stroke="#b8862e" stroke-width="0.5" fill-opacity="0.72"/>
<circle cx="432.8" cy="262.5" r="1.9" fill="#f5c878" stroke="#b8862e" stroke-width="0.5" fill-opacity="0.72"/>
<circle cx="433.4" cy="259.2" r="1.9" fill="#f5c878" stroke="#b8862e" stroke-width="0.5" fill-opacity="0.72"/>
<circle cx="436.6931968504919" cy="236.2" r="1.9" fill="#f5c878" stroke="#b8862e" stroke-width="0.5" fill-opacity="0.72"/>
<circle cx="437.4613845111605" cy="265.6" r="1.9" fill="#f5c878" stroke="#b8862e" stroke-width="0.5" fill-opacity="0.72"/>
<circle cx="429.952046203261" cy="247.4115637410089" r="1.9" fill="#f5c878" stroke="#b8862e" stroke-width="0.5" fill-opacity="0.72"/>
<circle cx="441.1448727312912" cy="248.80491027847032" r="1.9" fill="#f5c878" stroke="#b8862e" stroke-width="0.5" fill-opacity="0.72"/>
<circle cx="437.6146606685469" cy="252.27544461051397" r="1.9" fill="#f5c878" stroke="#b8862e" stroke-width="0.5" fill-opacity="0.72"/>
<circle cx="435.9607670869468" cy="247.4402096239271" r="1.9" fill="#f5c878" stroke="#b8862e" stroke-width="0.5" fill-opacity="0.72"/>
<circle cx="430.6235405837521" cy="255.50331360421083" r="1.9" fill="#f5c878" stroke="#b8862e" stroke-width="0.5" fill-opacity="0.72"/>
<circle cx="439.4172370573096" cy="236.923713446268" r="1.9" fill="#f5c878" stroke="#b8862e" stroke-width="0.5" fill-opacity="0.72"/>
<circle cx="441.5936471493759" cy="250.1889114011637" r="1.9" fill="#f5c878" stroke="#b8862e" stroke-width="0.5" fill-opacity="0.72"/>
<circle cx="442.61047100773925" cy="246.54431777960306" r="1.9" fill="#f5c878" stroke="#b8862e" stroke-width="0.5" fill-opacity="0.72"/>
<circle cx="443.619875865678" cy="246.86436668402098" r="1.9" fill="#f5c878" stroke="#b8862e" stroke-width="0.5" fill-opacity="0.72"/>
<circle cx="435.72489257155735" cy="257.5240014889379" r="1.9" fill="#f5c878" stroke="#b8862e" stroke-width="0.5" fill-opacity="0.72"/>
<circle cx="438.5003272758001" cy="249.21293135843806" r="1.9" fill="#f5c878" stroke="#b8862e" stroke-width="0.5" fill-opacity="0.72"/>
<circle cx="430.51894644031006" cy="253.28644558181685" r="1.9" fill="#f5c878" stroke="#b8862e" stroke-width="0.5" fill-opacity="0.72"/>
<circle cx="435.40726176577914" cy="254.546395071493" r="1.9" fill="#f5c878" stroke="#b8862e" stroke-width="0.5" fill-opacity="0.72"/>
<circle cx="436.47475542821104" cy="252.21729235483448" r="1.9" fill="#f5c878" stroke="#b8862e" stroke-width="0.5" fill-opacity="0.72"/>
<circle cx="439.96858398286474" cy="246.22324044698266" r="1.9" fill="#f5c878" stroke="#b8862e" stroke-width="0.5" fill-opacity="0.72"/>
<circle cx="439.0903446082912" cy="265.38436430293683" r="1.9" fill="#f5c878" stroke="#b8862e" stroke-width="0.5" fill-opacity="0.72"/>
<circle cx="439.46160249261794" cy="249.74916270212083" r="1.9" fill="#f5c878" stroke="#b8862e" stroke-width="0.5" fill-opacity="0.72"/>
<circle cx="433.0896139822398" cy="247.10662345197204" r="1.9" fill="#f5c878" stroke="#b8862e" stroke-width="0.5" fill-opacity="0.72"/>
<circle cx="441.1414990209874" cy="251.3203153198677" r="1.9" fill="#f5c878" stroke="#b8862e" stroke-width="0.5" fill-opacity="0.72"/>
<circle cx="441.31594665666796" cy="246.19831863222794" r="1.9" fill="#f5c878" stroke="#b8862e" stroke-width="0.5" fill-opacity="0.72"/>
<line x1="461.6" y1="238.4" x2="461.6" y2="226.2" stroke="#333" stroke-width="0.8" stroke-dasharray="1.5,1.5"/>
<line x1="457.5" y1="226.2" x2="465.70000000000005" y2="226.2" stroke="#333" stroke-width="0.8"/>
<line x1="461.6" y1="247.4" x2="461.6" y2="252.1" stroke="#333" stroke-width="0.8" stroke-dasharray="1.5,1.5"/>
<line x1="457.5" y1="252.1" x2="465.70000000000005" y2="252.1" stroke="#333" stroke-width="0.8"/>
<rect x="451.5" y="238.4" width="20.19999999999999" height="9.0" fill="#8fd07f" stroke="#222" stroke-width="0.9"/>
<line x1="451.5" y1="242.8" x2="471.7" y2="242.8" stroke="#000" stroke-width="1.9"/>
<circle cx="454.7" cy="226.2" r="1.9" fill="#9ad68a" stroke="#5c9450" stroke-width="0.5" fill-opacity="0.72"/>
<circle cx="456.4" cy="232.1" r="1.9" fill="#9ad68a" stroke="#5c9450" stroke-width="0.5" fill-opacity="0.72"/>
<circle cx="459.7" cy="232.1" r="1.9" fill="#9ad68a" stroke="#5c9450" stroke-width="0.5" fill-opacity="0.72"/>
<circle cx="467.3" cy="232.1" r="1.9" fill="#9ad68a" stroke="#5c9450" stroke-width="0.5" fill-opacity="0.72"/>
<circle cx="455.8" cy="236.8" r="1.9" fill="#9ad68a" stroke="#5c9450" stroke-width="0.5" fill-opacity="0.72"/>
<circle cx="461.9" cy="236.2" r="1.9" fill="#9ad68a" stroke="#5c9450" stroke-width="0.5" fill-opacity="0.72"/>
<circle cx="456.9" cy="251.6" r="1.9" fill="#9ad68a" stroke="#5c9450" stroke-width="0.5" fill-opacity="0.72"/>
<circle cx="466.8" cy="251.8" r="1.9" fill="#9ad68a" stroke="#5c9450" stroke-width="0.5" fill-opacity="0.72"/>
<circle cx="463" cy="250.2" r="1.9" fill="#9ad68a" stroke="#5c9450" stroke-width="0.5" fill-opacity="0.72"/>
<circle cx="460.58783566520503" cy="226.2" r="1.9" fill="#9ad68a" stroke="#5c9450" stroke-width="0.5" fill-opacity="0.72"/>
<circle cx="462.37808357045105" cy="252.1" r="1.9" fill="#9ad68a" stroke="#5c9450" stroke-width="0.5" fill-opacity="0.72"/>
<circle cx="457.2001384342323" cy="246.04402545250937" r="1.9" fill="#9ad68a" stroke="#5c9450" stroke-width="0.5" fill-opacity="0.72"/>
<circle cx="457.7522810978696" cy="239.72443926351576" r="1.9" fill="#9ad68a" stroke="#5c9450" stroke-width="0.5" fill-opacity="0.72"/>
<circle cx="462.03840652585825" cy="239.57191720483783" r="1.9" fill="#9ad68a" stroke="#5c9450" stroke-width="0.5" fill-opacity="0.72"/>
<circle cx="460.642124597491" cy="241.05191078387026" r="1.9" fill="#9ad68a" stroke="#5c9450" stroke-width="0.5" fill-opacity="0.72"/>
<circle cx="454.8020535014693" cy="233.6225062040663" r="1.9" fill="#9ad68a" stroke="#5c9450" stroke-width="0.5" fill-opacity="0.72"/>
<circle cx="466.7979862087782" cy="239.72039289746104" r="1.9" fill="#9ad68a" stroke="#5c9450" stroke-width="0.5" fill-opacity="0.72"/>
<circle cx="466.1691147619108" cy="236.03377142400961" r="1.9" fill="#9ad68a" stroke="#5c9450" stroke-width="0.5" fill-opacity="0.72"/>
<circle cx="465.7127877107129" cy="246.94391075116073" r="1.9" fill="#9ad68a" stroke="#5c9450" stroke-width="0.5" fill-opacity="0.72"/>
<circle cx="461.41499690246116" cy="246.04945111502894" r="1.9" fill="#9ad68a" stroke="#5c9450" stroke-width="0.5" fill-opacity="0.72"/>
<circle cx="460.6140870466098" cy="243.47724738741513" r="1.9" fill="#9ad68a" stroke="#5c9450" stroke-width="0.5" fill-opacity="0.72"/>
<circle cx="458.9926591215546" cy="242.268400437741" r="1.9" fill="#9ad68a" stroke="#5c9450" stroke-width="0.5" fill-opacity="0.72"/>
<circle cx="465.7756209200098" cy="245.77679279112874" r="1.9" fill="#9ad68a" stroke="#5c9450" stroke-width="0.5" fill-opacity="0.72"/>
<circle cx="462.35916901645544" cy="250.64733645995986" r="1.9" fill="#9ad68a" stroke="#5c9450" stroke-width="0.5" fill-opacity="0.72"/>
<circle cx="464.07550191138154" cy="239.6136838507907" r="1.9" fill="#9ad68a" stroke="#5c9450" stroke-width="0.5" fill-opacity="0.72"/>
<circle cx="457.43677284800833" cy="239.9897037285549" r="1.9" fill="#9ad68a" stroke="#5c9450" stroke-width="0.5" fill-opacity="0.72"/>
<circle cx="461.03242633092907" cy="240.67980580434215" r="1.9" fill="#9ad68a" stroke="#5c9450" stroke-width="0.5" fill-opacity="0.72"/>
<circle cx="456.43093346715597" cy="241.96181631984865" r="1.9" fill="#9ad68a" stroke="#5c9450" stroke-width="0.5" fill-opacity="0.72"/>
<circle cx="457.89949660906717" cy="240.51902294373667" r="1.9" fill="#9ad68a" stroke="#5c9450" stroke-width="0.5" fill-opacity="0.72"/>
<text x="491.6" y="183.8" font-size="12" text-anchor="start" fill="#000" font-weight="bold" font-style="normal" stroke="#000" stroke-width="0.05">f</text>
<line x1="524.1" y1="205" x2="524.1" y2="329.9" stroke="#555" stroke-width="1.2"/>
<line x1="523.5" y1="329.4" x2="677.9" y2="329.4" stroke="#555" stroke-width="1.2"/>
<line x1="521.2" y1="205.6" x2="524.1" y2="205.6" stroke="#555" stroke-width="0.9"/>
<text x="517.6" y="208.2" font-size="7.6" text-anchor="end" fill="#222" font-weight="normal" font-style="normal" stroke="#222" stroke-width="0.05">25</text>
<line x1="521.2" y1="233.6" x2="524.1" y2="233.6" stroke="#555" stroke-width="0.9"/>
<text x="517.6" y="236.2" font-size="7.6" text-anchor="end" fill="#222" font-weight="normal" font-style="normal" stroke="#222" stroke-width="0.05">20</text>
<line x1="521.2" y1="261.6" x2="524.1" y2="261.6" stroke="#555" stroke-width="0.9"/>
<text x="517.6" y="264.20000000000005" font-size="7.6" text-anchor="end" fill="#222" font-weight="normal" font-style="normal" stroke="#222" stroke-width="0.05">15</text>
<line x1="521.2" y1="289.6" x2="524.1" y2="289.6" stroke="#555" stroke-width="0.9"/>
<text x="517.6" y="292.20000000000005" font-size="7.6" text-anchor="end" fill="#222" font-weight="normal" font-style="normal" stroke="#222" stroke-width="0.05">10</text>
<line x1="521.2" y1="317.6" x2="524.1" y2="317.6" stroke="#555" stroke-width="0.9"/>
<text x="517.6" y="320.20000000000005" font-size="7.6" text-anchor="end" fill="#222" font-weight="normal" font-style="normal" stroke="#222" stroke-width="0.05">5</text>
<line x1="603.8" y1="329.9" x2="603.8" y2="332.4" stroke="#555" stroke-width="0.9"/>
<line x1="603.8" y1="204.8" x2="603.8" y2="329" stroke="#999" stroke-width="0.6" stroke-dasharray="1.2,1.2"/>
<text x="505" y="258.9" font-size="7.6" text-anchor="middle" fill="#333" transform="rotate(-90 505 258.9)" stroke="#333" stroke-width="0.05">Lateral root density (no.cm<tspan dy="-2.4" font-size="5">-1</tspan><tspan dy="2.4">)</tspan></text>
<text x="563.4" y="340.2" font-size="7.6" text-anchor="middle" fill="#222" font-weight="normal" font-style="normal" stroke="#222" stroke-width="0.05">inbred line</text>
<text x="638.9" y="341.2" font-size="7.6" text-anchor="middle" fill="#222" font-weight="normal" font-style="normal" stroke="#222" stroke-width="0.05">hybrid</text>
<rect x="529.4" y="188.2" width="4.5" height="4.5" fill="#d0d0d0" stroke="#555" stroke-width="0.6"/>
<text x="537.9" y="192.9" font-size="7.4" text-anchor="start" fill="#222" font-weight="normal" font-style="normal" stroke="#222" stroke-width="0.05">Unsterilized</text>
<rect x="529.4" y="197.6" width="4.5" height="4.5" fill="#f1c063" stroke="#555" stroke-width="0.6"/>
<text x="537.9" y="202.3" font-size="7.4" text-anchor="start" fill="#222" font-weight="normal" font-style="normal" stroke="#222" stroke-width="0.05">Sterilized</text>
<rect x="529.4" y="207.2" width="4.5" height="4.5" fill="#8ccc7c" stroke="#555" stroke-width="0.6"/>
<text x="537.9" y="211.9" font-size="7.4" text-anchor="start" fill="#222" font-weight="normal" font-style="normal" stroke="#222" stroke-width="0.05">ASV37</text>
<text x="533.4" y="252.3" font-size="7.4" text-anchor="start" fill="#222" stroke="#222" stroke-width="0.05"><tspan font-style="italic">p</tspan> = 1.1e-08</text>
<line x1="539.2" y1="255.3" x2="563.8" y2="255.3" stroke="#333" stroke-width="0.9"/>
<text x="563.3" y="239.3" font-size="7.4" text-anchor="start" fill="#222" stroke="#222" stroke-width="0.05"><tspan font-style="italic">p</tspan> = 0.013</text>
<line x1="565" y1="241.5" x2="588.8" y2="241.5" stroke="#333" stroke-width="0.9"/>
<text x="609.3" y="231.2" font-size="7.4" text-anchor="start" fill="#222" stroke="#222" stroke-width="0.05"><tspan font-style="italic">p</tspan> = 1.1e-16</text>
<line x1="615.1" y1="235.4" x2="639" y2="235.4" stroke="#333" stroke-width="0.9"/>
<text x="634.5" y="192.6" font-size="7.4" text-anchor="start" fill="#222" stroke="#222" stroke-width="0.05"><tspan font-style="italic">p</tspan> = 1.1e-16</text>
<line x1="640.3" y1="196.5" x2="664.7" y2="196.5" stroke="#333" stroke-width="0.9"/>
<line x1="541.55" y1="306.2" x2="541.55" y2="295.5" stroke="#333" stroke-width="0.8" stroke-dasharray="1.5,1.5"/>
<line x1="537.0" y1="295.5" x2="546.0999999999999" y2="295.5" stroke="#333" stroke-width="0.8"/>
<line x1="541.55" y1="314.8" x2="541.55" y2="319.6" stroke="#333" stroke-width="0.8" stroke-dasharray="1.5,1.5"/>
<line x1="537.0" y1="319.6" x2="546.0999999999999" y2="319.6" stroke="#333" stroke-width="0.8"/>
<rect x="531.3" y="306.2" width="20.5" height="8.600000000000023" fill="#d6d6d6" stroke="#222" stroke-width="0.9"/>
<line x1="531.3" y1="310.5" x2="551.8" y2="310.5" stroke="#000" stroke-width="1.9"/>
<circle cx="547.2" cy="295.5" r="1.9" fill="#e4e4e4" stroke="#7a7a7a" stroke-width="0.5" fill-opacity="0.72"/>
<circle cx="543" cy="299" r="1.9" fill="#e4e4e4" stroke="#7a7a7a" stroke-width="0.5" fill-opacity="0.72"/>
<circle cx="540" cy="302" r="1.9" fill="#e4e4e4" stroke="#7a7a7a" stroke-width="0.5" fill-opacity="0.72"/>
<circle cx="536" cy="304" r="1.9" fill="#e4e4e4" stroke="#7a7a7a" stroke-width="0.5" fill-opacity="0.72"/>
<circle cx="540.2938181273995" cy="295.5" r="1.9" fill="#e4e4e4" stroke="#7a7a7a" stroke-width="0.5" fill-opacity="0.72"/>
<circle cx="542.1831609271833" cy="319.6" r="1.9" fill="#e4e4e4" stroke="#7a7a7a" stroke-width="0.5" fill-opacity="0.72"/>
<circle cx="538.0921721747268" cy="310.32026405969407" r="1.9" fill="#e4e4e4" stroke="#7a7a7a" stroke-width="0.5" fill-opacity="0.72"/>
<circle cx="541.6494748756511" cy="304.1440410309017" r="1.9" fill="#e4e4e4" stroke="#7a7a7a" stroke-width="0.5" fill-opacity="0.72"/>
<circle cx="535.5381675673235" cy="308.2300847260674" r="1.9" fill="#e4e4e4" stroke="#7a7a7a" stroke-width="0.5" fill-opacity="0.72"/>
<circle cx="536.3311771581997" cy="311.23411747576625" r="1.9" fill="#e4e4e4" stroke="#7a7a7a" stroke-width="0.5" fill-opacity="0.72"/>
<circle cx="538.2923394167947" cy="297.98510406583546" r="1.9" fill="#e4e4e4" stroke="#7a7a7a" stroke-width="0.5" fill-opacity="0.72"/>
<circle cx="544.3642530236275" cy="314.77902639627615" r="1.9" fill="#e4e4e4" stroke="#7a7a7a" stroke-width="0.5" fill-opacity="0.72"/>
<circle cx="535.9088407120197" cy="302.0900239521838" r="1.9" fill="#e4e4e4" stroke="#7a7a7a" stroke-width="0.5" fill-opacity="0.72"/>
<circle cx="536.8897177263036" cy="310.4789499354934" r="1.9" fill="#e4e4e4" stroke="#7a7a7a" stroke-width="0.5" fill-opacity="0.72"/>
<circle cx="537.3577566809375" cy="316.568543876048" r="1.9" fill="#e4e4e4" stroke="#7a7a7a" stroke-width="0.5" fill-opacity="0.72"/>
<circle cx="546.6353263574435" cy="296.8361849833441" r="1.9" fill="#e4e4e4" stroke="#7a7a7a" stroke-width="0.5" fill-opacity="0.72"/>
<circle cx="539.6150570870647" cy="310.9472247247751" r="1.9" fill="#e4e4e4" stroke="#7a7a7a" stroke-width="0.5" fill-opacity="0.72"/>
<circle cx="535.945674640233" cy="307.80741537153665" r="1.9" fill="#e4e4e4" stroke="#7a7a7a" stroke-width="0.5" fill-opacity="0.72"/>
<circle cx="544.863112199072" cy="298.013067489106" r="1.9" fill="#e4e4e4" stroke="#7a7a7a" stroke-width="0.5" fill-opacity="0.72"/>
<circle cx="546.2275899640914" cy="314.5314133786042" r="1.9" fill="#e4e4e4" stroke="#7a7a7a" stroke-width="0.5" fill-opacity="0.72"/>
<circle cx="542.469188510372" cy="312.76001675663576" r="1.9" fill="#e4e4e4" stroke="#7a7a7a" stroke-width="0.5" fill-opacity="0.72"/>
<circle cx="541.2159046732434" cy="307.2533096895893" r="1.9" fill="#e4e4e4" stroke="#7a7a7a" stroke-width="0.5" fill-opacity="0.72"/>
<circle cx="546.5780093502538" cy="297.65154982917886" r="1.9" fill="#e4e4e4" stroke="#7a7a7a" stroke-width="0.5" fill-opacity="0.72"/>
<circle cx="539.8826465566017" cy="299.8827380889972" r="1.9" fill="#e4e4e4" stroke="#7a7a7a" stroke-width="0.5" fill-opacity="0.72"/>
<circle cx="547.4381127194571" cy="309.51768808614" r="1.9" fill="#e4e4e4" stroke="#7a7a7a" stroke-width="0.5" fill-opacity="0.72"/>
<circle cx="536.61915038457" cy="306.4307867092895" r="1.9" fill="#e4e4e4" stroke="#7a7a7a" stroke-width="0.5" fill-opacity="0.72"/>
<circle cx="541.4521291854529" cy="314.7382812995357" r="1.9" fill="#e4e4e4" stroke="#7a7a7a" stroke-width="0.5" fill-opacity="0.72"/>
<circle cx="544.4781122376477" cy="310.933705725928" r="1.9" fill="#e4e4e4" stroke="#7a7a7a" stroke-width="0.5" fill-opacity="0.72"/>
<line x1="566.0" y1="284.8" x2="566.0" y2="262.2" stroke="#333" stroke-width="0.8" stroke-dasharray="1.5,1.5"/>
<line x1="561.3" y1="262.2" x2="570.7" y2="262.2" stroke="#333" stroke-width="0.8"/>
<line x1="566.0" y1="300.7" x2="566.0" y2="308.5" stroke="#333" stroke-width="0.8" stroke-dasharray="1.5,1.5"/>
<line x1="561.3" y1="308.5" x2="570.7" y2="308.5" stroke="#333" stroke-width="0.8"/>
<rect x="556.3" y="284.8" width="19.40000000000009" height="15.899999999999977" fill="#f3c46a" stroke="#222" stroke-width="0.9"/>
<line x1="556.3" y1="293.9" x2="575.7" y2="293.9" stroke="#000" stroke-width="1.9"/>
<circle cx="565.5" cy="262.2" r="1.9" fill="#f5c878" stroke="#b8862e" stroke-width="0.5" fill-opacity="0.72"/>
<circle cx="564.2" cy="274.6" r="1.9" fill="#f5c878" stroke="#b8862e" stroke-width="0.5" fill-opacity="0.72"/>
<circle cx="565.7" cy="280.8" r="1.9" fill="#f5c878" stroke="#b8862e" stroke-width="0.5" fill-opacity="0.72"/>
<circle cx="569.4" cy="279.8" r="1.9" fill="#f5c878" stroke="#b8862e" stroke-width="0.5" fill-opacity="0.72"/>
<circle cx="570.4" cy="284.8" r="1.9" fill="#f5c878" stroke="#b8862e" stroke-width="0.5" fill-opacity="0.72"/>
<circle cx="561.3" cy="284" r="1.9" fill="#f5c878" stroke="#b8862e" stroke-width="0.5" fill-opacity="0.72"/>
<circle cx="560.2" cy="287.6" r="1.9" fill="#f5c878" stroke="#b8862e" stroke-width="0.5" fill-opacity="0.72"/>
<circle cx="564.2" cy="290.2" r="1.9" fill="#f5c878" stroke="#b8862e" stroke-width="0.5" fill-opacity="0.72"/>
<circle cx="562.9" cy="294.2" r="1.9" fill="#f5c878" stroke="#b8862e" stroke-width="0.5" fill-opacity="0.72"/>
<circle cx="567.4" cy="294.2" r="1.9" fill="#f5c878" stroke="#b8862e" stroke-width="0.5" fill-opacity="0.72"/>
<circle cx="564.8" cy="296.8" r="1.9" fill="#f5c878" stroke="#b8862e" stroke-width="0.5" fill-opacity="0.72"/>
<circle cx="568.1" cy="297" r="1.9" fill="#f5c878" stroke="#b8862e" stroke-width="0.5" fill-opacity="0.72"/>
<circle cx="560.9" cy="300" r="1.9" fill="#f5c878" stroke="#b8862e" stroke-width="0.5" fill-opacity="0.72"/>
<circle cx="565.5" cy="300.7" r="1.9" fill="#f5c878" stroke="#b8862e" stroke-width="0.5" fill-opacity="0.72"/>
<circle cx="564.2" cy="304" r="1.9" fill="#f5c878" stroke="#b8862e" stroke-width="0.5" fill-opacity="0.72"/>
<circle cx="567.4" cy="303.3" r="1.9" fill="#f5c878" stroke="#b8862e" stroke-width="0.5" fill-opacity="0.72"/>
<circle cx="571.3" cy="304" r="1.9" fill="#f5c878" stroke="#b8862e" stroke-width="0.5" fill-opacity="0.72"/>
<circle cx="562.9" cy="306.6" r="1.9" fill="#f5c878" stroke="#b8862e" stroke-width="0.5" fill-opacity="0.72"/>
<circle cx="567.4" cy="308.5" r="1.9" fill="#f5c878" stroke="#b8862e" stroke-width="0.5" fill-opacity="0.72"/>
<circle cx="560" cy="291" r="1.9" fill="#f5c878" stroke="#b8862e" stroke-width="0.5" fill-opacity="0.72"/>
<circle cx="570" cy="290" r="1.9" fill="#f5c878" stroke="#b8862e" stroke-width="0.5" fill-opacity="0.72"/>
<line x1="590.95" y1="273.3" x2="590.95" y2="259.6" stroke="#333" stroke-width="0.8" stroke-dasharray="1.5,1.5"/>
<line x1="586.1" y1="259.6" x2="595.8000000000001" y2="259.6" stroke="#333" stroke-width="0.8"/>
<line x1="590.95" y1="296.5" x2="590.95" y2="304.3" stroke="#333" stroke-width="0.8" stroke-dasharray="1.5,1.5"/>
<line x1="586.1" y1="304.3" x2="595.8000000000001" y2="304.3" stroke="#333" stroke-width="0.8"/>
<rect x="580.9" y="273.3" width="20.100000000000023" height="23.19999999999999" fill="#8fd07f" stroke="#222" stroke-width="0.9"/>
<line x1="580.9" y1="283.5" x2="601" y2="283.5" stroke="#000" stroke-width="1.9"/>
<circle cx="585.3" cy="261.5" r="1.9" fill="#9ad68a" stroke="#5c9450" stroke-width="0.5" fill-opacity="0.72"/>
<circle cx="588.3" cy="260" r="1.9" fill="#9ad68a" stroke="#5c9450" stroke-width="0.5" fill-opacity="0.72"/>
<circle cx="586.5" cy="262.5" r="1.9" fill="#9ad68a" stroke="#5c9450" stroke-width="0.5" fill-opacity="0.72"/>
<circle cx="585.3" cy="273" r="1.9" fill="#9ad68a" stroke="#5c9450" stroke-width="0.5" fill-opacity="0.72"/>
<circle cx="590" cy="276" r="1.9" fill="#9ad68a" stroke="#5c9450" stroke-width="0.5" fill-opacity="0.72"/>
<circle cx="596" cy="274" r="1.9" fill="#9ad68a" stroke="#5c9450" stroke-width="0.5" fill-opacity="0.72"/>
<circle cx="587" cy="283.5" r="1.9" fill="#9ad68a" stroke="#5c9450" stroke-width="0.5" fill-opacity="0.72"/>
<circle cx="591" cy="283.5" r="1.9" fill="#9ad68a" stroke="#5c9450" stroke-width="0.5" fill-opacity="0.72"/>
<circle cx="593" cy="287" r="1.9" fill="#9ad68a" stroke="#5c9450" stroke-width="0.5" fill-opacity="0.72"/>
<circle cx="594" cy="291" r="1.9" fill="#9ad68a" stroke="#5c9450" stroke-width="0.5" fill-opacity="0.72"/>
<circle cx="592" cy="295" r="1.9" fill="#9ad68a" stroke="#5c9450" stroke-width="0.5" fill-opacity="0.72"/>
<circle cx="589" cy="297" r="1.9" fill="#9ad68a" stroke="#5c9450" stroke-width="0.5" fill-opacity="0.72"/>
<circle cx="588.5" cy="300" r="1.9" fill="#9ad68a" stroke="#5c9450" stroke-width="0.5" fill-opacity="0.72"/>
<circle cx="585.5" cy="302" r="1.9" fill="#9ad68a" stroke="#5c9450" stroke-width="0.5" fill-opacity="0.72"/>
<circle cx="593" cy="303" r="1.9" fill="#9ad68a" stroke="#5c9450" stroke-width="0.5" fill-opacity="0.72"/>
<circle cx="590" cy="304.3" r="1.9" fill="#9ad68a" stroke="#5c9450" stroke-width="0.5" fill-opacity="0.72"/>
<circle cx="587" cy="279" r="1.9" fill="#9ad68a" stroke="#5c9450" stroke-width="0.5" fill-opacity="0.72"/>
<line x1="615.4" y1="289.3" x2="615.4" y2="282.2" stroke="#333" stroke-width="0.8" stroke-dasharray="1.5,1.5"/>
<line x1="610.55" y1="282.2" x2="620.25" y2="282.2" stroke="#333" stroke-width="0.8"/>
<line x1="615.4" y1="295.2" x2="615.4" y2="301.4" stroke="#333" stroke-width="0.8" stroke-dasharray="1.5,1.5"/>
<line x1="610.55" y1="301.4" x2="620.25" y2="301.4" stroke="#333" stroke-width="0.8"/>
<rect x="605.3" y="289.3" width="20.200000000000045" height="5.899999999999977" fill="#d6d6d6" stroke="#222" stroke-width="0.9"/>
<line x1="605.3" y1="292.9" x2="625.5" y2="292.9" stroke="#000" stroke-width="1.9"/>
<circle cx="616" cy="282.2" r="1.9" fill="#e4e4e4" stroke="#7a7a7a" stroke-width="0.5" fill-opacity="0.72"/>
<circle cx="613" cy="286" r="1.9" fill="#e4e4e4" stroke="#7a7a7a" stroke-width="0.5" fill-opacity="0.72"/>
<circle cx="618" cy="287" r="1.9" fill="#e4e4e4" stroke="#7a7a7a" stroke-width="0.5" fill-opacity="0.72"/>
<circle cx="616.1644347561769" cy="282.2" r="1.9" fill="#e4e4e4" stroke="#7a7a7a" stroke-width="0.5" fill-opacity="0.72"/>
<circle cx="616.6232790507228" cy="301.4" r="1.9" fill="#e4e4e4" stroke="#7a7a7a" stroke-width="0.5" fill-opacity="0.72"/>
<circle cx="611.729145744685" cy="295.1898675023559" r="1.9" fill="#e4e4e4" stroke="#7a7a7a" stroke-width="0.5" fill-opacity="0.72"/>
<circle cx="618.4928437708685" cy="289.84154101881927" r="1.9" fill="#e4e4e4" stroke="#7a7a7a" stroke-width="0.5" fill-opacity="0.72"/>
<circle cx="618.0933919419807" cy="293.468731666892" r="1.9" fill="#e4e4e4" stroke="#7a7a7a" stroke-width="0.5" fill-opacity="0.72"/>
<circle cx="619.7892687309708" cy="291.9041287545844" r="1.9" fill="#e4e4e4" stroke="#7a7a7a" stroke-width="0.5" fill-opacity="0.72"/>
<circle cx="615.6027337105857" cy="295.91668132077643" r="1.9" fill="#e4e4e4" stroke="#7a7a7a" stroke-width="0.5" fill-opacity="0.72"/>
<circle cx="614.7304876102673" cy="299.78272732973346" r="1.9" fill="#e4e4e4" stroke="#7a7a7a" stroke-width="0.5" fill-opacity="0.72"/>
<circle cx="610.4214207488802" cy="294.9228842390423" r="1.9" fill="#e4e4e4" stroke="#7a7a7a" stroke-width="0.5" fill-opacity="0.72"/>
<circle cx="611.2924063457134" cy="294.275203066372" r="1.9" fill="#e4e4e4" stroke="#7a7a7a" stroke-width="0.5" fill-opacity="0.72"/>
<circle cx="615.9050337298795" cy="291.1016133467818" r="1.9" fill="#e4e4e4" stroke="#7a7a7a" stroke-width="0.5" fill-opacity="0.72"/>
<circle cx="620.495586587226" cy="294.57277520668674" r="1.9" fill="#e4e4e4" stroke="#7a7a7a" stroke-width="0.5" fill-opacity="0.72"/>
<circle cx="610.235325119863" cy="294.5792013442797" r="1.9" fill="#e4e4e4" stroke="#7a7a7a" stroke-width="0.5" fill-opacity="0.72"/>
<circle cx="618.9888532536862" cy="293.2242688098487" r="1.9" fill="#e4e4e4" stroke="#7a7a7a" stroke-width="0.5" fill-opacity="0.72"/>
<circle cx="619.716720928324" cy="289.24304375257907" r="1.9" fill="#e4e4e4" stroke="#7a7a7a" stroke-width="0.5" fill-opacity="0.72"/>
<circle cx="620.4958456872173" cy="293.68243190359954" r="1.9" fill="#e4e4e4" stroke="#7a7a7a" stroke-width="0.5" fill-opacity="0.72"/>
<circle cx="611.2513311731362" cy="292.2171178574084" r="1.9" fill="#e4e4e4" stroke="#7a7a7a" stroke-width="0.5" fill-opacity="0.72"/>
<circle cx="617.4445737783009" cy="292.12935430756033" r="1.9" fill="#e4e4e4" stroke="#7a7a7a" stroke-width="0.5" fill-opacity="0.72"/>
<circle cx="615.4653430157341" cy="296.01436352841677" r="1.9" fill="#e4e4e4" stroke="#7a7a7a" stroke-width="0.5" fill-opacity="0.72"/>
<circle cx="615.7851640340376" cy="299.94304084926483" r="1.9" fill="#e4e4e4" stroke="#7a7a7a" stroke-width="0.5" fill-opacity="0.72"/>
<line x1="640.05" y1="256.3" x2="640.05" y2="244.1" stroke="#333" stroke-width="0.8" stroke-dasharray="1.5,1.5"/>
<line x1="636.6999999999999" y1="244.1" x2="643.4" y2="244.1" stroke="#333" stroke-width="0.8"/>
<line x1="640.05" y1="264.2" x2="640.05" y2="271.3" stroke="#333" stroke-width="0.8" stroke-dasharray="1.5,1.5"/>
<line x1="636.6999999999999" y1="271.3" x2="643.4" y2="271.3" stroke="#333" stroke-width="0.8"/>
<rect x="630.2" y="256.3" width="19.699999999999932" height="7.899999999999977" fill="#f3c46a" stroke="#222" stroke-width="0.9"/>
<line x1="630.2" y1="262.2" x2="649.9" y2="262.2" stroke="#000" stroke-width="1.9"/>
<circle cx="644" cy="243.5" r="1.9" fill="#f5c878" stroke="#b8862e" stroke-width="0.5" fill-opacity="0.72"/>
<circle cx="636" cy="247" r="1.9" fill="#f5c878" stroke="#b8862e" stroke-width="0.5" fill-opacity="0.72"/>
<circle cx="634.5" cy="249" r="1.9" fill="#f5c878" stroke="#b8862e" stroke-width="0.5" fill-opacity="0.72"/>
<circle cx="643" cy="251" r="1.9" fill="#f5c878" stroke="#b8862e" stroke-width="0.5" fill-opacity="0.72"/>
<circle cx="646.5" cy="253.5" r="1.9" fill="#f5c878" stroke="#b8862e" stroke-width="0.5" fill-opacity="0.72"/>
<circle cx="639.5570642886054" cy="244.1" r="1.9" fill="#f5c878" stroke="#b8862e" stroke-width="0.5" fill-opacity="0.72"/>
<circle cx="641.5364386278147" cy="271.3" r="1.9" fill="#f5c878" stroke="#b8862e" stroke-width="0.5" fill-opacity="0.72"/>
<circle cx="644.4604973469452" cy="246.71135839341494" r="1.9" fill="#f5c878" stroke="#b8862e" stroke-width="0.5" fill-opacity="0.72"/>
<circle cx="645.4356647214935" cy="256.6348977966498" r="1.9" fill="#f5c878" stroke="#b8862e" stroke-width="0.5" fill-opacity="0.72"/>
<circle cx="639.0889618780748" cy="258.7166177441286" r="1.9" fill="#f5c878" stroke="#b8862e" stroke-width="0.5" fill-opacity="0.72"/>
<circle cx="642.2401276584546" cy="257.2826940309226" r="1.9" fill="#f5c878" stroke="#b8862e" stroke-width="0.5" fill-opacity="0.72"/>
<circle cx="643.533529813162" cy="250.3502924155778" r="1.9" fill="#f5c878" stroke="#b8862e" stroke-width="0.5" fill-opacity="0.72"/>
<circle cx="636.1712654127585" cy="262.8160189349711" r="1.9" fill="#f5c878" stroke="#b8862e" stroke-width="0.5" fill-opacity="0.72"/>
<circle cx="635.2478095784764" cy="260.00821561995707" r="1.9" fill="#f5c878" stroke="#b8862e" stroke-width="0.5" fill-opacity="0.72"/>
<circle cx="635.1787095010773" cy="268.71580962176773" r="1.9" fill="#f5c878" stroke="#b8862e" stroke-width="0.5" fill-opacity="0.72"/>
<circle cx="636.2727567263958" cy="259.573965235728" r="1.9" fill="#f5c878" stroke="#b8862e" stroke-width="0.5" fill-opacity="0.72"/>
<circle cx="634.8444382014976" cy="259.9398737860651" r="1.9" fill="#f5c878" stroke="#b8862e" stroke-width="0.5" fill-opacity="0.72"/>
<circle cx="635.5249590035719" cy="260.367929810453" r="1.9" fill="#f5c878" stroke="#b8862e" stroke-width="0.5" fill-opacity="0.72"/>
<circle cx="636.0648648211937" cy="244.5944241897262" r="1.9" fill="#f5c878" stroke="#b8862e" stroke-width="0.5" fill-opacity="0.72"/>
<circle cx="639.0906045313197" cy="246.7939492867983" r="1.9" fill="#f5c878" stroke="#b8862e" stroke-width="0.5" fill-opacity="0.72"/>
<circle cx="639.9296301553853" cy="259.74093431202317" r="1.9" fill="#f5c878" stroke="#b8862e" stroke-width="0.5" fill-opacity="0.72"/>
<circle cx="634.6913114625297" cy="260.1136350772834" r="1.9" fill="#f5c878" stroke="#b8862e" stroke-width="0.5" fill-opacity="0.72"/>
<circle cx="634.5728774655333" cy="247.55075952906014" r="1.9" fill="#f5c878" stroke="#b8862e" stroke-width="0.5" fill-opacity="0.72"/>
<circle cx="641.5459143191634" cy="262.734109078175" r="1.9" fill="#f5c878" stroke="#b8862e" stroke-width="0.5" fill-opacity="0.72"/>
<circle cx="636.6355093803292" cy="260.07619852577477" r="1.9" fill="#f5c878" stroke="#b8862e" stroke-width="0.5" fill-opacity="0.72"/>
<line x1="664.5" y1="209.4" x2="664.5" y2="201.5" stroke="#333" stroke-width="0.8" stroke-dasharray="1.5,1.5"/>
<line x1="660.7" y1="201.5" x2="668.3" y2="201.5" stroke="#333" stroke-width="0.8"/>
<line x1="664.5" y1="230.4" x2="664.5" y2="241.3" stroke="#333" stroke-width="0.8" stroke-dasharray="1.5,1.5"/>
<line x1="660.7" y1="241.3" x2="668.3" y2="241.3" stroke="#333" stroke-width="0.8"/>
<rect x="654.6" y="209.4" width="19.799999999999955" height="21.0" fill="#8fd07f" stroke="#222" stroke-width="0.9"/>
<line x1="654.6" y1="219.1" x2="674.4" y2="219.1" stroke="#000" stroke-width="1.9"/>
<circle cx="668" cy="201.5" r="1.9" fill="#9ad68a" stroke="#5c9450" stroke-width="0.5" fill-opacity="0.72"/>
<circle cx="669" cy="203.5" r="1.9" fill="#9ad68a" stroke="#5c9450" stroke-width="0.5" fill-opacity="0.72"/>
<circle cx="666" cy="206" r="1.9" fill="#9ad68a" stroke="#5c9450" stroke-width="0.5" fill-opacity="0.72"/>
<circle cx="667" cy="212" r="1.9" fill="#9ad68a" stroke="#5c9450" stroke-width="0.5" fill-opacity="0.72"/>
<circle cx="663" cy="216" r="1.9" fill="#9ad68a" stroke="#5c9450" stroke-width="0.5" fill-opacity="0.72"/>
<circle cx="665" cy="222" r="1.9" fill="#9ad68a" stroke="#5c9450" stroke-width="0.5" fill-opacity="0.72"/>
<circle cx="662" cy="226" r="1.9" fill="#9ad68a" stroke="#5c9450" stroke-width="0.5" fill-opacity="0.72"/>
<circle cx="660" cy="232" r="1.9" fill="#9ad68a" stroke="#5c9450" stroke-width="0.5" fill-opacity="0.72"/>
<circle cx="667" cy="235" r="1.9" fill="#9ad68a" stroke="#5c9450" stroke-width="0.5" fill-opacity="0.72"/>
<circle cx="668" cy="238" r="1.9" fill="#9ad68a" stroke="#5c9450" stroke-width="0.5" fill-opacity="0.72"/>
<circle cx="665.3160611785369" cy="201.5" r="1.9" fill="#9ad68a" stroke="#5c9450" stroke-width="0.5" fill-opacity="0.72"/>
<circle cx="663.5190836867415" cy="241.3" r="1.9" fill="#9ad68a" stroke="#5c9450" stroke-width="0.5" fill-opacity="0.72"/>
<circle cx="659.6243301585808" cy="222.01589964795338" r="1.9" fill="#9ad68a" stroke="#5c9450" stroke-width="0.5" fill-opacity="0.72"/>
<circle cx="659.4590990843765" cy="225.45263409780213" r="1.9" fill="#9ad68a" stroke="#5c9450" stroke-width="0.5" fill-opacity="0.72"/>
<circle cx="665.9898807609497" cy="219.95748673978423" r="1.9" fill="#9ad68a" stroke="#5c9450" stroke-width="0.5" fill-opacity="0.72"/>
<circle cx="663.500547333728" cy="241.1556570757206" r="1.9" fill="#9ad68a" stroke="#5c9450" stroke-width="0.5" fill-opacity="0.72"/>
<circle cx="669.689305129761" cy="207.7118050312306" r="1.9" fill="#9ad68a" stroke="#5c9450" stroke-width="0.5" fill-opacity="0.72"/>
<circle cx="661.445098650353" cy="229.09578496321026" r="1.9" fill="#9ad68a" stroke="#5c9450" stroke-width="0.5" fill-opacity="0.72"/>
<circle cx="668.2274492190628" cy="221.94661536326095" r="1.9" fill="#9ad68a" stroke="#5c9450" stroke-width="0.5" fill-opacity="0.72"/>
<circle cx="668.1045839594725" cy="234.37063829865855" r="1.9" fill="#9ad68a" stroke="#5c9450" stroke-width="0.5" fill-opacity="0.72"/>
<circle cx="662.2280583924903" cy="229.73862801251815" r="1.9" fill="#9ad68a" stroke="#5c9450" stroke-width="0.5" fill-opacity="0.72"/>
<circle cx="659.482105300488" cy="212.01106946840494" r="1.9" fill="#9ad68a" stroke="#5c9450" stroke-width="0.5" fill-opacity="0.72"/>
<circle cx="665.1723557967675" cy="222.00330618028045" r="1.9" fill="#9ad68a" stroke="#5c9450" stroke-width="0.5" fill-opacity="0.72"/>
<circle cx="663.6579839717755" cy="208.22400450827263" r="1.9" fill="#9ad68a" stroke="#5c9450" stroke-width="0.5" fill-opacity="0.72"/>
<circle cx="668.6897848804355" cy="203.08577956739074" r="1.9" fill="#9ad68a" stroke="#5c9450" stroke-width="0.5" fill-opacity="0.72"/>
<circle cx="663.227391135216" cy="229.13479674092565" r="1.9" fill="#9ad68a" stroke="#5c9450" stroke-width="0.5" fill-opacity="0.72"/>
<circle cx="659.6480851329393" cy="220.28472146746358" r="1.9" fill="#9ad68a" stroke="#5c9450" stroke-width="0.5" fill-opacity="0.72"/>
<circle cx="666.855014537057" cy="220.84369037838093" r="1.9" fill="#9ad68a" stroke="#5c9450" stroke-width="0.5" fill-opacity="0.72"/>
<circle cx="663.0696487542826" cy="217.94177305533674" r="1.9" fill="#9ad68a" stroke="#5c9450" stroke-width="0.5" fill-opacity="0.72"/>
<circle cx="659.9964703202083" cy="209.32445200841136" r="1.9" fill="#9ad68a" stroke="#5c9450" stroke-width="0.5" fill-opacity="0.72"/>
<circle cx="667.621142040903" cy="211.5878889765748" r="1.9" fill="#9ad68a" stroke="#5c9450" stroke-width="0.5" fill-opacity="0.72"/>
<circle cx="665.3969565169747" cy="238.10057929221833" r="1.9" fill="#9ad68a" stroke="#5c9450" stroke-width="0.5" fill-opacity="0.72"/>
<text x="291.9" y="364.3" font-size="12" text-anchor="start" fill="#000" font-weight="bold" font-style="normal" stroke="#000" stroke-width="0.05">g</text>
<circle cx="364" cy="420.3" r="3.0" fill="#d5d5d5" stroke="none" stroke-width="0.6"/>
<circle cx="368.2" cy="423.5" r="3.0" fill="#d5d5d5" stroke="none" stroke-width="0.6"/>
<circle cx="345.1" cy="431.5" r="3.0" fill="#d5d5d5" stroke="none" stroke-width="0.6"/>
<circle cx="357" cy="429.4" r="3.0" fill="#d5d5d5" stroke="none" stroke-width="0.6"/>
<circle cx="354.2" cy="434.3" r="3.0" fill="#d5d5d5" stroke="none" stroke-width="0.6"/>
<circle cx="369.6" cy="435" r="3.0" fill="#d5d5d5" stroke="none" stroke-width="0.6"/>
<circle cx="344.9" cy="431.8" r="3.0" fill="#d5d5d5" stroke="none" stroke-width="0.6"/>
<circle cx="354.1" cy="434.8" r="3.0" fill="#d5d5d5" stroke="none" stroke-width="0.6"/>
<circle cx="356.8" cy="433.7" r="3.0" fill="#d5d5d5" stroke="none" stroke-width="0.6"/>
<circle cx="369.5" cy="434.8" r="3.0" fill="#d5d5d5" stroke="none" stroke-width="0.6"/>
<circle cx="329.2" cy="449.1" r="3.0" fill="#d5d5d5" stroke="none" stroke-width="0.6"/>
<circle cx="338.9" cy="450.9" r="3.0" fill="#d5d5d5" stroke="none" stroke-width="0.6"/>
<circle cx="341.9" cy="447.6" r="3.0" fill="#d5d5d5" stroke="none" stroke-width="0.6"/>
<circle cx="347.1" cy="445.7" r="3.0" fill="#d5d5d5" stroke="none" stroke-width="0.6"/>
<circle cx="352.3" cy="444.2" r="3.0" fill="#d5d5d5" stroke="none" stroke-width="0.6"/>
<circle cx="355.3" cy="441.2" r="3.0" fill="#d5d5d5" stroke="none" stroke-width="0.6"/>
<circle cx="359" cy="442.7" r="3.0" fill="#d5d5d5" stroke="none" stroke-width="0.6"/>
<circle cx="364.3" cy="446.4" r="3.0" fill="#d5d5d5" stroke="none" stroke-width="0.6"/>
<circle cx="347.1" cy="452.4" r="3.0" fill="#d5d5d5" stroke="none" stroke-width="0.6"/>
<circle cx="343.4" cy="456.9" r="3.0" fill="#d5d5d5" stroke="none" stroke-width="0.6"/>
<circle cx="335.9" cy="462.8" r="3.0" fill="#d5d5d5" stroke="none" stroke-width="0.6"/>
<circle cx="355.3" cy="464.3" r="3.0" fill="#d5d5d5" stroke="none" stroke-width="0.6"/>
<circle cx="327.7" cy="474" r="3.0" fill="#d5d5d5" stroke="none" stroke-width="0.6"/>
<circle cx="338.1" cy="471.8" r="3.0" fill="#d5d5d5" stroke="none" stroke-width="0.6"/>
<circle cx="325.4" cy="481.5" r="3.0" fill="#d5d5d5" stroke="none" stroke-width="0.6"/>
<circle cx="329.9" cy="483.7" r="3.0" fill="#d5d5d5" stroke="none" stroke-width="0.6"/>
<circle cx="334.4" cy="483" r="3.0" fill="#d5d5d5" stroke="none" stroke-width="0.6"/>
<circle cx="329.2" cy="487.5" r="3.0" fill="#d5d5d5" stroke="none" stroke-width="0.6"/>
<circle cx="331.4" cy="492.7" r="3.0" fill="#d5d5d5" stroke="none" stroke-width="0.6"/>
<circle cx="327.7" cy="501.3" r="3.0" fill="#d5d5d5" stroke="none" stroke-width="0.6"/>
<circle cx="339.6" cy="477" r="3.0" fill="#d5d5d5" stroke="none" stroke-width="0.6"/>
<circle cx="332.9" cy="479.3" r="3.0" fill="#d5d5d5" stroke="none" stroke-width="0.6"/>
<circle cx="350" cy="440" r="3.0" fill="#d5d5d5" stroke="none" stroke-width="0.6"/>
<circle cx="362" cy="438" r="3.0" fill="#d5d5d5" stroke="none" stroke-width="0.6"/>
<circle cx="346" cy="458" r="3.0" fill="#d5d5d5" stroke="none" stroke-width="0.6"/>
<circle cx="333" cy="468" r="3.0" fill="#d5d5d5" stroke="none" stroke-width="0.6"/>
<circle cx="342" cy="463" r="3.0" fill="#d5d5d5" stroke="none" stroke-width="0.6"/>
<circle cx="350.5" cy="447" r="3.0" fill="#d5d5d5" stroke="none" stroke-width="0.6"/>
<circle cx="323" cy="485" r="3.0" fill="#d5d5d5" stroke="none" stroke-width="0.6"/>
<circle cx="336" cy="488" r="3.0" fill="#d5d5d5" stroke="none" stroke-width="0.6"/>
<circle cx="397.9" cy="395.8" r="3.0" fill="#f2b173" stroke="none" stroke-width="0.6"/>
<circle cx="404.6" cy="395.8" r="3.0" fill="#f2b173" stroke="none" stroke-width="0.6"/>
<circle cx="390.6" cy="404.2" r="3.0" fill="#f2b173" stroke="none" stroke-width="0.6"/>
<circle cx="395.1" cy="408.7" r="3.0" fill="#f2b173" stroke="none" stroke-width="0.6"/>
<circle cx="365.1" cy="408.7" r="3.0" fill="#f2b173" stroke="none" stroke-width="0.6"/>
<circle cx="384.7" cy="411.9" r="3.0" fill="#f2b173" stroke="none" stroke-width="0.6"/>
<circle cx="394.1" cy="413.7" r="3.0" fill="#f2b173" stroke="none" stroke-width="0.6"/>
<circle cx="386.7" cy="418.9" r="3.0" fill="#f2b173" stroke="none" stroke-width="0.6"/>
<circle cx="369.6" cy="421.7" r="3.0" fill="#f2b173" stroke="none" stroke-width="0.6"/>
<circle cx="351.1" cy="426.6" r="3.0" fill="#f2b173" stroke="none" stroke-width="0.6"/>
<circle cx="376.6" cy="426.6" r="3.0" fill="#f2b173" stroke="none" stroke-width="0.6"/>
<circle cx="379.7" cy="429.7" r="3.0" fill="#f2b173" stroke="none" stroke-width="0.6"/>
<circle cx="361.2" cy="431.5" r="3.0" fill="#f2b173" stroke="none" stroke-width="0.6"/>
<circle cx="370.7" cy="431.9" r="3.0" fill="#f2b173" stroke="none" stroke-width="0.6"/>
<circle cx="381.9" cy="433.3" r="3.0" fill="#f2b173" stroke="none" stroke-width="0.6"/>
<circle cx="388.5" cy="433.6" r="3.0" fill="#f2b173" stroke="none" stroke-width="0.6"/>
<circle cx="397.8" cy="395.5" r="3.0" fill="#f2b173" stroke="none" stroke-width="0.6"/>
<circle cx="406.9" cy="395.5" r="3.0" fill="#f2b173" stroke="none" stroke-width="0.6"/>
<circle cx="395.7" cy="408.4" r="3.0" fill="#f2b173" stroke="none" stroke-width="0.6"/>
<circle cx="395.7" cy="413.3" r="3.0" fill="#f2b173" stroke="none" stroke-width="0.6"/>
<circle cx="415.7" cy="416.8" r="3.0" fill="#f2b173" stroke="none" stroke-width="0.6"/>
<circle cx="410.7" cy="432.9" r="3.0" fill="#f2b173" stroke="none" stroke-width="0.6"/>
<circle cx="409" cy="437.1" r="3.0" fill="#f2b173" stroke="none" stroke-width="0.6"/>
<circle cx="397.8" cy="437.1" r="3.0" fill="#f2b173" stroke="none" stroke-width="0.6"/>
<circle cx="402" cy="437.1" r="3.0" fill="#f2b173" stroke="none" stroke-width="0.6"/>
<circle cx="361.3" cy="431.8" r="3.0" fill="#f2b173" stroke="none" stroke-width="0.6"/>
<circle cx="370.5" cy="431.8" r="3.0" fill="#f2b173" stroke="none" stroke-width="0.6"/>
<circle cx="381.4" cy="433" r="3.0" fill="#f2b173" stroke="none" stroke-width="0.6"/>
<circle cx="388.1" cy="444.6" r="3.0" fill="#f2b173" stroke="none" stroke-width="0.6"/>
<circle cx="380.7" cy="451.2" r="3.0" fill="#f2b173" stroke="none" stroke-width="0.6"/>
<circle cx="353.5" cy="453.1" r="3.0" fill="#f2b173" stroke="none" stroke-width="0.6"/>
<circle cx="358.3" cy="462.1" r="3.0" fill="#f2b173" stroke="none" stroke-width="0.6"/>
<circle cx="361" cy="464" r="3.0" fill="#f2b173" stroke="none" stroke-width="0.6"/>
<circle cx="391.1" cy="459.1" r="3.0" fill="#f2b173" stroke="none" stroke-width="0.6"/>
<circle cx="337.4" cy="468.5" r="3.0" fill="#f2b173" stroke="none" stroke-width="0.6"/>
<circle cx="341.1" cy="473.6" r="3.0" fill="#f2b173" stroke="none" stroke-width="0.6"/>
<circle cx="347.8" cy="477" r="3.0" fill="#f2b173" stroke="none" stroke-width="0.6"/>
<circle cx="343.1" cy="480.7" r="3.0" fill="#f2b173" stroke="none" stroke-width="0.6"/>
<circle cx="366.5" cy="477" r="3.0" fill="#f2b173" stroke="none" stroke-width="0.6"/>
<circle cx="350.1" cy="491.5" r="3.0" fill="#f2b173" stroke="none" stroke-width="0.6"/>
<circle cx="358.3" cy="490" r="3.0" fill="#f2b173" stroke="none" stroke-width="0.6"/>
<circle cx="366" cy="490" r="3.0" fill="#f2b173" stroke="none" stroke-width="0.6"/>
<circle cx="410.6" cy="433" r="3.0" fill="#f2b173" stroke="none" stroke-width="0.6"/>
<circle cx="398.2" cy="438.2" r="3.0" fill="#f2b173" stroke="none" stroke-width="0.6"/>
<circle cx="402.7" cy="438.2" r="3.0" fill="#f2b173" stroke="none" stroke-width="0.6"/>
<circle cx="409.1" cy="438.2" r="3.0" fill="#f2b173" stroke="none" stroke-width="0.6"/>
<circle cx="390.7" cy="459.1" r="3.0" fill="#f2b173" stroke="none" stroke-width="0.6"/>
<circle cx="388" cy="401" r="3.0" fill="#f2b173" stroke="none" stroke-width="0.6"/>
<circle cx="384" cy="424" r="3.0" fill="#f2b173" stroke="none" stroke-width="0.6"/>
<circle cx="375.5" cy="418.5" r="3.0" fill="#94cd82" stroke="none" stroke-width="0.6"/>
<circle cx="391.7" cy="425.5" r="3.0" fill="#94cd82" stroke="none" stroke-width="0.6"/>
<circle cx="389" cy="424" r="3.0" fill="#94cd82" stroke="none" stroke-width="0.6"/>
<circle cx="393.5" cy="427.5" r="3.0" fill="#94cd82" stroke="none" stroke-width="0.6"/>
<circle cx="391.3" cy="436.4" r="3.0" fill="#94cd82" stroke="none" stroke-width="0.6"/>
<circle cx="439.1" cy="376.2" r="3.0" fill="#94cd82" stroke="none" stroke-width="0.6"/>
<circle cx="416.7" cy="387.4" r="3.0" fill="#94cd82" stroke="none" stroke-width="0.6"/>
<circle cx="419.5" cy="387.4" r="3.0" fill="#94cd82" stroke="none" stroke-width="0.6"/>
<circle cx="439.1" cy="387.4" r="3.0" fill="#94cd82" stroke="none" stroke-width="0.6"/>
<circle cx="427.2" cy="395.1" r="3.0" fill="#94cd82" stroke="none" stroke-width="0.6"/>
<circle cx="423" cy="398.6" r="3.0" fill="#94cd82" stroke="none" stroke-width="0.6"/>
<circle cx="430" cy="403.5" r="3.0" fill="#94cd82" stroke="none" stroke-width="0.6"/>
<circle cx="432.1" cy="403.9" r="3.0" fill="#94cd82" stroke="none" stroke-width="0.6"/>
<circle cx="448.2" cy="400.7" r="3.0" fill="#94cd82" stroke="none" stroke-width="0.6"/>
<circle cx="455.2" cy="397.2" r="3.0" fill="#94cd82" stroke="none" stroke-width="0.6"/>
<circle cx="451" cy="404.9" r="3.0" fill="#94cd82" stroke="none" stroke-width="0.6"/>
<circle cx="448.9" cy="408.4" r="3.0" fill="#94cd82" stroke="none" stroke-width="0.6"/>
<circle cx="452.4" cy="408.4" r="3.0" fill="#94cd82" stroke="none" stroke-width="0.6"/>
<circle cx="423.7" cy="408.4" r="3.0" fill="#94cd82" stroke="none" stroke-width="0.6"/>
<circle cx="426.9" cy="411.9" r="3.0" fill="#94cd82" stroke="none" stroke-width="0.6"/>
<circle cx="458.7" cy="413.3" r="3.0" fill="#94cd82" stroke="none" stroke-width="0.6"/>
<circle cx="413.9" cy="414.7" r="3.0" fill="#94cd82" stroke="none" stroke-width="0.6"/>
<circle cx="451" cy="414.7" r="3.0" fill="#94cd82" stroke="none" stroke-width="0.6"/>
<circle cx="458.7" cy="416.8" r="3.0" fill="#94cd82" stroke="none" stroke-width="0.6"/>
<circle cx="444" cy="418.2" r="3.0" fill="#94cd82" stroke="none" stroke-width="0.6"/>
<circle cx="445.4" cy="420.3" r="3.0" fill="#94cd82" stroke="none" stroke-width="0.6"/>
<circle cx="439.8" cy="421.7" r="3.0" fill="#94cd82" stroke="none" stroke-width="0.6"/>
<circle cx="417.4" cy="424.5" r="3.0" fill="#94cd82" stroke="none" stroke-width="0.6"/>
<circle cx="459.4" cy="424.9" r="3.0" fill="#94cd82" stroke="none" stroke-width="0.6"/>
<circle cx="395" cy="425.9" r="3.0" fill="#94cd82" stroke="none" stroke-width="0.6"/>
<circle cx="374.7" cy="440.7" r="3.0" fill="#94cd82" stroke="none" stroke-width="0.6"/>
<circle cx="376.9" cy="450.9" r="3.0" fill="#94cd82" stroke="none" stroke-width="0.6"/>
<circle cx="377.7" cy="457.6" r="3.0" fill="#94cd82" stroke="none" stroke-width="0.6"/>
<circle cx="372.5" cy="460.6" r="3.0" fill="#94cd82" stroke="none" stroke-width="0.6"/>
<circle cx="362.8" cy="459.1" r="3.0" fill="#94cd82" stroke="none" stroke-width="0.6"/>
<circle cx="366.5" cy="459.1" r="3.0" fill="#94cd82" stroke="none" stroke-width="0.6"/>
<circle cx="348.6" cy="470.6" r="3.0" fill="#94cd82" stroke="none" stroke-width="0.6"/>
<circle cx="353.1" cy="472.5" r="3.0" fill="#94cd82" stroke="none" stroke-width="0.6"/>
<circle cx="358.3" cy="471" r="3.0" fill="#94cd82" stroke="none" stroke-width="0.6"/>
<circle cx="365.7" cy="470.6" r="3.0" fill="#94cd82" stroke="none" stroke-width="0.6"/>
<circle cx="377.7" cy="468.8" r="3.0" fill="#94cd82" stroke="none" stroke-width="0.6"/>
<circle cx="378.9" cy="470.6" r="3.0" fill="#94cd82" stroke="none" stroke-width="0.6"/>
<circle cx="389.6" cy="473.6" r="3.0" fill="#94cd82" stroke="none" stroke-width="0.6"/>
<circle cx="354.6" cy="478.5" r="3.0" fill="#94cd82" stroke="none" stroke-width="0.6"/>
<circle cx="343.4" cy="481.5" r="3.0" fill="#94cd82" stroke="none" stroke-width="0.6"/>
<circle cx="347.1" cy="481.5" r="3.0" fill="#94cd82" stroke="none" stroke-width="0.6"/>
<circle cx="347.1" cy="492.7" r="3.0" fill="#94cd82" stroke="none" stroke-width="0.6"/>
<circle cx="342.6" cy="496.4" r="3.0" fill="#94cd82" stroke="none" stroke-width="0.6"/>
<circle cx="391.4" cy="436.7" r="3.0" fill="#94cd82" stroke="none" stroke-width="0.6"/>
<circle cx="390.7" cy="473.6" r="3.0" fill="#94cd82" stroke="none" stroke-width="0.6"/>
<path d="M325.7,471.7 L329.0,469.8 L332.4,467.9 L335.7,466.1 L339.1,464.2 L342.4,462.3 L345.8,460.4 L349.1,458.5 L352.4,456.5 L355.8,454.6 L359.1,452.6 L362.5,450.6 L365.8,448.5 L369.2,446.4 L372.5,444.3 L375.8,442.1 L379.2,439.9 L382.5,437.7 L385.9,435.4 L389.2,433.1 L392.5,430.7 L395.9,428.4 L399.2,426.0 L402.6,423.6 L405.9,421.3 L409.3,418.9 L412.6,416.4 L415.9,414.0 L419.3,411.6 L422.6,409.2 L426.0,406.8 L429.3,404.3 L432.7,401.9 L436.0,399.5 L439.3,397.0 L442.7,394.6 L446.0,392.1 L449.4,389.7 L452.7,387.3 L456.1,384.8 L459.4,382.4 L459.4,399.4 L456.1,401.3 L452.7,403.1 L449.4,404.9 L446.0,406.8 L442.7,408.6 L439.3,410.5 L436.0,412.3 L432.7,414.2 L429.3,416.0 L426.0,417.9 L422.6,419.7 L419.3,421.6 L415.9,423.5 L412.6,425.3 L409.3,427.2 L405.9,429.1 L402.6,431.0 L399.2,432.9 L395.9,434.8 L392.5,436.8 L389.2,438.7 L385.9,440.7 L382.5,442.7 L379.2,444.7 L375.8,446.8 L372.5,448.9 L369.2,451.1 L365.8,453.3 L362.5,455.5 L359.1,457.8 L355.8,460.1 L352.4,462.4 L349.1,464.8 L345.8,467.1 L342.4,469.5 L339.1,471.9 L335.7,474.3 L332.4,476.7 L329.0,479.1 L325.7,481.5 Z" fill="#000" fill-opacity="0.16"/>
<line x1="325.7" y1="476.6" x2="459.4" y2="390.9" stroke="#222" stroke-width="0.9"/>
<rect x="318.6" y="370.5" width="147.79999999999995" height="136.8" fill="none" stroke="#444" stroke-width="1.1"/>
<line x1="316" y1="374.6" x2="318.6" y2="374.6" stroke="#444" stroke-width="0.9"/>
<text x="315.2" y="377.1" font-size="7.4" text-anchor="end" fill="#222" font-weight="normal" font-style="normal" stroke="#222" stroke-width="0.05">1.2</text>
<line x1="316" y1="407.34000000000003" x2="318.6" y2="407.34000000000003" stroke="#444" stroke-width="0.9"/>
<text x="315.2" y="409.84000000000003" font-size="7.4" text-anchor="end" fill="#222" font-weight="normal" font-style="normal" stroke="#222" stroke-width="0.05">1.0</text>
<line x1="316" y1="440.08" x2="318.6" y2="440.08" stroke="#444" stroke-width="0.9"/>
<text x="315.2" y="442.58" font-size="7.4" text-anchor="end" fill="#222" font-weight="normal" font-style="normal" stroke="#222" stroke-width="0.05">0.8</text>
<line x1="316" y1="472.82" x2="318.6" y2="472.82" stroke="#444" stroke-width="0.9"/>
<text x="315.2" y="475.32" font-size="7.4" text-anchor="end" fill="#222" font-weight="normal" font-style="normal" stroke="#222" stroke-width="0.05">0.6</text>
<line x1="316" y1="505.56" x2="318.6" y2="505.56" stroke="#444" stroke-width="0.9"/>
<text x="315.2" y="508.06" font-size="7.4" text-anchor="end" fill="#222" font-weight="normal" font-style="normal" stroke="#222" stroke-width="0.05">0.4</text>
<line x1="327.7" y1="507.3" x2="327.7" y2="509.90000000000003" stroke="#444" stroke-width="0.9"/>
<text x="327.7" y="517.3" font-size="7.4" text-anchor="middle" fill="#222" font-weight="normal" font-style="normal" stroke="#222" stroke-width="0.05">5</text>
<line x1="359.55" y1="507.3" x2="359.55" y2="509.90000000000003" stroke="#444" stroke-width="0.9"/>
<text x="359.55" y="517.3" font-size="7.4" text-anchor="middle" fill="#222" font-weight="normal" font-style="normal" stroke="#222" stroke-width="0.05">10</text>
<line x1="391.4" y1="507.3" x2="391.4" y2="509.90000000000003" stroke="#444" stroke-width="0.9"/>
<text x="391.4" y="517.3" font-size="7.4" text-anchor="middle" fill="#222" font-weight="normal" font-style="normal" stroke="#222" stroke-width="0.05">15</text>
<line x1="423.25" y1="507.3" x2="423.25" y2="509.90000000000003" stroke="#444" stroke-width="0.9"/>
<text x="423.25" y="517.3" font-size="7.4" text-anchor="middle" fill="#222" font-weight="normal" font-style="normal" stroke="#222" stroke-width="0.05">20</text>
<line x1="455.1" y1="507.3" x2="455.1" y2="509.90000000000003" stroke="#444" stroke-width="0.9"/>
<text x="455.1" y="517.3" font-size="7.4" text-anchor="middle" fill="#222" font-weight="normal" font-style="normal" stroke="#222" stroke-width="0.05">25</text>
<text x="382.1" y="528.8" font-size="7.4" text-anchor="middle" fill="#222" stroke="#222" stroke-width="0.05">Lateral root density (no.cm<tspan dy="-2.4" font-size="5">-1</tspan><tspan dy="2.4">)</tspan></text>
<text x="299.2" y="438.2" font-size="7.4" text-anchor="middle" fill="#222" transform="rotate(-90 299.2 438.2)" stroke="#222" stroke-width="0.05">Shoot dry weight (g plant<tspan dy="-2.4" font-size="5">-1</tspan><tspan dy="2.4">)</tspan></text>
<text x="329.7" y="386" font-size="7.4" letter-spacing="0.12" fill="#222" stroke="#222" stroke-width="0.05"><tspan font-style="italic">R</tspan> = 0.79, <tspan font-style="italic">p</tspan> = 2.2e-16</text>
<rect x="417.3" y="470.3" width="49.099999999999966" height="37.0" fill="#fff" stroke="#444" stroke-width="1.0"/>
<circle cx="421.8" cy="478.1" r="2.9" fill="#94cd82" stroke="none" stroke-width="0.6"/>
<text x="429.1" y="480.70000000000005" font-size="7.4" text-anchor="start" fill="#222" font-weight="normal" font-style="normal" stroke="#222" stroke-width="0.05">ASV37</text>
<circle cx="421.8" cy="488.2" r="2.9" fill="#f2b173" stroke="none" stroke-width="0.6"/>
<text x="429.1" y="490.8" font-size="7.4" text-anchor="start" fill="#222" font-weight="normal" font-style="normal" stroke="#222" stroke-width="0.05">Sterilized</text>
<circle cx="421.8" cy="498.4" r="2.9" fill="#d5d5d5" stroke="none" stroke-width="0.6"/>
<text x="429.1" y="501.0" font-size="7.4" text-anchor="start" fill="#222" font-weight="normal" font-style="normal" stroke="#222" stroke-width="0.05">Unsterilized</text>
<text x="502" y="364" font-size="12" text-anchor="start" fill="#000" font-weight="bold" font-style="normal" stroke="#000" stroke-width="0.05">h</text>
<circle cx="528.9" cy="481" r="2.9" fill="#d5d5d5" stroke="none" stroke-width="0.6"/>
<circle cx="547.4" cy="477.7" r="2.9" fill="#d5d5d5" stroke="none" stroke-width="0.6"/>
<circle cx="544.3" cy="488.6" r="2.9" fill="#d5d5d5" stroke="none" stroke-width="0.6"/>
<circle cx="545.7" cy="499.2" r="2.9" fill="#d5d5d5" stroke="none" stroke-width="0.6"/>
<circle cx="542.9" cy="501.2" r="2.9" fill="#d5d5d5" stroke="none" stroke-width="0.6"/>
<circle cx="545.7" cy="453.1" r="2.9" fill="#f2b173" stroke="none" stroke-width="0.6"/>
<circle cx="548.8" cy="454.5" r="2.9" fill="#f2b173" stroke="none" stroke-width="0.6"/>
<circle cx="561.9" cy="453.9" r="2.9" fill="#f2b173" stroke="none" stroke-width="0.6"/>
<circle cx="552.2" cy="462" r="2.9" fill="#f2b173" stroke="none" stroke-width="0.6"/>
<circle cx="549.9" cy="483" r="2.9" fill="#f2b173" stroke="none" stroke-width="0.6"/>
<circle cx="664.9" cy="413.9" r="2.9" fill="#94cd82" stroke="none" stroke-width="0.6"/>
<circle cx="581" cy="439.1" r="2.9" fill="#94cd82" stroke="none" stroke-width="0.6"/>
<circle cx="561.1" cy="448" r="2.9" fill="#94cd82" stroke="none" stroke-width="0.6"/>
<circle cx="576.8" cy="450.3" r="2.9" fill="#94cd82" stroke="none" stroke-width="0.6"/>
<circle cx="593.3" cy="451.1" r="2.9" fill="#94cd82" stroke="none" stroke-width="0.6"/>
<path d="M529.0,470.7 L532.4,469.4 L535.8,468.0 L539.2,466.5 L542.6,465.1 L546.0,463.5 L549.4,461.9 L552.8,460.2 L556.2,458.5 L559.6,456.6 L563.0,454.7 L566.4,452.6 L569.8,450.5 L573.2,448.3 L576.6,446.0 L580.0,443.7 L583.4,441.3 L586.8,438.8 L590.2,436.3 L593.6,433.7 L597.0,431.1 L600.3,428.5 L603.7,425.9 L607.1,423.2 L610.5,420.5 L613.9,417.8 L617.3,415.1 L620.7,412.4 L624.1,409.6 L627.5,406.9 L630.9,404.1 L634.3,401.4 L637.7,398.6 L641.1,395.8 L644.5,393.0 L647.9,390.2 L651.3,387.4 L654.7,384.6 L658.1,381.8 L661.5,379.0 L664.9,376.2 L664.9,434.4 L661.5,435.5 L658.1,436.6 L654.7,437.7 L651.3,438.8 L647.9,439.9 L644.5,441.0 L641.1,442.1 L637.7,443.2 L634.3,444.3 L630.9,445.5 L627.5,446.6 L624.1,447.8 L620.7,448.9 L617.3,450.1 L613.9,451.3 L610.5,452.5 L607.1,453.7 L603.7,454.9 L600.3,456.2 L597.0,457.5 L593.6,458.8 L590.2,460.1 L586.8,461.5 L583.4,462.9 L580.0,464.4 L576.6,466.0 L573.2,467.6 L569.8,469.3 L566.4,471.1 L563.0,472.9 L559.6,474.9 L556.2,476.9 L552.8,479.1 L549.4,481.3 L546.0,483.6 L542.6,485.9 L539.2,488.4 L535.8,490.8 L532.4,493.3 L529.0,495.9 Z" fill="#000" fill-opacity="0.16"/>
<line x1="529" y1="483" x2="664.9" y2="405.5" stroke="#222" stroke-width="0.9"/>
<rect x="522.3" y="369.2" width="149.30000000000007" height="138.40000000000003" fill="none" stroke="#444" stroke-width="1.1"/>
<line x1="519.6" y1="399.9" x2="522.3" y2="399.9" stroke="#444" stroke-width="0.9"/>
<text x="518.4" y="402.4" font-size="7.4" text-anchor="end" fill="#222" font-weight="normal" font-style="normal" stroke="#222" stroke-width="0.05">80</text>
<line x1="519.6" y1="434.21999999999997" x2="522.3" y2="434.21999999999997" stroke="#444" stroke-width="0.9"/>
<text x="518.4" y="436.71999999999997" font-size="7.4" text-anchor="end" fill="#222" font-weight="normal" font-style="normal" stroke="#222" stroke-width="0.05">60</text>
<line x1="519.6" y1="468.53999999999996" x2="522.3" y2="468.53999999999996" stroke="#444" stroke-width="0.9"/>
<text x="518.4" y="471.03999999999996" font-size="7.4" text-anchor="end" fill="#222" font-weight="normal" font-style="normal" stroke="#222" stroke-width="0.05">40</text>
<line x1="519.6" y1="502.85999999999996" x2="522.3" y2="502.85999999999996" stroke="#444" stroke-width="0.9"/>
<text x="518.4" y="505.35999999999996" font-size="7.4" text-anchor="end" fill="#222" font-weight="normal" font-style="normal" stroke="#222" stroke-width="0.05">20</text>
<line x1="539.0" y1="507.6" x2="539.0" y2="510.20000000000005" stroke="#444" stroke-width="0.9"/>
<text x="539.0" y="516.3" font-size="7.4" text-anchor="middle" fill="#222" font-weight="normal" font-style="normal" stroke="#222" stroke-width="0.05">50</text>
<line x1="584.05" y1="507.6" x2="584.05" y2="510.20000000000005" stroke="#444" stroke-width="0.9"/>
<text x="584.05" y="516.3" font-size="7.4" text-anchor="middle" fill="#222" font-weight="normal" font-style="normal" stroke="#222" stroke-width="0.05">100</text>
<line x1="629.1" y1="507.6" x2="629.1" y2="510.20000000000005" stroke="#444" stroke-width="0.9"/>
<text x="629.1" y="516.3" font-size="7.4" text-anchor="middle" fill="#222" font-weight="normal" font-style="normal" stroke="#222" stroke-width="0.05">150</text>
<text x="593.2" y="528.2" font-size="7.55" text-anchor="middle" fill="#222" font-weight="normal" font-style="normal" stroke="#222" stroke-width="0.05">MPH of lateral root density (%)</text>
<text x="506.6" y="435.2" font-size="7.9" text-anchor="middle" fill="#222" font-weight="normal" font-style="normal" transform="rotate(-90 506.6 435.2)" stroke="#222" stroke-width="0.05">MPH of shoot dry weight (%)</text>
<text x="531.2" y="385.3" font-size="7.4" letter-spacing="0.22" fill="#222" stroke="#222" stroke-width="0.05"><tspan font-style="italic">R</tspan> = 0.78, <tspan font-style="italic">p</tspan> = 6e-04</text>
<rect x="622.1" y="473.5" width="49.5" height="34.10000000000002" fill="#fff" stroke="#444" stroke-width="1.0"/>
<circle cx="626.3" cy="480.2" r="2.8" fill="#94cd82" stroke="none" stroke-width="0.6"/>
<text x="632.4" y="482.7" font-size="7.5" text-anchor="start" fill="#222" font-weight="normal" font-style="normal" stroke="#222" stroke-width="0.05">ASV37</text>
<circle cx="626.3" cy="490" r="2.8" fill="#f2b173" stroke="none" stroke-width="0.6"/>
<text x="632.4" y="492.5" font-size="7.5" text-anchor="start" fill="#222" font-weight="normal" font-style="normal" stroke="#222" stroke-width="0.05">Sterilized</text>
<circle cx="626.3" cy="500.1" r="2.8" fill="#d5d5d5" stroke="none" stroke-width="0.6"/>
<text x="632.4" y="502.6" font-size="7.5" text-anchor="start" fill="#222" font-weight="normal" font-style="normal" stroke="#222" stroke-width="0.05">Unsterilized</text>
</svg></body></html>
